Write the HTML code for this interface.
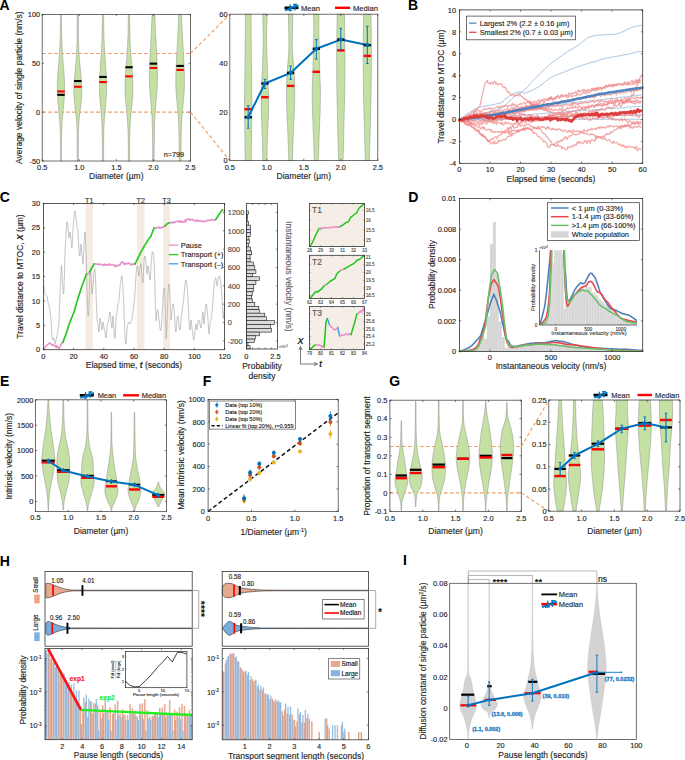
<!DOCTYPE html>
<html><head><meta charset="utf-8"><style>
html,body{margin:0;padding:0;background:#fff;}
svg{display:block;}
text{font-family:"Liberation Sans", sans-serif;}
</style></head><body>
<svg width="685" height="760" viewBox="0 0 685 760" font-family='"Liberation Sans", sans-serif'>
<rect width="685" height="760" fill="#fff"/>
<text x="-0.4" y="10.4" font-size="14" fill="#000" font-weight="bold">A</text>
<line x1="42.2" y1="53.5" x2="190.5" y2="53.5" stroke="#f39a5d" stroke-width="1.1" stroke-linecap="butt" stroke-dasharray="3.6,2.4"/>
<line x1="42.2" y1="112.1" x2="190.5" y2="112.1" stroke="#f39a5d" stroke-width="1.1" stroke-linecap="butt" stroke-dasharray="3.6,2.4"/>
<polygon points="60.5,14.4 60.5,16.2 60.5,18.1 60.5,19.9 60.5,21.7 60.4,23.6 60.4,25.4 60.4,27.2 60.4,29.1 60.4,30.9 60.3,32.7 60.3,34.6 60.2,36.4 60.2,38.2 60.1,40.1 60.1,41.9 60,43.7 59.9,45.6 59.8,47.4 59.7,49.2 59.6,51.1 59.5,52.9 59.4,54.7 59.3,56.5 59.1,58.4 59,60.2 58.8,62 58.7,63.9 58.5,65.7 58.4,67.5 58.2,69.4 58.1,71.2 57.9,73 57.8,74.9 57.7,76.7 57.6,78.5 57.5,80.4 57.4,82.2 57.4,84 57.3,85.9 57.3,87.7 57.3,89.5 57.3,91.4 57.4,93.2 57.5,95 57.6,96.9 57.7,98.7 57.8,100.5 58,102.4 58.2,104.2 58.4,106 58.5,107.9 58.7,109.7 58.9,111.5 59.1,113.4 59.2,115.2 59.4,117 59.5,118.9 59.7,120.7 59.8,122.5 59.9,124.3 60,126.2 60.1,128 60.2,129.8 60.2,131.7 60.3,133.5 60.3,135.3 60.4,137.2 60.4,139 60.4,140.8 60.4,142.7 60.5,144.5 60.5,146.3 60.5,148.2 60.5,150 60.5,151.8 60.5,153.7 60.5,155.5 60.5,157.3 60.5,159.2 60.5,161 61.4,161 61.4,159.2 61.4,157.3 61.4,155.5 61.4,153.7 61.4,151.8 61.4,150 61.4,148.2 61.5,146.3 61.5,144.5 61.5,142.7 61.5,140.8 61.5,139 61.6,137.2 61.6,135.3 61.6,133.5 61.7,131.7 61.8,129.8 61.8,128 61.9,126.2 62,124.3 62.1,122.5 62.2,120.7 62.4,118.9 62.5,117 62.7,115.2 62.9,113.4 63,111.5 63.2,109.7 63.4,107.9 63.6,106 63.7,104.2 63.9,102.4 64.1,100.5 64.2,98.7 64.3,96.9 64.4,95 64.5,93.2 64.6,91.4 64.6,89.5 64.6,87.7 64.6,85.9 64.5,84 64.5,82.2 64.4,80.4 64.3,78.5 64.2,76.7 64.1,74.9 64,73 63.8,71.2 63.7,69.4 63.5,67.5 63.4,65.7 63.2,63.9 63.1,62 62.9,60.2 62.8,58.4 62.7,56.5 62.5,54.7 62.4,52.9 62.3,51.1 62.2,49.2 62.1,47.4 62,45.6 61.9,43.7 61.8,41.9 61.8,40.1 61.7,38.2 61.7,36.4 61.6,34.6 61.6,32.7 61.6,30.9 61.5,29.1 61.5,27.2 61.5,25.4 61.5,23.6 61.5,21.7 61.5,19.9 61.4,18.1 61.4,16.2 61.4,14.4" fill="#c5e0a3" stroke="#8c8c8c" stroke-width="0.5"/>
<polygon points="77.2,14.4 77.2,16.2 77.2,18.1 77.2,19.9 77.2,21.7 77.2,23.6 77.2,25.4 77.2,27.2 77.2,29.1 77.2,30.9 77.2,32.7 77.1,34.6 77.1,36.4 77.1,38.2 77.1,40.1 77,41.9 77,43.7 76.9,45.6 76.8,47.4 76.8,49.2 76.7,51.1 76.6,52.9 76.5,54.7 76.3,56.5 76.2,58.4 76.1,60.2 75.9,62 75.8,63.9 75.6,65.7 75.4,67.5 75.3,69.4 75.1,71.2 74.9,73 74.7,74.9 74.6,76.7 74.4,78.5 74.3,80.4 74.2,82.2 74,84 74,85.9 73.9,87.7 73.9,89.5 73.8,91.4 73.9,93.2 73.9,95 74,96.9 74.1,98.7 74.3,100.5 74.5,102.4 74.7,104.2 74.9,106 75.1,107.9 75.4,109.7 75.6,111.5 75.8,113.4 76,115.2 76.2,117 76.4,118.9 76.5,120.7 76.6,122.5 76.8,124.3 76.9,126.2 76.9,128 77,129.8 77.1,131.7 77.1,133.5 77.1,135.3 77.2,137.2 77.2,139 77.2,140.8 77.2,142.7 77.2,144.5 77.2,146.3 77.2,148.2 77.2,150 77.2,151.8 77.2,153.7 77.2,155.5 77.2,157.3 77.2,159.2 77.2,161 78.3,161 78.3,159.2 78.3,157.3 78.3,155.5 78.3,153.7 78.3,151.8 78.3,150 78.4,148.2 78.4,146.3 78.4,144.5 78.4,142.7 78.4,140.8 78.4,139 78.4,137.2 78.4,135.3 78.5,133.5 78.5,131.7 78.6,129.8 78.7,128 78.7,126.2 78.8,124.3 78.9,122.5 79.1,120.7 79.2,118.9 79.4,117 79.6,115.2 79.8,113.4 80,111.5 80.2,109.7 80.4,107.9 80.7,106 80.9,104.2 81.1,102.4 81.3,100.5 81.4,98.7 81.6,96.9 81.7,95 81.7,93.2 81.7,91.4 81.7,89.5 81.7,87.7 81.6,85.9 81.5,84 81.4,82.2 81.3,80.4 81.2,78.5 81,76.7 80.9,74.9 80.7,73 80.5,71.2 80.3,69.4 80.2,67.5 80,65.7 79.8,63.9 79.7,62 79.5,60.2 79.4,58.4 79.2,56.5 79.1,54.7 79,52.9 78.9,51.1 78.8,49.2 78.8,47.4 78.7,45.6 78.6,43.7 78.6,41.9 78.5,40.1 78.5,38.2 78.5,36.4 78.4,34.6 78.4,32.7 78.4,30.9 78.4,29.1 78.4,27.2 78.4,25.4 78.4,23.6 78.4,21.7 78.4,19.9 78.4,18.1 78.3,16.2 78.3,14.4" fill="#c5e0a3" stroke="#8c8c8c" stroke-width="0.5"/>
<polygon points="102.4,14.4 102.3,16.2 102.3,18.1 102.3,19.9 102.3,21.7 102.3,23.6 102.3,25.4 102.2,27.2 102.2,29.1 102.2,30.9 102.1,32.7 102.1,34.6 102,36.4 102,38.2 101.9,40.1 101.8,41.9 101.8,43.7 101.7,45.6 101.6,47.4 101.5,49.2 101.4,51.1 101.3,52.9 101.2,54.7 101,56.5 100.9,58.4 100.8,60.2 100.7,62 100.5,63.9 100.4,65.7 100.3,67.5 100.2,69.4 100.1,71.2 99.9,73 99.8,74.9 99.8,76.7 99.7,78.5 99.6,80.4 99.6,82.2 99.5,84 99.5,85.9 99.5,87.7 99.5,89.5 99.6,91.4 99.6,93.2 99.7,95 99.8,96.9 99.9,98.7 100.1,100.5 100.2,102.4 100.4,104.2 100.5,106 100.7,107.9 100.9,109.7 101,111.5 101.2,113.4 101.3,115.2 101.5,117 101.6,118.9 101.7,120.7 101.8,122.5 101.9,124.3 102,126.2 102.1,128 102.1,129.8 102.2,131.7 102.2,133.5 102.3,135.3 102.3,137.2 102.3,139 102.3,140.8 102.3,142.7 102.4,144.5 102.4,146.3 102.4,148.2 102.4,150 102.4,151.8 102.4,153.7 102.4,155.5 102.4,157.3 102.4,159.2 102.4,161 103.6,161 103.6,159.2 103.6,157.3 103.6,155.5 103.6,153.7 103.6,151.8 103.6,150 103.6,148.2 103.6,146.3 103.6,144.5 103.7,142.7 103.7,140.8 103.7,139 103.7,137.2 103.8,135.3 103.8,133.5 103.8,131.7 103.9,129.8 103.9,128 104,126.2 104.1,124.3 104.2,122.5 104.3,120.7 104.4,118.9 104.5,117 104.7,115.2 104.8,113.4 105,111.5 105.1,109.7 105.3,107.9 105.5,106 105.6,104.2 105.8,102.4 105.9,100.5 106.1,98.7 106.2,96.9 106.3,95 106.4,93.2 106.5,91.4 106.5,89.5 106.5,87.7 106.5,85.9 106.5,84 106.4,82.2 106.4,80.4 106.3,78.5 106.2,76.7 106.2,74.9 106.1,73 106,71.2 105.8,69.4 105.7,67.5 105.6,65.7 105.5,63.9 105.3,62 105.2,60.2 105.1,58.4 105,56.5 104.9,54.7 104.7,52.9 104.6,51.1 104.5,49.2 104.4,47.4 104.3,45.6 104.3,43.7 104.2,41.9 104.1,40.1 104,38.2 104,36.4 103.9,34.6 103.9,32.7 103.8,30.9 103.8,29.1 103.8,27.2 103.7,25.4 103.7,23.6 103.7,21.7 103.7,19.9 103.7,18.1 103.7,16.2 103.6,14.4" fill="#c5e0a3" stroke="#8c8c8c" stroke-width="0.5"/>
<polygon points="128.3,14.4 128.3,16.2 128.3,18.1 128.3,19.9 128.3,21.7 128.2,23.6 128.2,25.4 128.2,27.2 128.1,29.1 128.1,30.9 128.1,32.7 128,34.6 128,36.4 127.9,38.2 127.8,40.1 127.7,41.9 127.7,43.7 127.6,45.6 127.5,47.4 127.4,49.2 127.3,51.1 127.1,52.9 127,54.7 126.9,56.5 126.7,58.4 126.6,60.2 126.5,62 126.3,63.9 126.2,65.7 126,67.5 125.9,69.4 125.8,71.2 125.6,73 125.5,74.9 125.4,76.7 125.3,78.5 125.2,80.4 125.2,82.2 125.1,84 125.1,85.9 125.1,87.7 125.1,89.5 125.1,91.4 125.1,93.2 125.2,95 125.3,96.9 125.5,98.7 125.6,100.5 125.8,102.4 125.9,104.2 126.1,106 126.3,107.9 126.5,109.7 126.7,111.5 126.9,113.4 127,115.2 127.2,117 127.4,118.9 127.5,120.7 127.6,122.5 127.7,124.3 127.8,126.2 127.9,128 128,129.8 128.1,131.7 128.1,133.5 128.2,135.3 128.2,137.2 128.2,139 128.3,140.8 128.3,142.7 128.3,144.5 128.3,146.3 128.3,148.2 128.3,150 128.3,151.8 128.3,153.7 128.3,155.5 128.3,157.3 128.4,159.2 128.4,161 129.6,161 129.6,159.2 129.6,157.3 129.6,155.5 129.6,153.7 129.6,151.8 129.6,150 129.6,148.2 129.6,146.3 129.6,144.5 129.6,142.7 129.6,140.8 129.7,139 129.7,137.2 129.7,135.3 129.8,133.5 129.8,131.7 129.9,129.8 130,128 130.1,126.2 130.2,124.3 130.3,122.5 130.4,120.7 130.6,118.9 130.7,117 130.9,115.2 131,113.4 131.2,111.5 131.4,109.7 131.6,107.9 131.8,106 132,104.2 132.1,102.4 132.3,100.5 132.4,98.7 132.6,96.9 132.7,95 132.8,93.2 132.8,91.4 132.9,89.5 132.9,87.7 132.8,85.9 132.8,84 132.8,82.2 132.7,80.4 132.6,78.5 132.5,76.7 132.4,74.9 132.3,73 132.2,71.2 132,69.4 131.9,67.5 131.7,65.7 131.6,63.9 131.5,62 131.3,60.2 131.2,58.4 131,56.5 130.9,54.7 130.8,52.9 130.7,51.1 130.5,49.2 130.4,47.4 130.3,45.6 130.2,43.7 130.2,41.9 130.1,40.1 130,38.2 130,36.4 129.9,34.6 129.8,32.7 129.8,30.9 129.8,29.1 129.7,27.2 129.7,25.4 129.7,23.6 129.7,21.7 129.6,19.9 129.6,18.1 129.6,16.2 129.6,14.4" fill="#c5e0a3" stroke="#8c8c8c" stroke-width="0.5"/>
<polygon points="152,14.4 152,16.2 151.9,18.1 151.8,19.9 151.8,21.7 151.7,23.6 151.6,25.4 151.5,27.2 151.5,29.1 151.4,30.9 151.3,32.7 151.2,34.6 151.1,36.4 151,38.2 150.9,40.1 150.8,41.9 150.7,43.7 150.6,45.6 150.5,47.4 150.4,49.2 150.3,51.1 150.2,52.9 150.1,54.7 150,56.5 149.9,58.4 149.8,60.2 149.8,62 149.7,63.9 149.6,65.7 149.6,67.5 149.5,69.4 149.5,71.2 149.5,73 149.4,74.9 149.4,76.7 149.4,78.5 149.4,80.4 149.5,82.2 149.5,84 149.6,85.9 149.7,87.7 149.8,89.5 149.9,91.4 150.1,93.2 150.2,95 150.4,96.9 150.5,98.7 150.7,100.5 150.9,102.4 151,104.2 151.2,106 151.3,107.9 151.5,109.7 151.6,111.5 151.7,113.4 151.9,115.2 152,117 152.1,118.9 152.1,120.7 152.2,122.5 152.3,124.3 152.3,126.2 152.4,128 152.4,129.8 152.5,131.7 152.5,133.5 152.5,135.3 152.5,137.2 152.6,139 152.6,140.8 152.6,142.7 152.6,144.5 152.6,146.3 152.6,148.2 152.6,150 152.6,151.8 152.6,153.7 152.6,155.5 152.6,157.3 152.6,159.2 152.6,161 154.2,161 154.2,159.2 154.2,157.3 154.2,155.5 154.2,153.7 154.2,151.8 154.2,150 154.2,148.2 154.2,146.3 154.3,144.5 154.3,142.7 154.3,140.8 154.3,139 154.3,137.2 154.3,135.3 154.4,133.5 154.4,131.7 154.4,129.8 154.5,128 154.5,126.2 154.6,124.3 154.6,122.5 154.7,120.7 154.8,118.9 154.9,117 155,115.2 155.1,113.4 155.2,111.5 155.4,109.7 155.5,107.9 155.7,106 155.8,104.2 156,102.4 156.2,100.5 156.3,98.7 156.5,96.9 156.6,95 156.8,93.2 156.9,91.4 157.1,89.5 157.2,87.7 157.3,85.9 157.3,84 157.4,82.2 157.4,80.4 157.4,78.5 157.4,76.7 157.4,74.9 157.4,73 157.3,71.2 157.3,69.4 157.3,67.5 157.2,65.7 157.1,63.9 157.1,62 157,60.2 156.9,58.4 156.8,56.5 156.8,54.7 156.7,52.9 156.6,51.1 156.5,49.2 156.4,47.4 156.3,45.6 156.2,43.7 156.1,41.9 156,40.1 155.9,38.2 155.8,36.4 155.7,34.6 155.6,32.7 155.5,30.9 155.4,29.1 155.3,27.2 155.2,25.4 155.2,23.6 155.1,21.7 155,19.9 154.9,18.1 154.9,16.2 154.8,14.4" fill="#c5e0a3" stroke="#8c8c8c" stroke-width="0.5"/>
<polygon points="178.7,14.4 178.7,16.2 178.6,18.1 178.5,19.9 178.5,21.7 178.4,23.6 178.3,25.4 178.2,27.2 178.2,29.1 178.1,30.9 178,32.7 177.9,34.6 177.8,36.4 177.7,38.2 177.6,40.1 177.5,41.9 177.4,43.7 177.3,45.6 177.2,47.4 177.1,49.2 177,51.1 176.9,52.9 176.7,54.7 176.6,56.5 176.5,58.4 176.5,60.2 176.4,62 176.3,63.9 176.2,65.7 176.1,67.5 176.1,69.4 176,71.2 175.9,73 175.9,74.9 175.9,76.7 175.8,78.5 175.8,80.4 175.8,82.2 175.8,84 175.9,85.9 175.9,87.7 176,89.5 176.1,91.4 176.2,93.2 176.3,95 176.5,96.9 176.6,98.7 176.8,100.5 177,102.4 177.1,104.2 177.3,106 177.5,107.9 177.7,109.7 177.8,111.5 178,113.4 178.1,115.2 178.3,117 178.4,118.9 178.5,120.7 178.6,122.5 178.7,124.3 178.8,126.2 178.8,128 178.9,129.8 179,131.7 179,133.5 179,135.3 179.1,137.2 179.1,139 179.1,140.8 179.1,142.7 179.2,144.5 179.2,146.3 179.2,148.2 179.2,150 179.2,151.8 179.2,153.7 179.2,155.5 179.2,157.3 179.2,159.2 179.2,161 181,161 181,159.2 181,157.3 181,155.5 181,153.7 181,151.8 181,150 181.1,148.2 181.1,146.3 181.1,144.5 181.1,142.7 181.1,140.8 181.1,139 181.2,137.2 181.2,135.3 181.2,133.5 181.3,131.7 181.3,129.8 181.4,128 181.5,126.2 181.5,124.3 181.6,122.5 181.7,120.7 181.9,118.9 182,117 182.1,115.2 182.3,113.4 182.4,111.5 182.6,109.7 182.7,107.9 182.9,106 183.1,104.2 183.3,102.4 183.4,100.5 183.6,98.7 183.8,96.9 183.9,95 184,93.2 184.2,91.4 184.3,89.5 184.3,87.7 184.4,85.9 184.4,84 184.4,82.2 184.4,80.4 184.4,78.5 184.4,76.7 184.3,74.9 184.3,73 184.2,71.2 184.2,69.4 184.1,67.5 184,65.7 184,63.9 183.9,62 183.8,60.2 183.7,58.4 183.6,56.5 183.5,54.7 183.4,52.9 183.3,51.1 183.2,49.2 183.1,47.4 183,45.6 182.9,43.7 182.7,41.9 182.6,40.1 182.5,38.2 182.4,36.4 182.3,34.6 182.3,32.7 182.2,30.9 182.1,29.1 182,27.2 181.9,25.4 181.8,23.6 181.8,21.7 181.7,19.9 181.6,18.1 181.6,16.2 181.5,14.4" fill="#c5e0a3" stroke="#8c8c8c" stroke-width="0.5"/>
<rect x="57.3" y="90.4" width="7.4" height="2.1" fill="#ff0000" stroke="none" stroke-width="0.8"/>
<rect x="57.3" y="93.8" width="7.4" height="2.1" fill="#000000" stroke="none" stroke-width="0.8"/>
<rect x="74.1" y="85.7" width="7.4" height="2.1" fill="#ff0000" stroke="none" stroke-width="0.8"/>
<rect x="74.1" y="80" width="7.4" height="2.1" fill="#000000" stroke="none" stroke-width="0.8"/>
<rect x="99.3" y="81" width="7.4" height="2.1" fill="#ff0000" stroke="none" stroke-width="0.8"/>
<rect x="99.3" y="75.9" width="7.4" height="2.1" fill="#000000" stroke="none" stroke-width="0.8"/>
<rect x="125.3" y="75.3" width="7.4" height="2.1" fill="#ff0000" stroke="none" stroke-width="0.8"/>
<rect x="125.3" y="66.2" width="7.4" height="2.1" fill="#000000" stroke="none" stroke-width="0.8"/>
<rect x="149.7" y="66.9" width="7.4" height="2.1" fill="#ff0000" stroke="none" stroke-width="0.8"/>
<rect x="149.7" y="62.6" width="7.4" height="2.1" fill="#000000" stroke="none" stroke-width="0.8"/>
<rect x="176.4" y="68.9" width="7.4" height="2.1" fill="#ff0000" stroke="none" stroke-width="0.8"/>
<rect x="176.4" y="64.9" width="7.4" height="2.1" fill="#000000" stroke="none" stroke-width="0.8"/>
<rect x="42.2" y="14.4" width="148.3" height="146.6" fill="none" stroke="#4d4d4d" stroke-width="0.8"/>
<line x1="42.2" y1="161" x2="42.2" y2="159.2" stroke="#262626" stroke-width="0.6" stroke-linecap="butt"/>
<line x1="42.2" y1="14.4" x2="42.2" y2="16.2" stroke="#262626" stroke-width="0.6" stroke-linecap="butt"/>
<text x="42.2" y="169.9" font-size="7.4" fill="#262626" stroke="#262626" stroke-width="0.14" text-anchor="middle">0.5</text>
<line x1="79.3" y1="161" x2="79.3" y2="159.2" stroke="#262626" stroke-width="0.6" stroke-linecap="butt"/>
<line x1="79.3" y1="14.4" x2="79.3" y2="16.2" stroke="#262626" stroke-width="0.6" stroke-linecap="butt"/>
<text x="79.3" y="169.9" font-size="7.4" fill="#262626" stroke="#262626" stroke-width="0.14" text-anchor="middle">1.0</text>
<line x1="116.4" y1="161" x2="116.4" y2="159.2" stroke="#262626" stroke-width="0.6" stroke-linecap="butt"/>
<line x1="116.4" y1="14.4" x2="116.4" y2="16.2" stroke="#262626" stroke-width="0.6" stroke-linecap="butt"/>
<text x="116.4" y="169.9" font-size="7.4" fill="#262626" stroke="#262626" stroke-width="0.14" text-anchor="middle">1.5</text>
<line x1="153.4" y1="161" x2="153.4" y2="159.2" stroke="#262626" stroke-width="0.6" stroke-linecap="butt"/>
<line x1="153.4" y1="14.4" x2="153.4" y2="16.2" stroke="#262626" stroke-width="0.6" stroke-linecap="butt"/>
<text x="153.4" y="169.9" font-size="7.4" fill="#262626" stroke="#262626" stroke-width="0.14" text-anchor="middle">2.0</text>
<line x1="190.5" y1="161" x2="190.5" y2="159.2" stroke="#262626" stroke-width="0.6" stroke-linecap="butt"/>
<line x1="190.5" y1="14.4" x2="190.5" y2="16.2" stroke="#262626" stroke-width="0.6" stroke-linecap="butt"/>
<text x="190.5" y="169.9" font-size="7.4" fill="#262626" stroke="#262626" stroke-width="0.14" text-anchor="middle">2.5</text>
<line x1="42.2" y1="161" x2="44" y2="161" stroke="#262626" stroke-width="0.6" stroke-linecap="butt"/>
<line x1="190.5" y1="161" x2="188.7" y2="161" stroke="#262626" stroke-width="0.6" stroke-linecap="butt"/>
<text x="40.2" y="163.7" font-size="7.4" fill="#262626" stroke="#262626" stroke-width="0.14" text-anchor="end">-50</text>
<line x1="42.2" y1="112.1" x2="44" y2="112.1" stroke="#262626" stroke-width="0.6" stroke-linecap="butt"/>
<line x1="190.5" y1="112.1" x2="188.7" y2="112.1" stroke="#262626" stroke-width="0.6" stroke-linecap="butt"/>
<text x="40.2" y="114.8" font-size="7.4" fill="#262626" stroke="#262626" stroke-width="0.14" text-anchor="end">0</text>
<line x1="42.2" y1="63.3" x2="44" y2="63.3" stroke="#262626" stroke-width="0.6" stroke-linecap="butt"/>
<line x1="190.5" y1="63.3" x2="188.7" y2="63.3" stroke="#262626" stroke-width="0.6" stroke-linecap="butt"/>
<text x="40.2" y="65.9" font-size="7.4" fill="#262626" stroke="#262626" stroke-width="0.14" text-anchor="end">50</text>
<line x1="42.2" y1="14.4" x2="44" y2="14.4" stroke="#262626" stroke-width="0.6" stroke-linecap="butt"/>
<line x1="190.5" y1="14.4" x2="188.7" y2="14.4" stroke="#262626" stroke-width="0.6" stroke-linecap="butt"/>
<text x="40.2" y="17.1" font-size="7.4" fill="#262626" stroke="#262626" stroke-width="0.14" text-anchor="end">100</text>
<text x="116.3" y="179.4" font-size="8.5" fill="#262626" stroke="#262626" stroke-width="0.14" text-anchor="middle">Diameter (µm)</text>
<text transform="translate(21.9,87.7) rotate(-90)" font-size="8.5" fill="#262626" stroke="#262626" stroke-width="0.14" text-anchor="middle">Average velocity of single particle (nm/s)</text>
<text x="184.2" y="156.8" font-size="7.3" fill="#262626" stroke="#262626" stroke-width="0.14" text-anchor="end">n=799</text>
<line x1="190.5" y1="53.5" x2="229.8" y2="14.2" stroke="#f39a5d" stroke-width="1.1" stroke-linecap="butt" stroke-dasharray="3.6,2.4"/>
<line x1="190.5" y1="112.1" x2="229.8" y2="160.6" stroke="#f39a5d" stroke-width="1.1" stroke-linecap="butt" stroke-dasharray="3.6,2.4"/>
<polygon points="245.3,14.2 245.3,18.7 245.3,25.2 245.3,32.6 245.2,40 245.1,47.2 245.1,54.7 245,62.4 244.9,70 244.8,77.5 244.7,85 244.6,92.5 244.5,100 244.5,107.5 244.6,115 244.7,122.5 244.8,130 244.9,138.3 245,147.2 245.1,155.1 245.2,160.6 251.2,160.6 251.3,155.1 251.4,147.2 251.5,138.3 251.6,130 251.7,122.5 251.8,115 251.9,107.5 251.9,100 251.8,92.5 251.7,85 251.6,77.5 251.5,70 251.4,62.4 251.3,54.7 251.3,47.2 251.2,40 251.1,32.6 251.1,25.2 251.1,18.7 251,14.2" fill="#c5e0a3" stroke="#8c8c8c" stroke-width="0.5"/>
<polygon points="262.6,14.2 262.8,18.6 263,25 263.2,32.1 263.3,38.5 263.2,44.1 263.1,49.5 262.9,54.8 262.7,60 262.5,65.1 262.3,70.1 262.1,75 261.9,80 261.7,85 261.5,90 261.3,95 261.2,100 261.2,105 261.3,110 261.4,115 261.6,120 261.8,125 262,130 262.2,135 262.4,140 262.6,145.6 262.7,151.6 262.8,156.9 262.9,160.6 266.9,160.6 267,156.9 267.1,151.6 267.2,145.6 267.4,140 267.6,135 267.8,130 268,125 268.2,120 268.4,115 268.5,110 268.6,105 268.6,100 268.5,95 268.3,90 268.1,85 267.9,80 267.7,75 267.5,70.1 267.3,65.1 267.1,60 266.9,54.8 266.7,49.5 266.6,44.1 266.5,38.5 266.6,32.1 266.8,25 267,18.6 267.2,14.2" fill="#c5e0a3" stroke="#8c8c8c" stroke-width="0.5"/>
<polygon points="288.4,14.2 288.5,17 288.5,21 288.6,25.7 288.7,30.4 288.8,35.2 288.9,40.3 288.9,45.6 288.8,50.8 288.5,55.9 288.1,61 287.6,66.1 287.2,71.2 286.9,76.3 286.7,81.4 286.6,86.5 286.5,91.6 286.5,96.7 286.6,101.8 286.7,106.9 286.9,112 287.1,116.9 287.3,121.7 287.6,126.8 287.8,132.4 288.1,139.6 288.4,147.8 288.6,155.4 288.8,160.6 292.4,160.6 292.6,155.4 292.8,147.8 293.1,139.6 293.4,132.4 293.6,126.8 293.9,121.7 294.1,116.9 294.3,112 294.5,106.9 294.6,101.8 294.7,96.7 294.7,91.6 294.6,86.5 294.5,81.4 294.3,76.3 294,71.2 293.6,66.1 293.2,61 292.7,55.9 292.4,50.8 292.3,45.6 292.3,40.3 292.4,35.2 292.5,30.4 292.6,25.7 292.7,21 292.7,17 292.8,14.2" fill="#c5e0a3" stroke="#8c8c8c" stroke-width="0.5"/>
<polygon points="313.5,14.2 313.6,17 313.7,21 313.8,25.7 313.8,30.4 313.7,35.2 313.6,40.3 313.4,45.6 313.3,50.8 313.2,55.9 313.1,61 313,66.1 312.9,71.2 312.7,76.3 312.5,81.4 312.3,86.5 312.2,91.6 312.2,96.7 312.3,101.8 312.4,106.9 312.5,112 312.7,116.9 312.9,121.7 313.1,126.8 313.3,132.4 313.6,139.6 313.9,147.8 314.1,155.4 314.3,160.6 318.3,160.6 318.5,155.4 318.8,147.8 319,139.6 319.3,132.4 319.5,126.8 319.7,121.7 319.9,116.9 320.1,112 320.2,106.9 320.3,101.8 320.4,96.7 320.4,91.6 320.3,86.5 320.1,81.4 319.9,76.3 319.7,71.2 319.6,66.1 319.5,61 319.4,55.9 319.3,50.8 319.2,45.6 319,40.3 318.9,35.2 318.8,30.4 318.8,25.7 318.9,21 319,17 319.1,14.2" fill="#c5e0a3" stroke="#8c8c8c" stroke-width="0.5"/>
<polygon points="337.2,14.2 337.1,21.2 336.9,31.2 336.8,41.9 336.7,50.8 336.7,57 336.7,62 336.7,66.5 336.7,71.2 336.7,76.3 336.8,81.4 336.8,86.5 336.9,91.6 337,96.7 337.1,101.8 337.3,106.9 337.4,112 337.5,116.9 337.6,121.7 337.7,126.8 337.8,132.4 338,139.6 338.2,147.8 338.4,155.4 338.6,160.6 343,160.6 343.2,155.4 343.4,147.8 343.6,139.6 343.8,132.4 343.9,126.8 344,121.7 344.1,116.9 344.2,112 344.3,106.9 344.5,101.8 344.6,96.7 344.7,91.6 344.8,86.5 344.8,81.4 344.9,76.3 344.9,71.2 344.9,66.5 344.9,62 344.9,57 344.9,50.8 344.8,41.9 344.7,31.2 344.5,21.2 344.4,14.2" fill="#c5e0a3" stroke="#8c8c8c" stroke-width="0.5"/>
<polygon points="363.7,14.2 363.6,20.7 363.4,29.9 363.3,40.5 363.2,50.8 363.2,60.7 363.3,70.9 363.4,81.3 363.5,91.6 363.7,102.1 364,112.8 364.2,123.1 364.5,132.4 364.7,141 365,149.1 365.2,155.8 365.3,160.6 369.3,160.6 369.4,155.8 369.6,149.1 369.9,141 370.1,132.4 370.4,123.1 370.6,112.8 370.9,102.1 371.1,91.6 371.2,81.3 371.3,70.9 371.4,60.7 371.4,50.8 371.3,40.5 371.2,29.9 371,20.7 370.9,14.2" fill="#c5e0a3" stroke="#8c8c8c" stroke-width="0.5"/>
<rect x="244.5" y="108" width="7.4" height="2.4" fill="#ff0000" stroke="none" stroke-width="0.8"/>
<rect x="261.2" y="96" width="7.4" height="2.4" fill="#ff0000" stroke="none" stroke-width="0.8"/>
<rect x="286.9" y="84.7" width="7.4" height="2.4" fill="#ff0000" stroke="none" stroke-width="0.8"/>
<rect x="312.6" y="70.6" width="7.4" height="2.4" fill="#ff0000" stroke="none" stroke-width="0.8"/>
<rect x="337.1" y="49.2" width="7.4" height="2.4" fill="#ff0000" stroke="none" stroke-width="0.8"/>
<rect x="363.6" y="54.7" width="7.4" height="2.4" fill="#ff0000" stroke="none" stroke-width="0.8"/>
<polyline points="248.2,117.3 264.9,83.5 290.6,72.9 316.3,48.8 340.8,39.6 367.3,45.1" fill="none" stroke="#0072bd" stroke-width="2" stroke-linejoin="round" stroke-linecap="round"/>
<rect x="244.6" y="116.1" width="7.2" height="2.4" fill="#000" stroke="none" stroke-width="0.8"/>
<line x1="248.2" y1="105.8" x2="248.2" y2="128.2" stroke="#0072bd" stroke-width="1" stroke-linecap="butt"/>
<line x1="246.9" y1="105.8" x2="249.5" y2="105.8" stroke="#0072bd" stroke-width="1" stroke-linecap="butt"/>
<line x1="246.9" y1="128.2" x2="249.5" y2="128.2" stroke="#0072bd" stroke-width="1" stroke-linecap="butt"/>
<circle cx="248.2" cy="117.3" r="2.1" fill="#0072bd"/>
<rect x="261.3" y="82.3" width="7.2" height="2.4" fill="#000" stroke="none" stroke-width="0.8"/>
<line x1="264.9" y1="79.3" x2="264.9" y2="88.5" stroke="#0072bd" stroke-width="1" stroke-linecap="butt"/>
<line x1="263.6" y1="79.3" x2="266.2" y2="79.3" stroke="#0072bd" stroke-width="1" stroke-linecap="butt"/>
<line x1="263.6" y1="88.5" x2="266.2" y2="88.5" stroke="#0072bd" stroke-width="1" stroke-linecap="butt"/>
<circle cx="264.9" cy="83.5" r="2.1" fill="#0072bd"/>
<rect x="287" y="71.7" width="7.2" height="2.4" fill="#000" stroke="none" stroke-width="0.8"/>
<line x1="290.6" y1="66.1" x2="290.6" y2="79.4" stroke="#0072bd" stroke-width="1" stroke-linecap="butt"/>
<line x1="289.3" y1="66.1" x2="291.9" y2="66.1" stroke="#0072bd" stroke-width="1" stroke-linecap="butt"/>
<line x1="289.3" y1="79.4" x2="291.9" y2="79.4" stroke="#0072bd" stroke-width="1" stroke-linecap="butt"/>
<circle cx="290.6" cy="72.9" r="2.1" fill="#0072bd"/>
<rect x="312.7" y="47.6" width="7.2" height="2.4" fill="#000" stroke="none" stroke-width="0.8"/>
<line x1="316.3" y1="39.6" x2="316.3" y2="59" stroke="#0072bd" stroke-width="1" stroke-linecap="butt"/>
<line x1="315" y1="39.6" x2="317.6" y2="39.6" stroke="#0072bd" stroke-width="1" stroke-linecap="butt"/>
<line x1="315" y1="59" x2="317.6" y2="59" stroke="#0072bd" stroke-width="1" stroke-linecap="butt"/>
<circle cx="316.3" cy="48.8" r="2.1" fill="#0072bd"/>
<rect x="337.2" y="38.4" width="7.2" height="2.4" fill="#000" stroke="none" stroke-width="0.8"/>
<line x1="340.8" y1="28.4" x2="340.8" y2="49.8" stroke="#0072bd" stroke-width="1" stroke-linecap="butt"/>
<line x1="339.5" y1="28.4" x2="342.1" y2="28.4" stroke="#0072bd" stroke-width="1" stroke-linecap="butt"/>
<line x1="339.5" y1="49.8" x2="342.1" y2="49.8" stroke="#0072bd" stroke-width="1" stroke-linecap="butt"/>
<circle cx="340.8" cy="39.6" r="2.1" fill="#0072bd"/>
<rect x="363.7" y="43.9" width="7.2" height="2.4" fill="#000" stroke="none" stroke-width="0.8"/>
<line x1="367.3" y1="26.3" x2="367.3" y2="63.5" stroke="#0072bd" stroke-width="1" stroke-linecap="butt"/>
<line x1="366" y1="26.3" x2="368.6" y2="26.3" stroke="#0072bd" stroke-width="1" stroke-linecap="butt"/>
<line x1="366" y1="63.5" x2="368.6" y2="63.5" stroke="#0072bd" stroke-width="1" stroke-linecap="butt"/>
<circle cx="367.3" cy="45.1" r="2.1" fill="#0072bd"/>
<rect x="229.8" y="14.2" width="148" height="146.4" fill="none" stroke="#4d4d4d" stroke-width="0.8"/>
<line x1="229.8" y1="160.6" x2="229.8" y2="158.8" stroke="#262626" stroke-width="0.6" stroke-linecap="butt"/>
<line x1="229.8" y1="14.2" x2="229.8" y2="16" stroke="#262626" stroke-width="0.6" stroke-linecap="butt"/>
<text x="229.8" y="169.9" font-size="7.4" fill="#262626" stroke="#262626" stroke-width="0.14" text-anchor="middle">0.5</text>
<line x1="266.8" y1="160.6" x2="266.8" y2="158.8" stroke="#262626" stroke-width="0.6" stroke-linecap="butt"/>
<line x1="266.8" y1="14.2" x2="266.8" y2="16" stroke="#262626" stroke-width="0.6" stroke-linecap="butt"/>
<text x="266.8" y="169.9" font-size="7.4" fill="#262626" stroke="#262626" stroke-width="0.14" text-anchor="middle">1.0</text>
<line x1="303.8" y1="160.6" x2="303.8" y2="158.8" stroke="#262626" stroke-width="0.6" stroke-linecap="butt"/>
<line x1="303.8" y1="14.2" x2="303.8" y2="16" stroke="#262626" stroke-width="0.6" stroke-linecap="butt"/>
<text x="303.8" y="169.9" font-size="7.4" fill="#262626" stroke="#262626" stroke-width="0.14" text-anchor="middle">1.5</text>
<line x1="340.8" y1="160.6" x2="340.8" y2="158.8" stroke="#262626" stroke-width="0.6" stroke-linecap="butt"/>
<line x1="340.8" y1="14.2" x2="340.8" y2="16" stroke="#262626" stroke-width="0.6" stroke-linecap="butt"/>
<text x="340.8" y="169.9" font-size="7.4" fill="#262626" stroke="#262626" stroke-width="0.14" text-anchor="middle">2.0</text>
<line x1="377.8" y1="160.6" x2="377.8" y2="158.8" stroke="#262626" stroke-width="0.6" stroke-linecap="butt"/>
<line x1="377.8" y1="14.2" x2="377.8" y2="16" stroke="#262626" stroke-width="0.6" stroke-linecap="butt"/>
<text x="377.8" y="169.9" font-size="7.4" fill="#262626" stroke="#262626" stroke-width="0.14" text-anchor="middle">2.5</text>
<text x="227.6" y="163.3" font-size="7.4" fill="#262626" stroke="#262626" stroke-width="0.14" text-anchor="end">0</text>
<text x="227.6" y="114.5" font-size="7.4" fill="#262626" stroke="#262626" stroke-width="0.14" text-anchor="end">20</text>
<text x="227.6" y="65.7" font-size="7.4" fill="#262626" stroke="#262626" stroke-width="0.14" text-anchor="end">40</text>
<text x="227.6" y="16.9" font-size="7.4" fill="#262626" stroke="#262626" stroke-width="0.14" text-anchor="end">60</text>
<text x="303.8" y="179.4" font-size="8.5" fill="#262626" stroke="#262626" stroke-width="0.14" text-anchor="middle">Diameter (µm)</text>
<rect x="284.5" y="6.5" width="14" height="2.6" fill="#000" stroke="none" stroke-width="0.8"/>
<polyline points="285,10.4 290.8,8.4 293.3,7 298.5,5.4" fill="none" stroke="#0072bd" stroke-width="2" stroke-linejoin="round" stroke-linecap="butt"/>
<line x1="290.3" y1="4.6" x2="290.3" y2="11.2" stroke="#0072bd" stroke-width="1.3" stroke-linecap="butt"/>
<line x1="294.8" y1="4.4" x2="294.8" y2="10.4" stroke="#0072bd" stroke-width="1.3" stroke-linecap="butt"/>
<line x1="288.5" y1="11" x2="292.2" y2="10" stroke="#0072bd" stroke-width="1.2" stroke-linecap="butt"/>
<line x1="293" y1="4.6" x2="296.8" y2="4.2" stroke="#0072bd" stroke-width="1.2" stroke-linecap="butt"/>
<text x="301" y="10.5" font-size="7.6" fill="#262626" stroke="#262626" stroke-width="0.14">Mean</text>
<rect x="335" y="6.6" width="15" height="2.4" fill="#ff0000" stroke="none" stroke-width="0.8"/>
<text x="353" y="10.5" font-size="7.6" fill="#262626" stroke="#262626" stroke-width="0.14">Median</text>
<text x="408" y="10.4" font-size="14" fill="#000" font-weight="bold">B</text>
<polyline points="459.4,119.5 460.1,119.3 460.7,119.1 461.4,118.9 462.1,118.7 462.7,118.5 463.4,118.3 464.1,118.2 464.7,118 465.4,117.9 466,117.7 466.6,117.6 467.3,117.4 467.9,117.1 468.5,116.9 469.2,116.7 469.8,116.6 470.4,116.5 471.1,116.3 471.7,116.2 472.4,116 473,115.8 473.6,115.6 474.3,115.4 474.9,115.2 475.5,115.1 476.2,115 476.8,114.9 477.5,114.7 478.1,114.6 478.7,114.5 479.4,114.4 480,114.2 480.6,114 481.2,113.8 481.8,113.6 482.4,113.4 483,113.2 483.6,113.1 484.2,112.9 484.8,112.8 485.4,112.7 486,112.6 486.6,112.5 487.2,112.4 487.8,112.3 488.4,112.1 489,112 489.6,111.9 490.2,111.8 490.9,111.6 491.5,111.5 492.1,111.4 492.7,111.2 493.3,111 493.9,110.9 494.5,110.8 495.1,110.6 495.7,110.4 496.4,110.1 497,109.9 497.6,109.6 498.3,109.4 498.9,109.1 499.5,108.8 500.2,108.6 500.8,108.4 501.4,108.1 502,107.8 502.7,107.4 503.3,106.9 503.9,106.3 504.5,105.8 505.2,105.3 505.8,104.8 506.5,104.2 507.1,103.5 507.8,102.9 508.5,102.3 509.2,101.6 509.9,100.8 510.5,100.1 511.2,99.4 511.9,98.7 512.6,98 513.3,97.3 514,96.8 514.7,96.4 515.4,96 516.1,95.5 516.8,94.9 517.5,94.4 518.3,93.8 518.9,93.4 519.6,93 520.2,92.7 521,92.2 521.8,91.8 522.5,91.4 523.2,91 523.8,90.5 524.4,90 525,89.5 525.7,88.8 526.3,88.1 527,87.4 527.6,86.7 528.3,86 528.9,85.3 529.5,84.6 530.1,83.9 530.7,83.2 531.3,82.5 532,81.8 532.6,81.1 533.2,80.3 533.8,79.6 534.5,78.9 535.3,78.3 536,77.6 536.7,76.9 537.4,76.1 538.1,75.3 538.9,74.5 539.6,73.8 540.3,73.1 541,72.4 541.8,71.7 542.5,71.1 543.2,70.4 544,69.8 544.7,69.1 545.4,68.4 546.2,67.7 546.9,67 547.6,66.4 548.4,65.7 549.1,65.1 549.8,64.4 550.6,63.8 551.3,63.2 552,62.6 552.8,62 553.5,61.5 554.2,60.9 554.9,60.4 555.6,60 556.4,59.5 557.1,59 557.8,58.5 558.5,58 559.3,57.5 560,57 560.7,56.4 561.5,55.9 562.2,55.4 562.9,54.9 563.7,54.4 564.4,53.9 565.1,53.4 565.9,52.8 566.6,52.3 567.3,51.8 568.1,51.3 568.8,50.8 569.5,50.5 570.2,50.1 571,49.6 571.7,49.2 572.4,48.8 573.1,48.4 573.8,48 574.5,47.6 575.2,47.2 575.8,46.8 576.4,46.4 577,46 577.6,45.7 578.3,45.2 579,44.7 579.7,44.2 580.4,43.6 581.1,43 581.7,42.4 582.3,41.9 583,41.5 583.6,41 584.2,40.5 584.8,40 585.5,39.5 586.1,39.1 586.8,38.7 587.4,38.2 588.1,37.8 588.7,37.5 589.4,37.2 590,37 590.6,36.7 591.3,36.5 592.1,36.3 592.8,36.1 593.5,35.9 594.3,35.8 595.1,35.7 595.8,35.5 596.5,35.4 597.2,35.3 597.9,35.2 598.6,35.2 599.4,35.2 600.1,35.1 600.8,35 601.6,34.9 602.3,34.8 603.1,34.8 603.8,34.8 604.5,34.7 605.3,34.6 606,34.6 606.7,34.6 607.5,34.6 608.2,34.6 608.9,34.6 609.7,34.5 610.4,34.5 611.1,34.4 611.9,34.4 612.6,34.4 613.3,34.3 614.1,34.2 614.8,34.1 615.5,34.1 616.3,33.9 617,33.8 617.7,33.6 618.5,33.4 619.2,33.1 619.9,32.9 620.7,32.7 621.4,32.4 622.1,32.1 622.9,31.7 623.6,31.5 624.4,31.2 625.1,30.7 625.8,30.2 626.6,29.8 627.3,29.3 628,29 628.7,28.8 629.4,28.5 630.1,28.3 630.7,28 631.4,27.7 632,27.4 632.6,27.2 633.4,27 634.2,26.8 634.9,26.5 635.7,26.3 636.4,26.1 637.1,25.9 637.8,25.8 638.5,25.7 639.2,25.6 639.9,25.6 640.5,25.5 641.2,25.5 641.8,25.4 642.5,25.4" fill="none" stroke="#93b6da" stroke-width="1" stroke-linejoin="round" stroke-linecap="round" stroke-opacity="0.9"/>
<polyline points="459.4,119.5 460.1,119 460.8,118.5 461.5,118 462.2,117.5 462.8,117 463.5,116.5 464.1,116 464.8,115.4 465.5,114.9 466.1,114.4 466.8,114 467.4,113.6 468.1,113.2 468.7,112.9 469.4,112.5 470,112.1 470.7,111.6 471.5,111.1 472.2,110.6 473,110.1 473.7,109.6 474.4,109.2 475.2,108.9 475.9,108.6 476.6,108.4 477.3,108.1 477.9,107.8 478.6,107.6 479.3,107.3 480,107.1 480.6,107 481.2,106.9 481.8,106.8 482.4,106.7 483.1,106.5 483.7,106.4 484.3,106.3 484.9,106.1 485.5,106 486.1,105.9 486.7,105.8 487.3,105.7 488,105.6 488.6,105.5 489.2,105.3 489.8,105.2 490.4,105 491,104.9 491.6,104.7 492.2,104.6 492.8,104.5 493.5,104.5 494.1,104.4 494.7,104.3 495.3,104.2 495.9,104 496.5,103.8 497.1,103.6 497.7,103.5 498.3,103.4 499,103.4 499.6,103.3 500.2,103.1 500.8,102.9 501.4,102.5 502,102.2 502.7,101.9 503.3,101.6 503.9,100.3 504.6,99.6 505.3,98.9 506,98.5 506.6,98.1 507.3,97.7 507.9,97.2 508.6,96.8 509.3,96.3 509.9,95.8 510.6,95.4 511.3,95.1 511.9,94.7 512.6,94.3 513.3,94 513.9,93.6 514.6,93.3 515.3,92.9 516,92.6 516.8,92.5 517.6,92.3 518.4,92 519.2,92 520.1,92 520.9,92.2 521.6,92.3 522.6,92.5 523.3,93 524.3,93.2 525.1,93 525.9,92.9 526.5,92.7 527.1,92.5 527.7,92.2 528.5,91.8 529.2,91.5 529.9,91.2 530.7,90.9 531.5,90.6 532.3,90.3 533,89.9 533.6,89.5 534.3,89.1 535,88.7 535.6,88.4 536.3,88.1 536.9,87.8 537.6,87.5 538.2,87.1 538.9,86.5 539.6,85.9 540.3,85.3 541,84.8 541.7,84.4 542.4,84 543,83.5 543.7,83 544.4,82.5 545.1,81.9 545.7,81.3 546.4,80.7 547.1,80.2 547.7,79.8 548.3,79.3 548.9,78.8 549.5,78.4 550.1,78 550.7,77.6 551.3,77.2 551.9,77 552.6,76.6 553.2,76.3 553.9,75.9 554.5,75.5 555.2,75.3 555.9,75.1 556.6,74.9 557.3,74.7 557.9,74.4 558.6,74.1 559.3,73.8 560,73.5 560.7,73.3 561.5,73 562.2,72.8 562.9,72.6 563.7,72.3 564.4,72 565.1,71.6 565.9,71.3 566.6,71 567.3,70.8 568.1,70.5 568.8,70.2 569.5,69.8 570.3,69.5 571,69.2 571.7,69 572.5,68.8 573.2,68.5 573.9,68.2 574.7,67.9 575.4,67.6 576.1,67.3 576.9,67 577.6,66.8 578.3,66.5 579.1,66.3 579.8,66 580.5,65.8 581.2,65.6 582,65.3 582.7,65.1 583.4,64.9 584.1,64.7 584.8,64.4 585.6,64.2 586.3,64 587,63.8 587.8,63.6 588.5,63.3 589.2,63.1 590,62.8 590.7,62.6 591.4,62.4 592.2,62.2 592.9,62 593.6,61.9 594.4,61.8 595.1,61.7 595.8,61.4 596.6,61.1 597.3,60.8 598,60.5 598.7,60.3 599.5,60.1 600.2,59.9 600.9,59.6 601.6,59.4 602.3,59.2 603.1,59 603.8,58.8 604.5,58.6 605.3,58.4 606,58.2 606.7,58.1 607.5,58 608.2,57.8 608.9,57.7 609.7,57.5 610.4,57.3 611.1,57.2 611.9,57.1 612.6,57 613.3,56.8 614.1,56.6 614.8,56.5 615.5,56.3 616.3,56.3 617,56.2 617.7,56.1 618.5,56 619.2,55.9 619.9,55.7 620.7,55.6 621.4,55.4 622.1,55.2 622.9,55.1 623.6,54.9 624.4,54.8 625.1,54.7 625.8,54.6 626.6,54.5 627.3,54.4 628,54.2 628.7,54.1 629.4,53.9 630.1,53.8 630.7,53.6 631.4,53.4 632,53.3 632.6,53.1 633.4,52.9 634.2,52.7 634.9,52.5 635.7,52.3 636.4,52.1 637.1,51.8 637.8,51.7 638.5,51.6 639.2,51.6 639.9,51.6 640.5,51.5 641.2,51.5 641.8,51.5 642.5,51.4" fill="none" stroke="#93b6da" stroke-width="1" stroke-linejoin="round" stroke-linecap="round" stroke-opacity="0.9"/>
<polyline points="459.2,120.1 459.8,120.1 460.4,120 461,119.8 461.6,119.7 462.2,119.6 462.8,119.5 463.4,119.6 464,119.6 464.6,119.6 465.2,119.6 465.8,119.4 466.4,119.3 467,119.1 467.6,119 468.2,119 468.8,118.9 469.4,118.8 470,118.7 470.6,118.5 471.2,118.4 471.8,118.3 472.4,118.3 473,118.2 473.7,118.1 474.3,118 474.9,117.9 475.5,117.8 476.1,117.8 476.7,117.8 477.3,117.7 477.9,117.6 478.5,117.5 479.1,117.5 479.7,117.4 480.3,117.4 480.9,117.3 481.5,117.1 482.1,117 482.7,116.9 483.3,116.8 483.9,116.6 484.5,116.4 485.1,116.3 485.7,116.3 486.3,116.2 486.9,116.2 487.5,116.2 488.1,116.2 488.7,116.1 489.3,116 490,115.9 490.6,115.8 491.2,115.7 491.8,115.6 492.4,115.5 493,115.4 493.6,115.3 494.2,115.3 494.8,115.2 495.4,115.1 496,115 496.6,114.8 497.2,114.7 497.8,114.7 498.4,114.7 499,114.6 499.6,114.5 500.2,114.4 500.8,114.4 501.4,114.4 502,114.4 502.6,114.3 503.2,114.3 503.8,114.2 504.4,114.1 505,114 505.6,113.8 506.3,113.7 506.9,113.5 507.5,113.4 508.1,113.4 508.7,113.4 509.3,113.3 509.9,113.3 510.5,113.1 511.1,113 511.7,112.9 512.3,112.9 512.9,112.9 513.5,112.7 514.1,112.5 514.7,112.3 515.3,112.2 515.9,112 516.5,111.9 517.1,111.9 517.7,111.9 518.3,111.9 518.9,111.8 519.5,111.7 520.1,111.6 520.7,111.5 521.3,111.4 521.9,111.3 522.5,111.1 523.1,111 523.7,111 524.3,110.9 525,110.8 525.6,110.6 526.2,110.4 526.8,110.3 527.4,110.2 528,110.1 528.6,109.9 529.2,109.9 529.8,109.8 530.4,109.7 531,109.5 531.6,109.4 532.2,109.2 532.8,109 533.4,108.9 534,108.9 534.6,108.9 535.2,108.8 535.8,108.8 536.4,108.7 537,108.6 537.6,108.5 538.2,108.4 538.8,108.4 539.4,108.3 540,108.2 540.6,108 541.2,107.9 541.8,107.8 542.4,107.6 543,107.5 543.6,107.3 544.2,107.2 544.9,107.1 545.5,107 546.1,106.9 546.7,106.8 547.3,106.8 547.9,106.8 548.5,106.8 549.1,106.7 549.7,106.6 550.3,106.4 550.9,106.2 551.5,106.2 552.1,106.2 552.7,106.1 553.3,105.9 553.9,105.7 554.5,105.5 555.1,105.3 555.7,105.3 556.3,105.2 556.9,105.1 557.5,105.1 558.1,105 558.7,104.8 559.3,104.7 559.9,104.5 560.5,104.3 561.1,104.3 561.7,104.2 562.3,104.1 562.9,104 563.5,103.9 564.1,103.8 564.8,103.7 565.4,103.6 566,103.4 566.6,103.3 567.2,103.2 567.8,103.2 568.4,103.1 569,103 569.6,103 570.2,103 570.8,103 571.4,102.9 572,102.9 572.6,102.9 573.2,102.9 573.8,102.8 574.4,102.7 575,102.6 575.6,102.4 576.2,102.3 576.8,102.3 577.4,102.3 578,102.3 578.6,102.2 579.2,102 579.8,101.9 580.5,101.9 581.1,101.8 581.7,101.8 582.3,101.8 582.9,101.7 583.5,101.6 584.1,101.4 584.7,101.4 585.3,101.3 585.9,101.3 586.5,101.2 587.1,101.1 587.7,101 588.3,100.9 588.9,100.9 589.5,101 590.1,101 590.7,100.9 591.3,100.8 591.9,100.7 592.5,100.6 593.1,100.6 593.7,100.6 594.3,100.4 594.9,100.4 595.6,100.3 596.2,100.3 596.8,100.2 597.4,100 598,99.9 598.6,99.8 599.2,99.7 599.8,99.7 600.4,99.6 601,99.7 601.6,99.7 602.2,99.6 602.8,99.6 603.4,99.5 604,99.3 604.6,99.2 605.2,99 605.8,98.9 606.4,98.9 607,98.8 607.6,98.8 608.2,98.7 608.8,98.6 609.4,98.5 610,98.4 610.7,98.4 611.3,98.4 611.9,98.4 612.5,98.4 613.1,98.3 613.7,98.2 614.3,98.2 614.9,98.2 615.5,98.2 616.1,98.1 616.7,98 617.3,97.8 617.9,97.6 618.5,97.5 619.1,97.4 619.7,97.4 620.3,97.4 620.9,97.4 621.5,97.3 622.1,97.3 622.7,97.2 623.3,97.2 623.9,97.1 624.5,97.1 625.1,97.1 625.8,97 626.4,96.9 627,96.8 627.6,96.7 628.2,96.6 628.8,96.5 629.4,96.4 630,96.3 630.6,96.2 631.2,96.2 631.8,96.1 632.4,96 633,95.9 633.6,95.9 634.2,95.8 634.8,95.8 635.4,95.7 636,95.5 636.6,95.4 637.2,95.4 637.8,95.4 638.4,95.4 639,95.3 639.6,95.2 640.2,95.1 640.9,95" fill="none" stroke="#93b6da" stroke-width="1" stroke-linejoin="round" stroke-linecap="round" stroke-opacity="0.9"/>
<polyline points="459.2,120.1 459.8,120.1 460.4,120 461,120 461.6,119.9 462.2,119.8 462.8,119.8 463.4,119.9 464,119.9 464.6,119.9 465.2,119.9 465.8,119.9 466.4,119.8 467,119.7 467.6,119.6 468.2,119.5 468.8,119.4 469.4,119.3 470,119.3 470.6,119.2 471.2,119.2 471.8,119.1 472.4,119.1 473,119.1 473.7,119.1 474.3,119 474.9,118.9 475.5,118.7 476.1,118.7 476.7,118.6 477.3,118.6 477.9,118.6 478.5,118.6 479.1,118.6 479.7,118.5 480.3,118.4 480.9,118.4 481.5,118.4 482.1,118.4 482.7,118.4 483.3,118.3 483.9,118.2 484.5,118.1 485.1,118.1 485.7,118 486.3,118 486.9,118 487.5,117.9 488.1,117.8 488.7,117.6 489.3,117.5 490,117.4 490.6,117.4 491.2,117.4 491.8,117.4 492.4,117.4 493,117.4 493.6,117.3 494.2,117.3 494.8,117.3 495.4,117.3 496,117.3 496.6,117.2 497.2,117.1 497.8,117 498.4,116.9 499,116.7 499.6,116.7 500.2,116.6 500.8,116.7 501.4,116.7 502,116.6 502.6,116.6 503.2,116.5 503.8,116.4 504.4,116.4 505,116.4 505.6,116.4 506.3,116.4 506.9,116.3 507.5,116.2 508.1,116.1 508.7,116 509.3,115.9 509.9,116 510.5,116 511.1,116.1 511.7,116.1 512.3,116.1 512.9,116.1 513.5,116 514.1,116 514.7,115.9 515.3,115.9 515.9,115.8 516.5,115.7 517.1,115.6 517.7,115.5 518.3,115.4 518.9,115.2 519.5,115.1 520.1,115 520.7,115 521.3,115 521.9,115.1 522.5,115 523.1,115 523.7,114.9 524.3,114.9 525,114.8 525.6,114.8 526.2,114.9 526.8,114.9 527.4,114.8 528,114.8 528.6,114.7 529.2,114.6 529.8,114.6 530.4,114.6 531,114.5 531.6,114.5 532.2,114.4 532.8,114.3 533.4,114.2 534,114.1 534.6,114 535.2,113.9 535.8,113.9 536.4,113.9 537,113.9 537.6,113.9 538.2,114 538.8,113.9 539.4,113.8 540,113.7 540.6,113.6 541.2,113.6 541.8,113.6 542.4,113.7 543,113.7 543.6,113.7 544.2,113.6 544.9,113.4 545.5,113.3 546.1,113.1 546.7,113 547.3,113 547.9,112.9 548.5,113 549.1,113.1 549.7,113.1 550.3,113.1 550.9,113 551.5,112.9 552.1,112.8 552.7,112.7 553.3,112.7 553.9,112.6 554.5,112.6 555.1,112.6 555.7,112.6 556.3,112.6 556.9,112.5 557.5,112.4 558.1,112.3 558.7,112.1 559.3,112.1 559.9,112.1 560.5,112.1 561.1,112.1 561.7,112 562.3,112 562.9,112 563.5,112.1 564.1,112.1 564.8,112.1 565.4,112 566,111.9 566.6,111.8 567.2,111.7 567.8,111.6 568.4,111.4 569,111.3 569.6,111.3 570.2,111.3 570.8,111.4 571.4,111.4 572,111.4 572.6,111.2 573.2,111.1 573.8,111 574.4,110.9 575,110.9 575.6,110.9 576.2,111 576.8,111 577.4,111 578,110.9 578.6,110.8 579.2,110.8 579.8,110.7 580.5,110.7 581.1,110.6 581.7,110.6 582.3,110.6 582.9,110.6 583.5,110.6 584.1,110.5 584.7,110.5 585.3,110.4 585.9,110.4 586.5,110.4 587.1,110.4 587.7,110.3 588.3,110.2 588.9,110.2 589.5,110.2 590.1,110.2 590.7,110.2 591.3,110.2 591.9,110.1 592.5,110 593.1,109.9 593.7,109.8 594.3,109.8 594.9,109.7 595.6,109.7 596.2,109.6 596.8,109.6 597.4,109.6 598,109.6 598.6,109.6 599.2,109.5 599.8,109.3 600.4,109.2 601,109.2 601.6,109.2 602.2,109.3 602.8,109.3 603.4,109.3 604,109.3 604.6,109.2 605.2,109.1 605.8,108.9 606.4,108.7 607,108.6 607.6,108.6 608.2,108.5 608.8,108.4 609.4,108.3 610,108.2 610.7,108.2 611.3,108.2 611.9,108.3 612.5,108.3 613.1,108.2 613.7,108.2 614.3,108.1 614.9,108.1 615.5,108.1 616.1,108.1 616.7,108.1 617.3,108.1 617.9,108.1 618.5,108.2 619.1,108.1 619.7,108 620.3,107.9 620.9,107.8 621.5,107.7 622.1,107.7 622.7,107.6 623.3,107.6 623.9,107.6 624.5,107.5 625.1,107.4 625.8,107.3 626.4,107.3 627,107.2 627.6,107 628.2,107 628.8,106.9 629.4,107 630,107.1 630.6,107.1 631.2,107.1 631.8,107 632.4,106.8 633,106.7 633.6,106.6 634.2,106.6 634.8,106.7 635.4,106.8 636,106.8 636.6,106.7 637.2,106.6 637.8,106.6 638.4,106.5 639,106.6 639.6,106.6 640.2,106.5 640.9,106.5" fill="none" stroke="#93b6da" stroke-width="1" stroke-linejoin="round" stroke-linecap="round" stroke-opacity="0.9"/>
<polyline points="459.2,120.1 459.8,120.1 460.4,120.1 461,120.1 461.6,120 462.2,119.9 462.8,119.9 463.4,119.9 464,119.9 464.6,119.9 465.2,119.9 465.8,119.8 466.4,119.8 467,119.8 467.6,119.8 468.2,119.9 468.8,119.9 469.4,119.8 470,119.7 470.6,119.6 471.2,119.6 471.8,119.7 472.4,119.7 473,119.8 473.6,119.8 474.2,119.7 474.9,119.5 475.5,119.5 476.1,119.5 476.7,119.5 477.3,119.5 477.9,119.4 478.5,119.4 479.1,119.3 479.7,119.3 480.3,119.4 480.9,119.4 481.5,119.4 482.1,119.4 482.7,119.3 483.3,119.2 483.9,119.1 484.5,119 485.1,119 485.7,119 486.3,118.9 486.9,118.9 487.5,118.9 488.1,118.9 488.7,118.9 489.3,119 489.9,119 490.5,119 491.1,118.9 491.7,118.9 492.4,118.8 493,118.7 493.6,118.7 494.2,118.7 494.8,118.8 495.4,118.8 496,118.8 496.6,118.8 497.2,118.8 497.8,118.9 498.4,118.9 499,118.9 499.6,118.9 500.2,118.8 500.8,118.7 501.4,118.7 502,118.7 502.6,118.7 503.2,118.6 503.8,118.5 504.4,118.5 505,118.6 505.6,118.6 506.2,118.6 506.8,118.6 507.4,118.5 508,118.5 508.6,118.4 509.3,118.4 509.9,118.4 510.5,118.3 511.1,118.3 511.7,118.2 512.3,118.2 512.9,118.2 513.5,118.2 514.1,118.2 514.7,118.3 515.3,118.3 515.9,118.3 516.5,118.2 517.1,118.1 517.7,117.9 518.3,117.9 518.9,117.9 519.5,117.9 520.1,118 520.7,118 521.3,118 521.9,117.9 522.5,117.9 523.1,117.8 523.7,117.8 524.3,117.8 524.9,117.8 525.5,117.8 526.1,117.9 526.8,117.8 527.4,117.7 528,117.6 528.6,117.4 529.2,117.3 529.8,117.3 530.4,117.4 531,117.4 531.6,117.5 532.2,117.5 532.8,117.4 533.4,117.4 534,117.5 534.6,117.5 535.2,117.6 535.8,117.7 536.4,117.6 537,117.5 537.6,117.4 538.2,117.3 538.8,117.3 539.4,117.3 540,117.3 540.6,117.3 541.2,117.3 541.8,117.3 542.4,117.3 543,117.3 543.6,117.3 544.2,117.3 544.8,117.3 545.4,117.3 546,117.2 546.6,117.2 547.2,117.1 547.8,117.1 548.4,117 549,116.9 549.6,116.9 550.2,116.9 550.8,116.9 551.4,116.8 552,116.8 552.6,116.9 553.2,117 553.8,117.1 554.4,117.1 555,117 555.6,117 556.2,117 556.8,117 557.4,117 558,117 558.6,116.9 559.2,116.8 559.8,116.8 560.4,116.8 561,116.9 561.6,117 562.2,117 562.8,117 563.4,116.9 564,116.8 564.6,116.7 565.2,116.7 565.8,116.6 566.4,116.6 567,116.6 567.6,116.6 568.2,116.6 568.8,116.6 569.4,116.6 570,116.6 570.6,116.5 571.2,116.5 571.8,116.5 572.4,116.5 573,116.5 573.6,116.4 574.2,116.3 574.8,116.2 575.4,116.2 576,116.2 576.6,116.1 577.2,116 577.8,116.1 578.4,116.2 579,116.3 579.6,116.2 580.2,116.2 580.8,116.1 581.4,116.1 582,116.1 582.6,116.2 583.2,116.2 583.8,116.2 584.4,116.1 585,116.1 585.6,116 586.2,115.9 586.8,115.8 587.4,115.8 588,115.8 588.6,115.9 589.2,115.9 589.8,116 590.4,116 591,115.9 591.6,115.8 592.2,115.8 592.8,115.7 593.4,115.7 594,115.7 594.6,115.8 595.2,115.8 595.8,115.8 596.4,115.7 597,115.6 597.6,115.7 598.2,115.7 598.8,115.7 599.4,115.7 600,115.6 600.6,115.6 601.2,115.6 601.8,115.5 602.4,115.5 603,115.5 603.6,115.5 604.2,115.6 604.8,115.6 605.4,115.6 606,115.6 606.6,115.6 607.2,115.6 607.8,115.5 608.4,115.5 609,115.4 609.6,115.5 610.2,115.5 610.8,115.6 611.4,115.6 612,115.5 612.6,115.4 613.2,115.4 613.8,115.4 614.4,115.4 615,115.3 615.6,115.3 616.2,115.3 616.8,115.2 617.4,115.1 618,115 618.6,115.1 619.2,115.1 619.8,115.2 620.4,115.2 621,115.2 621.6,115.1 622.2,115.1 622.8,115.1 623.4,115.1 624,115.1 624.6,115.1 625.2,115 625.8,115 626.4,114.9 627,115 627.6,115 628.2,115 628.8,114.9 629.4,114.8 630,114.8 630.6,114.8 631.2,114.8 631.8,114.8 632.5,114.8 633.1,114.9 633.7,114.8 634.3,114.8 634.9,114.7 635.5,114.7 636.1,114.8 636.7,114.8 637.3,114.8 637.9,114.8 638.5,114.8 639.1,114.7 639.7,114.8 640.3,114.8 640.9,114.8" fill="none" stroke="#93b6da" stroke-width="1" stroke-linejoin="round" stroke-linecap="round" stroke-opacity="0.9"/>
<polyline points="459.2,120.1 459.8,120.1 460.4,120.1 461,120 461.6,120 462.2,120 462.8,120 463.4,120 464,120 464.6,120.1 465.2,120.1 465.8,120.1 466.4,120.1 467,120.1 467.6,120.1 468.2,120.1 468.8,120.1 469.4,120.1 470,120.2 470.6,120.2 471.2,120.1 471.8,120 472.4,119.9 473,119.8 473.6,119.8 474.2,119.8 474.9,119.8 475.5,119.8 476.1,119.8 476.7,119.8 477.3,119.7 477.9,119.7 478.5,119.7 479.1,119.8 479.7,119.9 480.3,120 480.9,120.2 481.5,120.2 482.1,120 482.7,119.9 483.3,119.7 483.9,119.7 484.5,119.8 485.1,119.9 485.7,120 486.3,120 486.9,119.9 487.5,119.9 488.1,119.9 488.7,119.8 489.3,119.8 489.9,119.8 490.5,119.9 491.1,120 491.7,120 492.4,119.8 493,119.7 493.6,119.6 494.2,119.6 494.8,119.5 495.4,119.5 496,119.5 496.6,119.6 497.2,119.6 497.8,119.7 498.4,119.8 499,119.8 499.6,119.9 500.2,119.9 500.8,119.8 501.4,119.7 502,119.6 502.6,119.5 503.2,119.6 503.8,119.6 504.4,119.6 505,119.6 505.6,119.5 506.2,119.5 506.8,119.6 507.4,119.6 508,119.6 508.6,119.5 509.3,119.4 509.9,119.3 510.5,119.2 511.1,119.2 511.7,119.3 512.3,119.5 512.9,119.6 513.5,119.7 514.1,119.7 514.7,119.6 515.3,119.4 515.9,119.4 516.5,119.4 517.1,119.4 517.7,119.5 518.3,119.5 518.9,119.5 519.5,119.5 520.1,119.6 520.7,119.6 521.3,119.5 521.9,119.5 522.5,119.4 523.1,119.4 523.7,119.4 524.3,119.4 524.9,119.4 525.5,119.3 526.1,119.3 526.8,119.3 527.4,119.3 528,119.3 528.6,119.3 529.2,119.3 529.8,119.3 530.4,119.3 531,119.4 531.6,119.5 532.2,119.5 532.8,119.4 533.4,119.3 534,119.2 534.6,119.2 535.2,119.2 535.8,119.3 536.4,119.3 537,119.3 537.6,119.3 538.2,119.2 538.8,119.2 539.4,119.3 540,119.4 540.6,119.5 541.2,119.5 541.8,119.5 542.4,119.4 543,119.3 543.6,119.3 544.2,119.3 544.8,119.4 545.4,119.3 546,119.3 546.6,119.2 547.2,119.1 547.8,119.1 548.4,119.2 549,119.2 549.6,119.2 550.2,119.2 550.8,119.2 551.4,119.1 552,119.1 552.6,119.2 553.2,119.3 553.8,119.3 554.4,119.2 555,119.1 555.6,119.1 556.2,119.1 556.8,119.1 557.4,119.2 558,119.3 558.6,119.3 559.2,119.3 559.8,119.3 560.4,119.3 561,119.3 561.6,119.3 562.2,119.3 562.8,119.3 563.4,119.3 564,119.3 564.6,119.3 565.2,119.3 565.8,119.3 566.4,119.3 567,119.3 567.6,119.4 568.2,119.4 568.8,119.4 569.4,119.4 570,119.4 570.6,119.3 571.2,119.3 571.8,119.2 572.4,119.2 573,119.2 573.6,119.3 574.2,119.4 574.8,119.5 575.4,119.5 576,119.5 576.6,119.4 577.2,119.4 577.8,119.3 578.4,119.3 579,119.2 579.6,119.1 580.2,119.1 580.8,119.1 581.4,119.2 582,119.2 582.6,119.3 583.2,119.3 583.8,119.3 584.4,119.3 585,119.3 585.6,119.3 586.2,119.3 586.8,119.3 587.4,119.4 588,119.3 588.6,119.3 589.2,119.3 589.8,119.4 590.4,119.4 591,119.4 591.6,119.4 592.2,119.4 592.8,119.3 593.4,119.3 594,119.3 594.6,119.3 595.2,119.3 595.8,119.4 596.4,119.3 597,119.3 597.6,119.2 598.2,119.2 598.8,119.2 599.4,119.2 600,119.3 600.6,119.4 601.2,119.5 601.8,119.5 602.4,119.5 603,119.4 603.6,119.3 604.2,119.3 604.8,119.2 605.4,119.3 606,119.3 606.6,119.3 607.2,119.3 607.8,119.2 608.4,119.2 609,119.2 609.6,119.2 610.2,119.2 610.8,119.1 611.4,119.2 612,119.3 612.6,119.4 613.2,119.4 613.8,119.4 614.4,119.3 615,119.3 615.6,119.3 616.2,119.2 616.8,119.2 617.4,119.1 618,119.1 618.6,119.2 619.2,119.3 619.8,119.4 620.4,119.4 621,119.4 621.6,119.4 622.2,119.4 622.8,119.3 623.4,119.3 624,119.3 624.6,119.3 625.2,119.3 625.8,119.4 626.4,119.4 627,119.4 627.6,119.4 628.2,119.4 628.8,119.3 629.4,119.3 630,119.3 630.6,119.2 631.2,119.2 631.8,119.2 632.5,119.3 633.1,119.3 633.7,119.4 634.3,119.4 634.9,119.4 635.5,119.3 636.1,119.2 636.7,119.2 637.3,119.2 637.9,119.2 638.5,119.2 639.1,119.2 639.7,119.2 640.3,119.2 640.9,119.2" fill="none" stroke="#93b6da" stroke-width="1" stroke-linejoin="round" stroke-linecap="round" stroke-opacity="0.9"/>
<polyline points="459.2,120.1 460,119.9 460.8,119.5 461.7,119 462.5,119.3 463.3,118.3 464.2,119.4 465,118.2 465.8,118 466.7,117.8 467.5,117.2 468.3,118 469.1,117.4 470,118.2 470.8,115.8 471.6,117.3 472.5,114.6 473.3,114.1 474.1,111.4 475,112.1 475.8,109.1 476.6,109.4 477.5,108.5 478.3,107.4 479.1,106.7 480,105.6 480.9,101.5 481.8,96.3 482.7,93.3 483.7,88.7 484.6,85.4 485.5,82.6 486.3,81.9 487.2,80.3 488,82.8 488.8,83.3 489.7,82.8 490.5,84.4 491.3,82 492.2,82.8 493,84.3 493.8,81.5 494.8,81 495.7,84.2 496.6,82.9 497.5,84.9 498.5,84 499.4,83.6 500.3,84.5 501.2,83.8 502.2,84.4 503.1,87.7 504,87.9 504.9,86.9 505.9,88.5 506.8,91 507.7,92.1 508.6,91.9 509.6,92.4 510.5,95 511.3,95 512.2,94.3 513,95 513.9,95.2 514.7,96.3 515.6,94.8 516.5,94.7 517.3,94.8 518.2,95.9 519,96 519.9,93.6 520.7,95.6 521.6,96.5 522.4,96.5 523.2,98.3 524.1,98.1 524.9,99.8 525.7,99.6 526.6,99.5 527.4,100.5 528.2,101.6 529.1,101.2 529.9,101.9 530.7,102.8 531.6,105.4 532.4,103.9 533.2,105.5 534.1,104.6 534.9,105.9 535.7,106.1 536.6,106.6 537.4,107.2 538.2,107.9 539,107 539.9,108.9 540.7,108.6 541.5,107.7 542.4,109.3 543.2,108.8 544,109.5 544.9,110 545.7,109.7 546.5,109 547.4,111.1 548.2,111 549.1,111.2 550,112.6 550.8,111.4 551.7,112.2 552.5,113.1 553.4,113.5 554.2,113.3 555.1,113 555.9,112.9 556.8,113.2 557.6,114.4 558.5,113.8 559.3,113 560.1,113.8 560.9,112.9 561.7,112.7 562.5,114.5 563.3,114.4 564.2,115.9 565,114.4 565.8,115.3 566.6,114.3 567.4,114.3 568.2,117.4 569.1,116 569.9,115.7 570.7,114.8 571.5,116.4 572.3,114.3 573.1,115.9 574,115.5 574.8,114.4 575.6,115.2 576.4,114.7 577.2,114.3 578,115.2 578.8,115.2 579.7,114.5 580.5,114.1 581.3,115.2 582.1,113.5 582.9,113.4 583.7,113.8 584.6,112.5 585.4,113.5 586.2,113.9 587,113.2 587.8,114.7 588.6,111.5 589.5,112.1 590.3,111.3 591.1,112.2 591.9,111.7 592.7,111.4 593.5,110.2 594.3,111.9 595.2,111.9 596,109.7 596.8,111.7 597.6,110.2 598.4,110.2 599.2,110.8 600.1,109.3 601,110.1 601.8,108.9 602.7,109.1 603.5,110 604.4,109.9 605.2,110.2 606.1,108.2 606.9,107.7 607.8,107.2 608.6,107.2 609.5,108.3 610.3,107.5 611.2,109 612,108.3 612.9,108.3 613.8,106.3 614.6,104.4 615.5,105.8 616.3,106.4 617.2,105.7 618,105.1 618.9,104 619.7,105 620.6,106.7 621.4,105.8 622.3,103.7 623.1,102.5 624,103.5 624.8,102.8 625.7,100.4 626.6,102.1 627.4,100.3 628.3,99.5 629.1,99.6 630,98.2 630.8,96.7 631.7,94.9 632.5,94.7 633.4,95.5 634.2,91.5 635,90.2 635.9,88.3 636.7,86 637.5,84.8 638.4,80.3 639.2,81.4 640,77.6 640.9,76.5" fill="none" stroke="#ee8080" stroke-width="1.2" stroke-linejoin="round" stroke-linecap="round" stroke-opacity="0.7"/>
<polyline points="459.2,120.1 460,120.6 460.8,121.3 461.7,121.5 462.5,122 463.3,121.3 464.2,121.4 465,123.6 465.8,122.1 466.7,124.8 467.5,124.4 468.3,124.9 469.1,124.7 470,125.7 470.8,126 471.6,126.9 472.5,127.5 473.4,127.8 474.2,128.8 475.1,130.2 475.9,130.2 476.8,131.5 477.6,131.6 478.5,130.8 479.3,134 480.2,133.7 481,135.2 481.9,135.3 482.7,134.4 483.6,136.8 484.4,137.2 485.2,136.3 486.1,138.4 486.9,138.9 487.7,141.4 488.6,141.9 489.4,140.2 490.2,142.5 491.1,144.1 491.9,143.1 492.8,142.1 493.6,143.8 494.5,140.8 495.3,143.8 496.2,143.3 497,142.3 497.9,143.2 498.7,139.9 499.6,140.9 500.4,141.3 501.3,140.5 502.2,140.5 503,140.2 503.8,139.2 504.6,139.9 505.4,140.1 506.2,138.6 507.1,137 507.9,136.5 508.7,136.4 509.5,136.4 510.3,136 511.1,134.3 511.9,136.4 512.8,133 513.6,134 514.4,133.8 515.2,133 516,132.5 516.9,131.1 517.7,132.4 518.6,131.3 519.4,129.9 520.3,130.5 521.1,130.6 522,129 522.9,129.4 523.7,127.9 524.6,130.6 525.4,127 526.3,128.4 527.1,128.5 528,128.3 528.8,128.9 529.7,129.7 530.5,129 531.4,130.3 532.2,130.9 533.1,133.3 534,132 534.8,133.6 535.7,133.3 536.5,133.6 537.4,136 538.2,136.5 539.1,136.6 539.9,137.4 540.8,138.4 541.6,138.8 542.5,139 543.3,141.8 544.2,141.3 545,141.2 545.9,142.3 546.8,144.1 547.6,147 548.5,147.5 549.3,147 550.2,144.8 551,145.4 551.9,144.3 552.7,144.5 553.6,144.8 554.4,144.6 555.3,143 556.1,142.5 557,143 557.8,140.9 558.7,142.2 559.6,141.4 560.4,141.6 561.3,139.6 562.1,140.8 563,140.5 563.8,137.9 564.7,138.4 565.5,136.3 566.4,138.2 567.2,139.4 568.1,137.3 568.9,136.4 569.8,135.4 570.7,136.2 571.5,135.7 572.4,134.8 573.2,133.7 574.1,134.4 574.9,134.5 575.8,135.1 576.6,134.7 577.5,134.5 578.3,134.1 579.2,134.1 580,133.3 580.9,131.5 581.7,132.3 582.6,133.4 583.5,132.9 584.3,132.7 585.2,133.8 586,133.4 586.9,133.7 587.7,134.1 588.6,134.7 589.4,134.8 590.3,133.9 591.1,134.2 592,133.5 592.8,134.8 593.7,134.5 594.5,135.2 595.4,136.9 596.2,135.7 597,137.1 597.9,136.5 598.7,137.3 599.5,136.6 600.4,137 601.2,138.6 602,138.5 602.9,139.4 603.7,139.1 604.5,136.7 605.3,138.5 606.2,140.2 607,140.8 607.8,140.3 608.7,139.7 609.5,139.5 610.3,141.3 611.2,142 612,142.2 612.8,143.5 613.6,141.1 614.4,142.7 615.2,142.8 616.1,142.5 616.9,142.2 617.7,143.6 618.5,144.8 619.3,144.1 620.1,144.1 620.9,145.8 621.8,145.1 622.6,146.7 623.4,145.1 624.2,145.4 625,147.5 625.9,147.9 626.7,146 627.5,146.9 628.4,147.6 629.2,146 630,146.6 630.9,147.1 631.7,147.3 632.5,147.1 633.4,146.8 634.2,147.1 635,149.2 635.9,147.3 636.7,146.5 637.5,150.9 638.4,149.1 639.2,148.9 640,148.6 640.9,149.7" fill="none" stroke="#ee8080" stroke-width="1.2" stroke-linejoin="round" stroke-linecap="round" stroke-opacity="0.7"/>
<polyline points="459.2,120.1 460,120.3 460.8,120.8 461.6,121.6 462.4,121.2 463.3,120.6 464.1,121.2 464.9,124 465.7,124.7 466.5,124.3 467.4,124.8 468.2,126 469,124.1 469.8,124.7 470.6,124.5 471.5,126.5 472.3,127 473.1,128 473.9,126.7 474.7,128.8 475.6,128.9 476.4,129.1 477.2,129.8 478,131.4 478.9,129.8 479.8,132.7 480.6,133.2 481.5,134.4 482.3,136.4 483.2,134.7 484,136.7 484.9,137.3 485.7,138.3 486.6,139.8 487.4,140.5 488.3,140.7 489.1,140.9 490,140.5 490.8,139.8 491.7,138.6 492.6,139.6 493.4,138.3 494.3,137.6 495.1,137 496,136.6 496.8,138.4 497.7,136.9 498.5,135.8 499.4,135.2 500.2,135 501.1,134.4 501.9,134.3 502.8,131.7 503.7,132 504.5,131.2 505.4,131.3 506.2,129.5 507.1,129.3 507.9,127.6 508.8,130.3 509.6,127.6 510.5,127 511.3,129.2 512.1,126.1 513,124.7 513.8,128.1 514.6,128 515.5,127.5 516.3,127 517.1,127.5 518,124.8 518.8,123.6 519.6,125.1 520.5,126.6 521.3,125.7 522.1,124.9 523,125.4 523.8,125.9 524.6,124.9 525.5,124.8 526.3,125.2 527.1,124.4 527.9,124 528.8,124.1 529.6,125.1 530.4,125.5 531.2,126.8 532,126.9 532.8,126.6 533.6,127 534.5,128.4 535.3,128 536.1,128.9 536.9,127.9 537.7,129.1 538.5,128.9 539.4,128.5 540.2,128.1 541,130.1 541.8,131.9 542.7,133.1 543.6,133.3 544.4,134.1 545.3,134.1 546.1,136.4 547,136.7 547.8,137.9 548.7,138.6 549.5,140.2 550.4,141.4 551.2,141.4 552.1,144.1 552.9,144.1 553.7,145.5 554.5,145.6 555.4,145.1 556.2,146.5 557,145.2 557.8,144.2 558.6,146.2 559.4,146.3 560.2,146 561.1,146 561.9,148.9 562.7,147 563.5,147.9 564.3,148.2 565.1,149.3 566,149.7 566.8,150 567.7,146.9 568.5,147.6 569.4,146.7 570.2,147.4 571.1,146 571.9,146 572.8,147.1 573.6,145.1 574.5,144.6 575.3,145.5 576.2,145.3 577.1,141.8 577.9,143 578.7,141.6 579.5,143.5 580.3,142.2 581.1,142 581.9,143.2 582.8,143.7 583.6,142.8 584.4,140.7 585.2,141.6 586,140.6 586.8,143.8 587.7,141.5 588.5,140.2 589.3,141.5 590.1,143.2 590.9,140.4 591.7,139.4 592.6,140.5 593.4,140.5 594.2,140.3 595,141.2 595.8,137.7 596.6,139.1 597.4,137.7 598.3,136.4 599.1,137.5 599.9,137.9 600.7,137.5 601.5,136.6 602.3,137.3 603.2,136 604,136.5 604.8,135.5 605.6,135.1 606.5,133.6 607.3,134.4 608.1,134 609,134.4 609.8,133.2 610.6,131.6 611.4,133.1 612.3,132.1 613.1,131.7 613.9,130 614.8,130.1 615.6,129.7 616.4,128.9 617.3,129.1 618.1,127.4 618.9,127.1 619.8,128.6 620.6,126.3 621.4,128.7 622.2,126.8 623.1,125.9 623.9,127.1 624.7,125.1 625.5,126.8 626.3,124.6 627.1,126.4 627.9,124.6 628.7,124.2 629.5,126 630.3,125.5 631.1,123.8 632,123.8 632.8,122.6 633.6,123.3 634.4,123.9 635.2,122.7 636,122.5 636.8,121.2 637.6,122.9 638.4,121.5 639.2,122.6 640,122.9 640.9,121.2" fill="none" stroke="#ee8080" stroke-width="1.2" stroke-linejoin="round" stroke-linecap="round" stroke-opacity="0.7"/>
<polyline points="459.2,120.1 460,120.6 460.8,120.5 461.7,120.8 462.5,121.4 463.3,120.5 464.2,122.4 465,121 465.8,122.1 466.7,121.1 467.5,122.7 468.3,123.5 469.1,123.8 470,123.5 470.8,121.4 471.6,123.3 472.5,124.1 473.3,125.4 474.1,124.7 475,125.8 475.8,125.7 476.6,125.2 477.5,127.3 478.3,127 479.1,126.7 480,127.6 480.8,129 481.6,127.8 482.5,127 483.3,129 484.1,126.6 485,128.9 485.8,130.2 486.6,129.8 487.5,129.9 488.3,129.2 489.1,129.2 490,130.4 490.8,129.3 491.6,132.3 492.4,130.7 493.3,132.1 494.1,132.3 494.9,131.4 495.8,132.5 496.6,132 497.4,131.9 498.3,131.7 499.1,131.6 499.9,132.5 500.8,132.1 501.6,131 502.4,132.7 503.3,132.5 504.1,131.2 504.9,133.3 505.8,131.8 506.6,131.5 507.4,133 508.3,130 509.1,134.5 509.9,130.9 510.8,133.9 511.6,130.2 512.4,131.1 513.3,129.9 514.1,130.3 514.9,130.5 515.7,131.3 516.6,129.9 517.4,131.3 518.2,129.8 519.1,132 519.9,130.3 520.7,129.9 521.6,129.8 522.4,130.4 523.2,128.1 524.1,130.1 524.9,128.6 525.7,129.4 526.6,129.5 527.4,127.5 528.2,128.4 529.1,128 529.9,128.2 530.7,129.8 531.6,130.1 532.4,130.2 533.2,127.9 534.1,127.4 534.9,127.6 535.7,127.7 536.6,128.5 537.4,128.1 538.2,126 539,128.7 539.9,128.5 540.7,126.7 541.5,126.6 542.4,127.5 543.2,126.6 544,127.3 544.9,127.6 545.7,129.5 546.5,128.7 547.4,126.4 548.2,128.6 549,127.3 549.9,128.7 550.7,129.6 551.5,129.4 552.4,128.2 553.2,129.8 554,128.7 554.9,129.1 555.7,129.8 556.5,129.6 557.4,130.2 558.2,128.6 559,129.1 559.9,129.2 560.7,130.3 561.5,130 562.4,130.3 563.2,131.7 564,130.3 564.8,130.4 565.7,130.8 566.5,131.1 567.3,132.5 568.2,132.1 569,130.3 569.8,131.3 570.7,130.3 571.5,133 572.3,132.7 573.2,129.9 574,131.9 574.8,131.1 575.7,131 576.5,130.7 577.3,131.6 578.2,132 579,130.9 579.8,132.2 580.7,131.9 581.5,131.2 582.3,132.1 583.2,132.3 584,129.4 584.8,130.7 585.7,130.9 586.5,130.9 587.3,131.6 588.1,129.4 589,130.1 589.8,129.3 590.6,130.5 591.5,128 592.3,128.5 593.1,129.6 594,129.5 594.8,128.3 595.6,128.5 596.5,129.7 597.3,127.3 598.1,128.1 599,126.8 599.8,128.5 600.6,127.6 601.5,126.6 602.3,128.1 603.1,127.1 604,127 604.8,127.9 605.6,128.1 606.5,126.9 607.3,126.1 608.1,126.9 609,125.7 609.8,126.9 610.6,125.6 611.4,126 612.3,126 613.1,127.1 613.9,126.5 614.8,126 615.6,126.5 616.4,125.8 617.3,126.5 618.1,126.8 618.9,126.5 619.8,125.8 620.6,127.2 621.4,126.1 622.2,125.2 623.1,125.8 623.9,126.8 624.7,125.1 625.5,125.8 626.3,125.6 627.1,125.9 627.9,125.9 628.7,126.1 629.5,127.4 630.3,128.4 631.1,126.3 632,127.1 632.8,128.3 633.6,126.9 634.4,126.3 635.2,127.2 636,126.9 636.8,127.5 637.6,126.8 638.4,125.6 639.2,126.6 640,126.3 640.9,127.5" fill="none" stroke="#ee8080" stroke-width="1.2" stroke-linejoin="round" stroke-linecap="round" stroke-opacity="0.7"/>
<polyline points="459.2,120.1 460,119.8 460.8,119.3 461.6,119.1 462.4,118.3 463.3,118.6 464.1,118.1 464.9,117.4 465.7,117.9 466.5,117.2 467.4,118.2 468.2,117.2 469,118.1 469.8,115.8 470.6,115.9 471.5,114.9 472.3,115.3 473.1,115.5 473.9,114.5 474.7,114.7 475.6,113.5 476.4,114.3 477.2,112.5 478,114.8 478.8,113.7 479.6,113.1 480.4,112.2 481.2,113.6 482,116 482.9,114.5 483.7,113.2 484.5,113.8 485.3,112.7 486.1,115.6 486.9,113.6 487.7,114.5 488.5,115.3 489.3,114.8 490.1,113 490.9,115.6 491.8,116.1 492.6,114.1 493.4,115.8 494.2,115.2 495,115.2 495.8,114.9 496.6,118.4 497.4,115.7 498.2,114.2 499,116.3 499.8,114.4 500.7,115.5 501.5,114.2 502.3,112.5 503.1,114.2 503.9,113.3 504.7,115.6 505.5,114.3 506.3,112 507.1,112.7 507.9,112.1 508.7,110.4 509.6,112.1 510.4,110.8 511.2,110.5 512,111.9 512.8,111.2 513.6,109.9 514.4,111.7 515.2,110.5 516,112.9 516.9,108.2 517.7,109.8 518.5,108.7 519.4,108.4 520.2,108.9 521,109.2 521.9,107 522.7,108.6 523.5,108.7 524.3,107.7 525.2,106.8 526,107.1 526.8,105.7 527.7,107 528.5,107 529.3,106.3 530.2,105.4 531,102.8 531.8,105.5 532.7,104.5 533.5,106.1 534.3,102.6 535.2,105.2 536,105.1 536.8,102.9 537.7,103.8 538.5,104.9 539.3,101.7 540.2,103.7 541,101.5 541.8,100.7 542.7,100.3 543.5,102.2 544.3,102.8 545.2,100.5 546,100.8 546.8,99.5 547.6,99.9 548.5,101.1 549.3,97.5 550.1,99.7 551,96.7 551.8,98.9 552.6,100.8 553.5,98.8 554.3,98.1 555.1,99.8 556,97.1 556.8,97.4 557.6,96.5 558.5,98.3 559.3,98.2 560.1,96.9 561,97.2 561.8,96.1 562.6,96.6 563.5,96 564.3,96.6 565.1,96.2 566,95.1 566.8,97.4 567.6,96.9 568.5,97.4 569.3,95 570.1,96.1 571,95.6 571.8,97 572.6,95.9 573.4,96 574.3,96 575.1,95.6 575.9,95.9 576.8,95.2 577.6,94.1 578.4,94.4 579.3,95 580.1,94.7 580.9,95 581.8,93.4 582.6,93.3 583.4,93.1 584.3,93.2 585.1,92.6 585.9,93.9 586.8,92.2 587.6,90.6 588.4,92.8 589.3,91.8 590.1,92.1 590.9,91.6 591.8,89 592.6,90.3 593.4,90.7 594.3,89.6 595.1,88.7 595.9,91.4 596.7,87.5 597.6,90.1 598.4,88.5 599.2,89.7 600.1,87.9 600.9,88.1 601.7,90 602.5,88.6 603.3,87.8 604.1,87.3 605,88.4 605.8,85.8 606.6,86.4 607.4,86.9 608.2,85.6 609,84.3 609.9,86.2 610.7,85.5 611.5,86.2 612.3,84.6 613.1,85.4 613.9,84.2 614.7,84.9 615.6,84.4 616.4,85.5 617.2,85.7 618,83.8 618.8,84.5 619.6,83.8 620.5,83.6 621.3,83.5 622.1,84.1 622.9,84.8 623.7,83.2 624.5,81.9 625.4,82.5 626.2,83.2 627,83.6 627.8,81.7 628.6,84.3 629.4,82.7 630.2,82.3 631.1,82 631.9,80.1 632.7,82.8 633.5,81.1 634.3,81.8 635.1,80.6 636,79.6 636.8,81.7 637.6,80.4 638.4,79.4 639.2,80.8 640,80.7 640.9,80.2" fill="none" stroke="#ee8080" stroke-width="1.2" stroke-linejoin="round" stroke-linecap="round" stroke-opacity="0.7"/>
<polyline points="459.2,120.1 460,120.1 460.8,119.5 461.6,119.6 462.4,119.7 463.2,118.9 464,120.3 464.9,118.9 465.7,120.2 466.5,119.7 467.3,119 468.1,120.9 468.9,118.2 469.7,117.7 470.5,118.9 471.4,117.8 472.2,117.9 473,117.6 473.8,117.2 474.6,118.6 475.4,117.1 476.2,117.9 477,117.9 477.9,117.6 478.7,117.1 479.5,115.9 480.3,115.9 481.1,115.3 481.9,115.2 482.7,113.2 483.6,115.1 484.4,115.7 485.2,114.4 486,116 486.8,118.3 487.6,115.7 488.5,115.5 489.3,116 490.1,116.2 490.9,115.4 491.7,115.3 492.5,115 493.3,114 494.2,115.4 495,116.2 495.8,115.1 496.6,113.8 497.4,116 498.2,114.8 499.1,115.1 499.9,114.7 500.7,115.6 501.5,115.1 502.3,113.7 503.1,115.8 504,115.4 504.8,115.1 505.6,113.1 506.4,114.6 507.2,113.6 508,112.5 508.8,114.9 509.7,113.9 510.5,114.7 511.3,114.1 512.1,115 512.9,113.4 513.7,114.2 514.6,112.3 515.4,114.6 516.2,113.4 517,113.3 517.8,112.8 518.6,113.1 519.5,114 520.3,111.9 521.1,111.9 521.9,111.7 522.7,110.8 523.5,110 524.3,111.3 525.2,111.6 526,109.8 526.8,110.4 527.6,109.4 528.4,110.7 529.2,110.2 530.1,108.2 530.9,110.6 531.7,108.1 532.5,109.5 533.3,110 534.1,108.7 535,109.6 535.8,106.9 536.6,109.5 537.4,106.8 538.2,107.9 539,107.3 539.8,108.5 540.7,107 541.5,107.1 542.3,108.3 543.1,106.8 543.9,107.2 544.7,108.7 545.6,108.2 546.4,107.3 547.2,105.2 548,108.1 548.8,108.3 549.6,107.3 550.5,105.4 551.3,105.3 552.1,105.6 552.9,106.6 553.7,105.5 554.5,105.6 555.4,106.8 556.2,105.2 557,105.9 557.8,104.2 558.6,105.9 559.4,106.5 560.2,105.8 561.1,105.5 561.9,107.6 562.7,106.2 563.5,104.2 564.3,105.2 565.1,104.8 566,104.2 566.8,105.1 567.6,104.9 568.4,105.1 569.2,105.1 570,104.5 570.9,105.4 571.7,103.3 572.5,105.8 573.3,102.3 574.1,103.8 574.9,102.9 575.7,103.4 576.6,104.1 577.4,103.7 578.2,105.4 579,102.9 579.8,103.7 580.6,103.5 581.5,102.9 582.3,103.8 583.1,102.7 583.9,102.4 584.7,102.8 585.5,101.8 586.4,102.4 587.2,103.3 588,102.3 588.8,102.1 589.6,101.9 590.4,102.4 591.2,101.6 592.1,101.1 592.9,100.6 593.7,102.4 594.5,102 595.3,101.6 596.1,100.9 597,101.2 597.8,100.8 598.6,101.1 599.4,102.4 600.2,100.3 601,101.3 601.9,100.9 602.7,100.7 603.5,101.5 604.3,102.1 605.1,100.7 605.9,102.1 606.8,101.4 607.6,101.6 608.4,100.7 609.2,100.8 610,100.9 610.8,99.7 611.6,98.2 612.5,100.2 613.3,100.8 614.1,102.1 614.9,99.9 615.7,100.6 616.5,98.4 617.4,99.8 618.2,99.9 619,100.2 619.8,100.4 620.6,100.8 621.4,99.6 622.2,101.8 623.1,99.8 623.9,99 624.7,97.6 625.5,97.7 626.3,99.7 627.1,99.9 627.9,98 628.7,97.6 629.5,99.1 630.3,98.8 631.1,98.3 632,98.3 632.8,98.1 633.6,98.2 634.4,98.3 635.2,98.8 636,97.4 636.8,97.1 637.6,97.5 638.4,97.3 639.2,98.3 640,98.4 640.9,97.2" fill="none" stroke="#ee8080" stroke-width="1.2" stroke-linejoin="round" stroke-linecap="round" stroke-opacity="0.7"/>
<polyline points="459.2,120.1 460,120.2 460.8,120.2 461.6,119.4 462.4,121.6 463.2,119.1 464,120.7 464.9,121.1 465.7,119.2 466.5,120.3 467.3,121.1 468.1,122 468.9,120.5 469.7,122.1 470.5,120.3 471.4,120.2 472.2,119.7 473,121.6 473.8,120.3 474.6,120.8 475.4,121.8 476.2,120.8 477,121 477.9,121.6 478.7,122.6 479.5,120.9 480.3,120.8 481.1,120.5 481.9,121.5 482.7,121.6 483.6,119.8 484.4,120.7 485.2,121.5 486,121 486.8,121.2 487.6,120.9 488.5,121.5 489.3,121.8 490.1,119.7 490.9,118.8 491.7,119.7 492.5,120.4 493.3,121.9 494.2,117.6 495,119.9 495.8,119.8 496.6,120 497.4,119.8 498.2,118.4 499.1,117.9 499.9,119 500.7,119.4 501.5,116.3 502.3,118 503.1,118.8 504,118.3 504.8,118.4 505.6,118.2 506.4,117 507.2,117.6 508,117.7 508.8,116.8 509.7,118.3 510.5,116.1 511.3,116.9 512.1,119.6 512.9,117.5 513.7,117.6 514.6,117.8 515.4,116.5 516.2,117.7 517,116.8 517.8,116.9 518.6,119 519.5,118.1 520.3,118.1 521.1,117.5 521.9,118.9 522.7,118.3 523.5,119.9 524.3,118.8 525.2,120.9 526,118.5 526.8,118.5 527.6,118.7 528.4,119.6 529.2,118.3 530.1,119.3 530.9,119.4 531.7,120.2 532.5,118.4 533.3,121.9 534.1,121.1 535,121.6 535.8,119.9 536.6,120.8 537.4,121 538.2,120.7 539,121 539.8,119.1 540.7,120.8 541.5,119.7 542.3,119.8 543.1,119.7 543.9,119.9 544.7,120.3 545.6,119.4 546.4,120.5 547.2,118.2 548,118.7 548.8,120.2 549.6,118.8 550.5,116.6 551.3,118.1 552.1,118.4 552.9,119.2 553.7,118.5 554.5,116.8 555.4,118.9 556.2,117.4 557,116.2 557.8,118.7 558.6,116 559.4,116.1 560.2,118.5 561.1,115.6 561.9,115.4 562.7,116.6 563.5,118 564.3,115.7 565.1,116.2 566,118.3 566.8,116.2 567.6,115.1 568.4,117 569.2,117.7 570,115.7 570.9,115.4 571.7,114.7 572.5,116.6 573.3,115.3 574.1,116.3 574.9,116.7 575.7,117.2 576.6,117.1 577.4,117.3 578.2,117.1 579,116.7 579.8,119 580.6,118.2 581.5,117.3 582.3,117.4 583.1,119.1 583.9,118.1 584.7,119.3 585.5,117.5 586.4,117.8 587.2,116.9 588,118.9 588.8,120.7 589.6,119.6 590.4,118.2 591.2,120.3 592.1,119.1 592.9,117.2 593.7,118 594.5,118.5 595.3,118.7 596.1,118.9 597,118 597.8,119.1 598.6,117.4 599.4,117.2 600.2,116.5 601,117.7 601.9,117.5 602.7,118.5 603.5,117.8 604.3,117.7 605.1,118.1 605.9,117.7 606.8,115.8 607.6,117.1 608.4,118.1 609.2,117.2 610,115.7 610.8,116.1 611.6,117.2 612.5,115.7 613.3,116.8 614.1,115.3 614.9,115.7 615.7,115.3 616.5,114.4 617.4,114.5 618.2,114.3 619,113.5 619.8,115.6 620.6,115 621.4,115.6 622.2,115.7 623.1,115.4 623.9,114.6 624.7,116.1 625.5,114.1 626.3,115.5 627.1,114.8 627.9,114.8 628.7,114.9 629.5,112.6 630.3,115.6 631.1,113.9 632,116.1 632.8,114.7 633.6,115.3 634.4,115 635.2,114.2 636,116 636.8,116.5 637.6,115 638.4,115.9 639.2,117.5 640,115.5 640.9,114.6" fill="none" stroke="#ee8080" stroke-width="1.2" stroke-linejoin="round" stroke-linecap="round" stroke-opacity="0.7"/>
<polyline points="459.2,120.1 460,119.7 460.8,119.5 461.7,118.8 462.5,119.1 463.3,119.2 464.2,117.1 465,118.7 465.8,117.3 466.7,116.5 467.5,116 468.3,116.5 469.1,114.7 470,117.2 470.8,115.2 471.6,115.4 472.5,115.1 473.3,115.7 474.1,115.8 475,116.1 475.8,116.6 476.6,115.3 477.5,116.2 478.3,118.6 479.1,118.3 480,117.7 480.8,118.1 481.6,118.3 482.5,118.9 483.3,120.3 484.1,118.5 485,120.4 485.8,119.9 486.6,121.4 487.5,121.3 488.3,120.7 489.1,121.1 489.9,120.3 490.8,122.3 491.6,121.5 492.4,122 493.2,123.6 494,122 494.9,123.4 495.7,121.7 496.5,124.4 497.3,122 498.1,122.7 499,123 499.8,122.8 500.6,122.8 501.4,124.4 502.3,122.3 503.1,124.6 503.9,124.6 504.7,123.4 505.5,121.5 506.4,123.9 507.2,123 508,122.9 508.8,122.5 509.7,123.7 510.5,124.5 511.3,123.9 512.1,124 512.9,124 513.8,123.7 514.6,124.3 515.4,122.7 516.2,123.8 517.1,121.8 517.9,122.5 518.7,123.3 519.5,122.6 520.3,124 521.2,119.6 522,122.8 522.8,122.3 523.6,120.9 524.5,121.2 525.3,122.6 526.1,122.8 526.9,120.5 527.7,120.5 528.6,120.7 529.4,121.1 530.2,121 531,122.8 531.8,121 532.7,119.9 533.5,119.8 534.3,119.7 535.1,120 536,119 536.8,118.4 537.6,117.2 538.4,116.6 539.2,118.3 540.1,118.4 540.9,118.4 541.7,118.1 542.5,117.7 543.4,117.7 544.2,118.1 545,117.2 545.8,117 546.6,118.1 547.5,117.6 548.3,118.9 549.1,114.3 549.9,117.2 550.8,114.5 551.6,114.4 552.4,116.4 553.2,114.6 554,114.2 554.9,116 555.7,114.3 556.5,113.8 557.3,114.1 558.1,113.4 559,112.2 559.8,112.8 560.6,113.1 561.4,114.3 562.3,113.1 563.1,113.9 563.9,112.2 564.7,113.4 565.5,112.8 566.4,113 567.2,112 568,113.3 568.8,112.1 569.7,111.4 570.5,112.4 571.3,111.5 572.1,111.5 572.9,111.1 573.8,111.4 574.6,110.9 575.4,110.7 576.2,110.7 577.1,110.7 577.9,109.9 578.7,108.9 579.5,111 580.3,109.7 581.2,108.2 582,107.9 582.8,109.3 583.6,109.1 584.4,108.5 585.3,109.8 586.1,106.8 586.9,106.8 587.7,107.7 588.6,107.7 589.4,107 590.2,106.3 591,106.5 591.8,105.1 592.7,105.2 593.5,107.2 594.3,107.3 595.1,105.4 596,104.3 596.8,106.1 597.6,104.8 598.4,103.5 599.2,104.6 600.1,104.2 600.9,103.6 601.7,104.1 602.5,104.9 603.4,103.5 604.2,103.6 605,104.5 605.8,104.6 606.6,104.7 607.5,103.2 608.3,101.9 609.1,103 609.9,102.8 610.8,101.8 611.6,103.3 612.4,101.4 613.2,102.3 614,102 614.9,102.9 615.7,101.3 616.5,101.7 617.3,100.3 618.1,101.2 619,101.8 619.8,100.6 620.6,100.7 621.4,98.6 622.2,102.1 623.1,102.2 623.9,101.2 624.7,101.2 625.5,100.5 626.3,101.5 627.1,99.6 627.9,101 628.7,101.8 629.5,99.6 630.3,100.9 631.1,102.9 632,101.4 632.8,103.1 633.6,103.1 634.4,102.9 635.2,104.2 636,102.6 636.8,102.9 637.6,102.9 638.4,102.3 639.2,102.7 640,103.2 640.9,101.7" fill="none" stroke="#ee8080" stroke-width="1.2" stroke-linejoin="round" stroke-linecap="round" stroke-opacity="0.7"/>
<polyline points="459.2,120.1 460,120.6 460.8,121 461.6,121 462.4,120.9 463.3,122 464.1,121.6 464.9,120.8 465.7,120.6 466.5,119.7 467.4,121.5 468.2,121.6 469,123.7 469.8,125.3 470.6,122.2 471.5,124.7 472.3,122.7 473.1,123.2 473.9,122.8 474.7,124.3 475.6,123.4 476.4,123.7 477.2,123.2 478,123.9 478.8,124 479.7,125.5 480.5,122 481.3,123.7 482.1,124.5 482.9,122.3 483.8,122.2 484.6,121.8 485.4,123.6 486.2,123.8 487.1,123.6 487.9,121.7 488.7,121.3 489.5,120.5 490.3,119.9 491.2,120.6 492,121.6 492.8,121.2 493.6,121.2 494.5,119.9 495.3,120.3 496.1,120.1 496.9,121.2 497.7,120.2 498.6,119 499.4,119.8 500.2,119.7 501,119.8 501.8,120.6 502.7,119.5 503.5,119.2 504.3,118.4 505.1,118.6 506,118 506.8,117.4 507.6,117.9 508.4,118.9 509.2,119.7 510.1,117.2 510.9,117.2 511.7,116.5 512.5,117 513.4,116.4 514.2,114.8 515,115.4 515.8,116.3 516.6,118.1 517.5,117.1 518.3,115.5 519.1,116.2 519.9,115.1 520.8,114.3 521.6,113 522.4,115.5 523.2,115 524,113.5 524.9,115.6 525.7,115.6 526.5,115.6 527.3,116.2 528.1,115.9 529,114.6 529.8,117.1 530.6,114.3 531.4,114.9 532.3,116.3 533.1,116.5 533.9,115.9 534.7,116.4 535.5,116.9 536.4,115.5 537.2,115.1 538,116.5 538.8,117 539.7,116.7 540.5,117.3 541.3,117.2 542.1,116.7 542.9,117.8 543.8,118 544.6,116.2 545.4,117.2 546.2,117.1 547,116.1 547.8,116.8 548.7,114.9 549.5,116.4 550.3,115.3 551.1,116.3 551.9,115.9 552.7,114.8 553.6,116.3 554.4,115.2 555.2,115.3 556,115 556.8,114 557.6,114.7 558.5,113.9 559.3,114.6 560.1,114.2 560.9,117.3 561.7,116.8 562.5,114.8 563.3,114.8 564.2,115.2 565,113.8 565.8,114.6 566.6,114.1 567.4,113.8 568.2,114.1 569.1,112.4 569.9,113 570.7,112.2 571.5,113.4 572.3,115.6 573.1,113.8 574,114.1 574.8,115.2 575.6,112.2 576.4,114.2 577.2,112.3 578,113.4 578.8,114 579.7,113 580.5,114.2 581.3,114.5 582.1,115.3 582.9,113.9 583.7,113.2 584.6,114.9 585.4,113.9 586.2,115.1 587,115.1 587.8,114.1 588.6,114.6 589.5,117 590.3,115.8 591.1,114.2 591.9,116.1 592.7,114.6 593.5,114.8 594.3,116.2 595.2,115.6 596,115.6 596.8,116.7 597.6,116.9 598.4,115.2 599.2,117 600.1,115.8 600.9,116.9 601.7,116.5 602.5,117.5 603.4,116.1 604.2,115.3 605,116.2 605.8,115.3 606.6,116.3 607.5,117 608.3,118.6 609.1,118.1 609.9,118.4 610.8,117.8 611.6,118.7 612.4,120.1 613.2,118 614,119.2 614.9,120.1 615.7,120.1 616.5,119.9 617.3,119.6 618.1,119.3 619,120.2 619.8,120.7 620.6,119 621.4,118.4 622.2,121.1 623.1,119.9 623.9,119.8 624.7,118.7 625.5,120.3 626.3,119.9 627.1,122.3 627.9,122.7 628.7,122 629.5,120.6 630.3,121.5 631.1,122 632,123.6 632.8,123.1 633.6,121.5 634.4,124.1 635.2,124.3 636,123.7 636.8,122.6 637.6,123.1 638.4,124.2 639.2,123.9 640,123.7 640.9,123.2" fill="none" stroke="#ee8080" stroke-width="1.2" stroke-linejoin="round" stroke-linecap="round" stroke-opacity="0.7"/>
<polyline points="459.2,120.1 460,119.7 460.8,119.5 461.6,118.7 462.4,118.1 463.2,117.6 464,116.5 464.8,118.1 465.6,117.3 466.4,115.8 467.2,115.8 468,115.6 468.8,114.1 469.6,114.5 470.4,114.5 471.2,113.6 472,111.9 472.8,112.1 473.6,111.4 474.4,110.6 475.2,111.5 476,111.9 476.8,110.9 477.7,109.9 478.5,110.7 479.3,110.6 480.1,111.8 480.9,111.3 481.7,110.9 482.5,110.7 483.3,109.5 484.1,108.6 484.9,109.5 485.7,109.3 486.6,108.5 487.4,108.9 488.2,108.6 489,108 489.8,109.1 490.6,107.8 491.4,108.4 492.2,109.1 493,108.9 493.8,108.8 494.6,108.7 495.5,107.7 496.3,107.2 497.1,106.4 497.9,106.9 498.7,108.4 499.5,106.3 500.3,106.5 501.1,107.4 501.9,106 502.7,105.7 503.5,106.7 504.4,106.6 505.2,105.1 506,105.9 506.8,105.2 507.6,107.5 508.4,106 509.2,105.4 510,105.9 510.8,105 511.6,105.8 512.4,103.1 513.3,105.5 514.1,104.2 514.9,104.3 515.7,106.1 516.5,106.1 517.3,105.1 518.1,104.8 518.9,104.2 519.7,104.5 520.5,103.2 521.3,104.4 522.2,104.1 523,103.1 523.8,102.7 524.6,103.1 525.4,104 526.2,102.2 527,102.2 527.8,101.1 528.6,102.2 529.4,103.5 530.2,101.3 531.1,103.3 531.9,102.6 532.7,102 533.5,101.7 534.3,102.4 535.1,101.2 535.9,101.5 536.7,101.9 537.5,101.4 538.3,100 539.1,99.9 540,100.6 540.8,100.7 541.6,100.1 542.4,99.5 543.2,99.6 544,98.5 544.8,99.7 545.6,99.3 546.4,99.3 547.2,99.1 548,99.3 548.9,97.8 549.7,98.7 550.5,98.6 551.3,96.9 552.1,98.2 552.9,98.4 553.7,98.5 554.5,97.9 555.3,98.7 556.1,96.6 556.9,96.3 557.8,95.3 558.6,95.9 559.4,96.5 560.2,96.5 561,94.7 561.8,95.4 562.6,94.7 563.4,96 564.2,96.1 565,95.6 565.8,94.8 566.7,95.9 567.5,95.3 568.3,94.4 569.1,92.9 569.9,94.1 570.7,93.8 571.5,93.2 572.3,94.3 573.1,92.9 573.9,93.4 574.7,92.6 575.6,91.6 576.4,94.2 577.2,92.4 578,90.1 578.8,92 579.6,90.6 580.4,91.8 581.2,91.2 582,91.1 582.8,89.3 583.6,92 584.4,89.5 585.3,91.1 586.1,90.5 586.9,90.8 587.7,89.9 588.5,89.5 589.3,90.5 590.1,90.5 590.9,89.3 591.7,89 592.5,88.2 593.3,90.3 594.2,88.4 595,89.1 595.8,88.9 596.6,87.6 597.4,88.7 598.2,87.7 599,88 599.8,87.3 600.6,87.7 601.4,87.7 602.2,88.4 603.1,87 603.9,87.6 604.7,86.7 605.5,86.2 606.3,85.1 607.1,87 607.9,86 608.7,86.6 609.5,85.7 610.3,85.2 611.2,84.9 612,86.8 612.8,86.7 613.7,84.5 614.5,86.4 615.3,84.8 616.2,85.2 617,83.7 617.8,84.3 618.7,84.5 619.5,84.6 620.3,85.1 621.2,84.9 622,84.5 622.8,84.9 623.7,84.9 624.5,82.9 625.3,84.5 626.2,85 627,84.5 627.8,84.1 628.6,85.1 629.4,83.2 630.2,83.5 631.1,84.2 631.9,84.6 632.7,83.7 633.5,84.3 634.3,84 635.1,81.7 636,84.1 636.8,81.8 637.6,82.4 638.4,82.9 639.2,82.4 640,82.2 640.9,82.9" fill="none" stroke="#ee8080" stroke-width="1.2" stroke-linejoin="round" stroke-linecap="round" stroke-opacity="0.7"/>
<polyline points="459.2,120.1 460,120.1 460.8,119.6 461.6,119 462.4,119.3 463.2,119.2 464,118.8 464.8,118.9 465.6,119.1 466.4,119 467.2,116.2 468,117.9 468.8,117.8 469.6,117.6 470.4,117.8 471.2,117.6 472,117.7 472.8,117.7 473.6,113.4 474.4,114.4 475.2,115.4 476,117.8 476.8,114.7 477.6,116.6 478.4,115.4 479.2,114.2 480,114.5 480.8,114.5 481.6,113.6 482.4,113.3 483.3,113.9 484.1,113.7 484.9,115.1 485.7,113.7 486.5,112.8 487.4,115.7 488.2,112.8 489,112.4 489.8,113.2 490.7,111.1 491.5,110.2 492.3,111.6 493.1,113.4 493.9,111 494.8,112.5 495.6,110.4 496.4,110.7 497.2,111.1 498,110.3 498.9,110.9 499.7,110.3 500.5,112 501.3,110.8 502.2,110 503,111.3 503.8,110.8 504.6,109.5 505.4,109.6 506.3,109.8 507.1,109 507.9,110.8 508.7,109.1 509.6,110.3 510.4,108.8 511.2,108 512,107.8 512.8,109.7 513.7,107.4 514.5,109 515.3,108 516.1,106.6 517,106.2 517.8,106.8 518.6,107.2 519.4,107.2 520.2,106.5 521.1,108.5 521.9,107 522.7,106.8 523.5,106.8 524.3,106.5 525.2,107.5 526,105 526.8,106.6 527.6,106.1 528.5,105.8 529.3,107.4 530.1,105.9 530.9,105.6 531.7,103.7 532.6,107.2 533.4,105.8 534.2,107.1 535,103.9 535.9,105.5 536.7,105.7 537.5,104.1 538.3,104.6 539.1,106.5 540,106.7 540.8,106.9 541.6,106.8 542.4,105.1 543.3,103.2 544.1,104.6 544.9,105.1 545.7,105.3 546.5,104.2 547.4,103.5 548.2,103.4 549,106.3 549.8,105.7 550.6,103.2 551.5,104.2 552.3,104.6 553.1,103.4 553.9,102.7 554.8,102.9 555.6,102.3 556.4,103.4 557.2,103 558,102.8 558.9,103 559.7,103.6 560.5,102.3 561.3,100.1 562.2,101.4 563,100.9 563.8,101.4 564.6,100.9 565.4,100.8 566.3,101.5 567.1,100.2 567.9,99.1 568.7,100 569.6,99.8 570.4,100.7 571.2,100.1 572,98.7 572.8,98.6 573.7,99.3 574.5,99.1 575.3,98.7 576.1,98.9 576.9,99.3 577.8,99 578.6,99.5 579.4,99.2 580.2,99.2 581.1,99.1 581.9,98.4 582.7,97.5 583.5,97.9 584.3,97.7 585.2,96.7 586,98.4 586.8,97.4 587.6,96.2 588.5,96 589.3,97.5 590.1,97.8 590.9,96.4 591.7,96.1 592.6,97.2 593.4,96.3 594.2,98.1 595,96.6 595.9,96.7 596.7,95.2 597.5,94.6 598.3,93.6 599.1,95.1 600,94.9 600.8,96.6 601.6,95.5 602.4,94.8 603.3,94 604.1,95.8 604.9,95.2 605.7,95.2 606.5,92.8 607.4,94.6 608.2,94.5 609,94.2 609.8,95.1 610.6,94.7 611.5,94.3 612.3,94.2 613.1,93.2 613.9,92.8 614.7,93.6 615.6,93.1 616.4,95.2 617.2,92.2 618,92 618.8,92.9 619.6,93.5 620.5,93.2 621.3,92.4 622.1,91.7 622.9,93.1 623.7,92.5 624.5,92.2 625.4,92.6 626.2,91.6 627,91.9 627.8,91.1 628.6,89.8 629.4,91.4 630.2,89.4 631.1,92.7 631.9,90.8 632.7,89.8 633.5,91.1 634.3,91.4 635.1,90.6 636,90.2 636.8,90.4 637.6,91.1 638.4,90.3 639.2,89.5 640,88.2 640.9,90" fill="none" stroke="#ee8080" stroke-width="1.2" stroke-linejoin="round" stroke-linecap="round" stroke-opacity="0.7"/>
<polyline points="459.2,120.1 460,119.8 460.8,120.4 461.7,119.7 462.5,118.8 463.3,118.4 464.2,119.5 465,118.1 465.8,119.1 466.7,117.2 467.5,119.2 468.3,119.1 469.1,116.5 470,116.8 470.8,118.2 471.6,116.2 472.5,115.6 473.3,115.8 474.1,117.2 474.9,117.4 475.7,116 476.5,115.5 477.3,117.9 478.1,116.1 478.9,114.4 479.7,115.7 480.5,116.5 481.4,116.4 482.2,117.3 483,115.5 483.8,114.9 484.6,114.7 485.4,116.2 486.2,115.6 487,115.3 487.8,115.7 488.6,114.5 489.4,114.9 490.3,114.9 491.1,114.1 491.9,115.5 492.7,114.4 493.5,114.2 494.3,114.7 495.1,113.8 495.9,112.6 496.7,115.2 497.5,111.7 498.3,113.4 499.2,114.5 500,112.9 500.8,113.8 501.6,113 502.4,113.8 503.2,111.5 504,112.9 504.8,114.5 505.6,112.2 506.4,113 507.2,112.5 508.1,114 508.9,111.1 509.7,111.3 510.5,111.6 511.3,111.9 512.1,111.7 512.9,112.9 513.8,110.9 514.6,110.1 515.4,110.6 516.2,110.4 517.1,111.8 517.9,111.2 518.7,112.2 519.5,109.8 520.3,109.8 521.2,110.6 522,110.5 522.8,111.8 523.6,110.2 524.5,111.2 525.3,109.4 526.1,109.8 526.9,108.8 527.7,109 528.6,109.6 529.4,109.6 530.2,109.2 531,109.7 531.8,107.3 532.7,109.4 533.5,110.3 534.3,107.5 535.1,109.7 536,109.6 536.8,110.2 537.6,108.4 538.4,109.1 539.2,108.8 540.1,109.8 540.9,108.1 541.7,108.9 542.5,109.2 543.4,109.2 544.2,110.6 545,108.9 545.8,108 546.6,110.8 547.5,110 548.3,109.5 549.1,109.1 549.9,109.8 550.8,109.8 551.6,108.5 552.4,110.2 553.2,110.9 554,110.6 554.9,109 555.7,109.4 556.5,110.1 557.3,110.4 558.1,109.7 559,109.9 559.8,108.6 560.6,109.6 561.4,109.4 562.3,111.7 563.1,108.6 563.9,110.3 564.7,109.5 565.5,110.6 566.4,109.1 567.2,107.6 568,108.8 568.8,109.1 569.7,107.3 570.5,107.4 571.3,107.7 572.1,108.6 572.9,106.5 573.8,107.7 574.6,107.7 575.4,105.7 576.2,107.8 577.1,107.4 577.9,107.7 578.7,107 579.5,106 580.3,106.1 581.2,107.2 582,109 582.8,107.6 583.6,106.9 584.4,106.9 585.3,108.9 586.1,106.8 586.9,107.3 587.7,108.6 588.6,105.1 589.4,106.4 590.2,107.8 591,106.8 591.8,105 592.7,105.5 593.5,105.6 594.3,106.4 595.1,105.9 596,104.7 596.8,105.6 597.6,104.2 598.4,105.3 599.2,105.6 600.1,105.1 600.9,105.8 601.7,105.5 602.5,106.6 603.4,103.9 604.2,105.3 605,105.5 605.8,104.4 606.6,103.6 607.5,105.4 608.3,103.9 609.1,102.6 609.9,103.7 610.8,101.4 611.6,103.2 612.4,103.8 613.2,103.3 614,103.9 614.9,103.4 615.7,102.5 616.5,101.6 617.3,101.3 618.1,101.3 619,102.1 619.8,103.9 620.6,102.8 621.4,102.5 622.2,102 623.1,102.2 623.9,103.1 624.7,101.6 625.5,102.3 626.3,102.2 627.1,103 627.9,100.3 628.7,101.3 629.5,102 630.3,102.6 631.1,100.4 632,101.4 632.8,101.8 633.6,100.5 634.4,101 635.2,101.5 636,99.8 636.8,101.5 637.6,99.7 638.4,101.3 639.2,102.1 640,100.8 640.9,101.2" fill="none" stroke="#ee8080" stroke-width="1.2" stroke-linejoin="round" stroke-linecap="round" stroke-opacity="0.7"/>
<polyline points="459.4,119.5 460,119.4 460.6,119.3 461.2,119.2 461.8,119.2 462.4,119.1 463,119.1 463.6,119 464.2,119 464.9,118.8 465.5,118.7 466.1,118.6 466.7,118.5 467.3,118.5 467.9,118.4 468.5,118.3 469.1,118.1 469.7,118 470.3,117.9 470.9,117.9 471.5,117.9 472.1,117.8 472.7,117.8 473.3,117.7 473.9,117.6 474.5,117.5 475.2,117.5 475.8,117.4 476.4,117.4 477,117.3 477.6,117.1 478.2,117 478.8,116.9 479.4,116.9 480,116.8 480.6,116.7 481.2,116.6 481.8,116.5 482.4,116.4 483,116.3 483.6,116.3 484.2,116.2 484.8,116.1 485.4,116 486,115.9 486.6,115.8 487.2,115.7 487.8,115.6 488.4,115.5 489.1,115.4 489.7,115.3 490.3,115.2 490.9,115.2 491.5,115.1 492.1,115.1 492.7,115 493.3,114.9 493.9,114.8 494.5,114.7 495.1,114.5 495.7,114.4 496.3,114.3 496.9,114.2 497.5,114.1 498.1,114 498.7,113.9 499.3,113.8 499.9,113.6 500.5,113.5 501.1,113.5 501.7,113.4 502.3,113.2 502.9,113 503.6,112.8 504.2,112.7 504.8,112.7 505.4,112.6 506,112.5 506.6,112.5 507.2,112.3 507.8,112.2 508.4,112.1 509,112 509.6,111.9 510.2,111.7 510.8,111.6 511.4,111.5 512,111.3 512.6,111.2 513.2,111.1 513.8,110.9 514.4,110.7 515,110.6 515.7,110.5 516.3,110.4 516.9,110.3 517.5,110.2 518.1,110.1 518.7,110 519.3,109.9 519.9,109.8 520.5,109.7 521.1,109.5 521.7,109.4 522.3,109.3 522.9,109.1 523.5,109 524.1,108.9 524.7,108.8 525.3,108.7 525.9,108.6 526.5,108.4 527.2,108.2 527.8,108.1 528.4,108 529,107.9 529.6,107.8 530.2,107.7 530.8,107.5 531.4,107.4 532,107.3 532.6,107.2 533.2,107.2 533.8,107.1 534.4,107 535,106.8 535.6,106.7 536.2,106.6 536.8,106.5 537.4,106.4 538,106.3 538.6,106.2 539.2,106.1 539.8,106 540.4,105.9 541,105.8 541.7,105.6 542.3,105.5 542.9,105.4 543.5,105.3 544.1,105.2 544.7,105.1 545.3,104.9 545.9,104.8 546.5,104.7 547.1,104.6 547.7,104.5 548.3,104.4 548.9,104.3 549.5,104.2 550.1,104.2 550.7,104.1 551.3,104 551.9,103.8 552.5,103.7 553.1,103.5 553.7,103.4 554.3,103.2 554.9,103.1 555.5,103 556.1,103 556.7,102.9 557.3,102.8 557.9,102.8 558.5,102.7 559.2,102.5 559.8,102.4 560.4,102.2 561,102.2 561.6,102.1 562.2,101.9 562.8,101.8 563.4,101.7 564,101.6 564.6,101.5 565.2,101.4 565.8,101.3 566.4,101.2 567,101.2 567.6,101.1 568.2,100.9 568.8,100.8 569.4,100.7 570,100.6 570.7,100.5 571.3,100.3 571.9,100.2 572.5,100 573.1,99.9 573.7,99.7 574.3,99.6 574.9,99.5 575.5,99.3 576.2,99.1 576.8,98.9 577.4,98.8 578,98.6 578.6,98.5 579.2,98.4 579.8,98.3 580.4,98.2 581,98.2 581.7,98 582.3,97.8 582.9,97.7 583.5,97.6 584.1,97.5 584.7,97.4 585.3,97.3 585.9,97.1 586.6,97 587.2,96.8 587.8,96.6 588.4,96.5 589,96.4 589.6,96.3 590.2,96.1 590.8,96 591.4,95.9 592.1,95.8 592.7,95.7 593.3,95.6 593.9,95.4 594.5,95.3 595.1,95.1 595.7,95 596.3,94.8 596.9,94.7 597.6,94.5 598.2,94.3 598.8,94.2 599.4,94 600,93.9 600.6,93.9 601.2,93.8 601.8,93.7 602.4,93.7 603,93.6 603.6,93.5 604.2,93.5 604.9,93.4 605.5,93.3 606.1,93.2 606.7,93.1 607.3,93 607.9,92.8 608.5,92.6 609.1,92.5 609.7,92.4 610.3,92.4 610.9,92.3 611.5,92.2 612.1,92.1 612.8,92.1 613.4,92 614,91.9 614.6,91.9 615.2,91.8 615.8,91.7 616.4,91.6 617,91.4 617.6,91.3 618.2,91.2 618.8,91.1 619.4,91 620,91 620.6,90.9 621.2,90.9 621.9,90.8 622.5,90.6 623.1,90.5 623.7,90.3 624.3,90.2 624.9,90.2 625.5,90.1 626.1,90 626.7,89.9 627.3,89.8 627.9,89.7 628.5,89.6 629.1,89.5 629.8,89.4 630.4,89.3 631,89.2 631.6,89.1 632.2,89.1 632.8,89 633.4,88.9 634,88.8 634.6,88.7 635.2,88.6 635.8,88.6 636.4,88.6 637,88.5 637.6,88.4 638.2,88.3 638.9,88.2 639.5,88.1 640.1,88 640.7,87.9 641.3,87.8 641.9,87.7 642.5,87.7" fill="none" stroke="#3f7ab8" stroke-width="2.6" stroke-linejoin="round" stroke-linecap="round" stroke-opacity="0.9"/>
<polyline points="459.2,120.1 460,120 460.8,120 461.7,120 462.5,119.9 463.3,119.2 464.2,119.2 465,118.7 465.8,117.9 466.7,118.2 467.5,118.8 468.3,118.2 469.1,117.7 470,117.1 470.8,117.5 471.6,117 472.5,117.3 473.4,117.4 474.2,115.7 475.1,116.9 475.9,115.9 476.8,116.1 477.6,115.9 478.5,117.2 479.3,116.8 480.2,116.6 481,115.7 481.9,115.2 482.7,115.7 483.6,116.2 484.4,116.3 485.3,116.9 486.2,116.4 487,117.9 487.9,117.4 488.7,118.3 489.6,117.5 490.4,117.4 491.3,117.2 492.1,118.3 493,118.6 493.8,118.3 494.7,118.2 495.5,117.6 496.3,117.3 497.2,117.1 498,115.9 498.8,116.2 499.7,116.6 500.5,116.5 501.3,116.8 502.2,116.3 503,116.5 503.8,116.5 504.7,115.4 505.5,117.1 506.3,116.8 507.1,117.9 508,117.7 508.8,118 509.6,118.1 510.5,118.6 511.3,117.6 512.1,117.8 513,119.5 513.8,119.1 514.6,118.6 515.5,118.7 516.3,118.7 517.1,120.9 518,119.3 518.8,119 519.6,118.6 520.5,117.6 521.3,119.2 522.1,119.9 523,119.7 523.8,119.3 524.6,118.8 525.5,118.5 526.3,119.3 527.1,119 528,118.6 528.8,120.2 529.6,118.6 530.5,118.8 531.3,117.7 532.1,120.1 532.9,119 533.8,119 534.6,119.2 535.4,118.5 536.3,118.6 537.1,119.1 537.9,118.4 538.8,119.1 539.6,119.6 540.4,119.3 541.3,119.7 542.1,119.4 542.9,119.8 543.8,118.9 544.6,119 545.4,118.1 546.3,118.6 547.1,118.3 547.9,118.7 548.8,118.1 549.6,118.9 550.4,120.3 551.3,118.3 552.1,119.1 552.9,119.1 553.8,118.3 554.6,118.5 555.4,118.4 556.2,119 557.1,118.3 557.9,120.3 558.7,119.2 559.6,119.4 560.4,120 561.3,119.7 562.1,119 563,119.5 563.8,119.4 564.7,119.7 565.5,120.3 566.4,118.7 567.2,119.1 568.1,120.1 568.9,120.7 569.8,120.3 570.7,120.7 571.5,121.6 572.4,120.5 573.4,119.2 574.3,118.2 575.2,116.7 576.1,117.1 577.1,116 577.9,115.3 578.8,116 579.6,115.4 580.5,115.3 581.3,114.4 582.2,115.8 583,114.7 583.9,115.3 584.7,115.1 585.6,114.5 586.4,114.7 587.3,114.5 588.1,114.4 589,114.7 589.8,114.2 590.6,114.9 591.5,114.6 592.3,113.8 593.1,114.8 594,114.3 594.8,114.8 595.6,113.1 596.5,114.7 597.3,113.2 598.1,114.3 599,116.4 599.8,114.9 600.6,115.1 601.5,114.1 602.3,113.8 603.1,114.5 604,114.8 604.8,114.5 605.6,114 606.5,113.8 607.3,114.1 608.1,115.2 609,114.2 609.8,113.9 610.6,113.9 611.4,113.4 612.3,113.1 613.1,113.9 613.9,114.6 614.8,114 615.6,112.8 616.4,114.5 617.3,113.7 618.1,114.6 618.9,113.3 619.8,112.5 620.6,113.4 621.4,113.1 622.3,112.4 623.1,112.5 624,112.6 624.8,112.2 625.7,113 626.6,112.7 627.4,112.1 628.3,112.1 629.1,112.7 630,112.3 630.8,111.3 631.7,112 632.5,112.8 633.4,111.8 634.2,111 635,112.3 635.9,112.7 636.7,111.2 637.5,109.6 638.4,109.9 639.2,111.8 640,110.5 640.9,110.8" fill="none" stroke="#e03b3b" stroke-width="2.7" stroke-linejoin="round" stroke-linecap="round"/>
<rect x="459.4" y="9.9" width="183.3" height="153.4" fill="none" stroke="#333" stroke-width="0.8"/>
<line x1="459.4" y1="163.3" x2="459.4" y2="161.5" stroke="#262626" stroke-width="0.6" stroke-linecap="butt"/>
<line x1="459.4" y1="9.9" x2="459.4" y2="11.7" stroke="#262626" stroke-width="0.6" stroke-linecap="butt"/>
<text x="459.4" y="172" font-size="7.4" fill="#262626" stroke="#262626" stroke-width="0.14" text-anchor="middle">0</text>
<line x1="489.9" y1="163.3" x2="489.9" y2="161.5" stroke="#262626" stroke-width="0.6" stroke-linecap="butt"/>
<line x1="489.9" y1="9.9" x2="489.9" y2="11.7" stroke="#262626" stroke-width="0.6" stroke-linecap="butt"/>
<text x="489.9" y="172" font-size="7.4" fill="#262626" stroke="#262626" stroke-width="0.14" text-anchor="middle">10</text>
<line x1="520.5" y1="163.3" x2="520.5" y2="161.5" stroke="#262626" stroke-width="0.6" stroke-linecap="butt"/>
<line x1="520.5" y1="9.9" x2="520.5" y2="11.7" stroke="#262626" stroke-width="0.6" stroke-linecap="butt"/>
<text x="520.5" y="172" font-size="7.4" fill="#262626" stroke="#262626" stroke-width="0.14" text-anchor="middle">20</text>
<line x1="551" y1="163.3" x2="551" y2="161.5" stroke="#262626" stroke-width="0.6" stroke-linecap="butt"/>
<line x1="551" y1="9.9" x2="551" y2="11.7" stroke="#262626" stroke-width="0.6" stroke-linecap="butt"/>
<text x="551" y="172" font-size="7.4" fill="#262626" stroke="#262626" stroke-width="0.14" text-anchor="middle">30</text>
<line x1="581.6" y1="163.3" x2="581.6" y2="161.5" stroke="#262626" stroke-width="0.6" stroke-linecap="butt"/>
<line x1="581.6" y1="9.9" x2="581.6" y2="11.7" stroke="#262626" stroke-width="0.6" stroke-linecap="butt"/>
<text x="581.6" y="172" font-size="7.4" fill="#262626" stroke="#262626" stroke-width="0.14" text-anchor="middle">40</text>
<line x1="612.2" y1="163.3" x2="612.2" y2="161.5" stroke="#262626" stroke-width="0.6" stroke-linecap="butt"/>
<line x1="612.2" y1="9.9" x2="612.2" y2="11.7" stroke="#262626" stroke-width="0.6" stroke-linecap="butt"/>
<text x="612.2" y="172" font-size="7.4" fill="#262626" stroke="#262626" stroke-width="0.14" text-anchor="middle">50</text>
<line x1="642.7" y1="163.3" x2="642.7" y2="161.5" stroke="#262626" stroke-width="0.6" stroke-linecap="butt"/>
<line x1="642.7" y1="9.9" x2="642.7" y2="11.7" stroke="#262626" stroke-width="0.6" stroke-linecap="butt"/>
<text x="642.7" y="172" font-size="7.4" fill="#262626" stroke="#262626" stroke-width="0.14" text-anchor="middle">60</text>
<line x1="459.4" y1="163.3" x2="461.2" y2="163.3" stroke="#262626" stroke-width="0.6" stroke-linecap="butt"/>
<line x1="642.7" y1="163.3" x2="640.9" y2="163.3" stroke="#262626" stroke-width="0.6" stroke-linecap="butt"/>
<text x="456" y="166" font-size="7.4" fill="#262626" stroke="#262626" stroke-width="0.14" text-anchor="end">-4</text>
<line x1="459.4" y1="141.4" x2="461.2" y2="141.4" stroke="#262626" stroke-width="0.6" stroke-linecap="butt"/>
<line x1="642.7" y1="141.4" x2="640.9" y2="141.4" stroke="#262626" stroke-width="0.6" stroke-linecap="butt"/>
<text x="456" y="144" font-size="7.4" fill="#262626" stroke="#262626" stroke-width="0.14" text-anchor="end">-2</text>
<line x1="459.4" y1="119.5" x2="461.2" y2="119.5" stroke="#262626" stroke-width="0.6" stroke-linecap="butt"/>
<line x1="642.7" y1="119.5" x2="640.9" y2="119.5" stroke="#262626" stroke-width="0.6" stroke-linecap="butt"/>
<text x="456" y="122.1" font-size="7.4" fill="#262626" stroke="#262626" stroke-width="0.14" text-anchor="end">0</text>
<line x1="459.4" y1="97.6" x2="461.2" y2="97.6" stroke="#262626" stroke-width="0.6" stroke-linecap="butt"/>
<line x1="642.7" y1="97.6" x2="640.9" y2="97.6" stroke="#262626" stroke-width="0.6" stroke-linecap="butt"/>
<text x="456" y="100.2" font-size="7.4" fill="#262626" stroke="#262626" stroke-width="0.14" text-anchor="end">2</text>
<line x1="459.4" y1="75.6" x2="461.2" y2="75.6" stroke="#262626" stroke-width="0.6" stroke-linecap="butt"/>
<line x1="642.7" y1="75.6" x2="640.9" y2="75.6" stroke="#262626" stroke-width="0.6" stroke-linecap="butt"/>
<text x="456" y="78.3" font-size="7.4" fill="#262626" stroke="#262626" stroke-width="0.14" text-anchor="end">4</text>
<line x1="459.4" y1="53.7" x2="461.2" y2="53.7" stroke="#262626" stroke-width="0.6" stroke-linecap="butt"/>
<line x1="642.7" y1="53.7" x2="640.9" y2="53.7" stroke="#262626" stroke-width="0.6" stroke-linecap="butt"/>
<text x="456" y="56.4" font-size="7.4" fill="#262626" stroke="#262626" stroke-width="0.14" text-anchor="end">6</text>
<line x1="459.4" y1="31.8" x2="461.2" y2="31.8" stroke="#262626" stroke-width="0.6" stroke-linecap="butt"/>
<line x1="642.7" y1="31.8" x2="640.9" y2="31.8" stroke="#262626" stroke-width="0.6" stroke-linecap="butt"/>
<text x="456" y="34.5" font-size="7.4" fill="#262626" stroke="#262626" stroke-width="0.14" text-anchor="end">8</text>
<line x1="459.4" y1="9.9" x2="461.2" y2="9.9" stroke="#262626" stroke-width="0.6" stroke-linecap="butt"/>
<line x1="642.7" y1="9.9" x2="640.9" y2="9.9" stroke="#262626" stroke-width="0.6" stroke-linecap="butt"/>
<text x="456" y="12.6" font-size="7.4" fill="#262626" stroke="#262626" stroke-width="0.14" text-anchor="end">10</text>
<text x="551" y="181.8" font-size="8.5" fill="#262626" stroke="#262626" stroke-width="0.14" text-anchor="middle">Elapsed time (seconds)</text>
<text transform="translate(443.8,86.6) rotate(-90)" font-size="8.5" fill="#262626" stroke="#262626" stroke-width="0.14" text-anchor="middle">Travel distance to MTOC (µm)</text>
<rect x="466.6" y="16.1" width="108.9" height="23.7" fill="#fff" stroke="#333" stroke-width="0.7"/>
<line x1="469" y1="23.1" x2="476.5" y2="23.1" stroke="#5a8fc4" stroke-width="1.4" stroke-linecap="butt"/>
<line x1="469" y1="32.3" x2="476.5" y2="32.3" stroke="#e8585a" stroke-width="1.4" stroke-linecap="butt"/>
<text x="479.7" y="25.8" font-size="7.4" fill="#262626" stroke="#262626" stroke-width="0.14">Largest 2% (2.2 ± 0.16 µm)</text>
<text x="479.7" y="35" font-size="7.4" fill="#262626" stroke="#262626" stroke-width="0.14">Smallest 2% (0.7 ± 0.03 µm)</text>
<text x="-0.3" y="201.9" font-size="14" fill="#000" font-weight="bold">C</text>
<rect x="85.5" y="203.4" width="7.4" height="146.3" fill="#f4ece3" stroke="none" stroke-width="0.8"/>
<rect x="137" y="203.4" width="7.5" height="146.3" fill="#f4ece3" stroke="none" stroke-width="0.8"/>
<rect x="163.1" y="203.4" width="6.8" height="146.3" fill="#f4ece3" stroke="none" stroke-width="0.8"/>
<polyline points="44,286 44.2,287.6 44.4,289.9 44.7,292.2 45,294 45.5,294.8 46,295.1 46.5,295.4 47,296 47.3,297.2 47.5,298.8 47.7,300.4 48,302 48.4,303.4 48.8,304.6 49.2,306.1 49.6,308 50,310.5 50.3,313.4 50.7,316.6 51,320 51.3,324 51.5,328.5 51.8,332.8 52,336 52.2,338 52.5,339.1 52.8,339.7 53,340 53.2,339.7 53.5,338.9 53.8,338.1 54,338 54.2,339.2 54.5,341.1 54.8,343 55,344 55.2,343.7 55.5,342.6 55.8,341.2 56,340 56.2,339 56.5,338.1 56.8,337.1 57,336 57.2,334.7 57.5,333.4 57.8,331.8 58,330 58.2,328.2 58.5,326.2 58.8,323.7 59,320 59.2,314.5 59.5,307.8 59.8,300.6 60,294 60.3,287.8 60.5,281.8 60.8,276.3 61,272 61.2,268.8 61.3,266.5 61.4,265.4 61.6,266 61.8,269 62.1,274 62.3,279.5 62.6,284 62.9,287.7 63.1,291.2 63.4,293.7 63.6,294 63.8,291.6 64,287 64.2,281.4 64.4,276 64.6,270.7 64.7,265 64.8,259.3 65,254 65.2,249.1 65.5,244.5 65.7,240.1 66,236 66.2,231.8 66.5,227.5 66.8,224 67,222 67.2,222 67.5,223.5 67.8,225.8 68,228 68.2,230.6 68.5,233.8 68.8,236.5 69,238 69.2,237.3 69.5,235.1 69.8,232.9 70,232 70.2,233 70.5,235.1 70.8,237.7 71,240 71.2,242.6 71.5,245.6 71.8,247.8 72,248 72.2,245.2 72.5,240.4 72.8,234.8 73,230 73.2,226 73.5,222.2 73.8,218.8 74,216 74.2,213.8 74.5,212.2 74.8,211.2 75,211 75.2,211.8 75.5,213.6 75.8,215.8 76,218 76.2,220.4 76.5,223.2 76.8,225.9 77,228 77.2,229.1 77.5,229.5 77.8,230.2 78,232 78.2,235.8 78.5,240.9 78.8,246 79,250 79.2,252.8 79.5,254.9 79.8,256 80,256 80.2,253.8 80.5,249.8 80.8,245.9 81,244 81.2,245 81.5,247.6 81.8,251 82,254 82.2,257.2 82.5,260.8 82.8,263.5 83,264 83.2,261.4 83.5,256.5 83.8,250.9 84,246 84.2,241.4 84.5,236.6 84.8,233 85,232 85.2,234.2 85.5,238.8 85.8,244.9 86,252 86.2,260.5 86.5,270.6 86.8,280.9 87,290 87.2,298.2 87.5,306.1 87.8,312.5 88,316 88.2,316.1 88.5,313.5 88.8,309.2 89,304 89.2,297 89.5,288.1 89.8,279.7 90,274 90.2,271.9 90.5,272 90.8,273.6 91,276 91.2,280 91.5,285.6 91.8,291 92,294 92.2,293.9 92.5,291.9 92.8,288.9 93,286 93.2,283.1 93.5,279.8 93.8,276.5 94,274 94.2,271.8 94.5,269.9 94.8,269 95,270 95.2,273.6 95.5,279.1 95.8,285.6 96,292 96.2,298.7 96.5,306 96.8,312.8 97,318 97.2,320.9 97.5,322.1 97.8,322.8 98,324 98.2,326.4 98.5,329.2 98.8,331.5 99,332 99.2,329.6 99.5,325.1 99.8,320.6 100,318 100.2,318.1 100.5,319.8 100.8,322 101,324 101.2,325.8 101.5,327.9 101.8,329.5 102,330 102.2,328.7 102.5,326 102.8,323.3 103,322 103.2,322.6 103.5,324.2 103.8,326.3 104,328 104.2,329.1 104.5,330 104.8,330.9 105,332 105.2,333.7 105.5,335.9 105.8,337.6 106,338 106.2,336.5 106.5,333.8 106.8,330.6 107,328 107.2,326.2 107.5,324.6 107.8,323.3 108,322 108.2,320.9 108.5,320 108.8,319.1 109,318 109.2,316.3 109.5,314.2 109.8,312.6 110,312 110.2,313 110.5,315.1 110.8,317.7 111,320 111.2,322.5 111.5,325.2 111.8,327.4 112,328 112.2,325.8 112.5,321.5 112.8,317.5 113,316 113.2,318.3 113.5,322.9 113.8,328 114,332 114.2,334.8 114.5,337.1 114.8,338.4 115,338 115.2,335 115.5,329.9 115.8,324.4 116,320 116.2,317.3 116.5,315.4 116.8,313.8 117,312 117.2,309.9 117.5,307.8 117.8,305.7 118,304 118.2,302.9 118.5,302.2 118.8,301.5 119,300 119.2,297.5 119.5,294.2 119.8,290.9 120,288 120.2,285.6 120.5,283.5 120.8,281.6 121,280 121.2,278.3 121.5,276.8 121.8,275.8 122,276 122.2,277.6 122.5,280.2 122.8,283.8 123,288 123.2,293.2 123.5,299.2 123.8,305.7 124,312 124.2,318.4 124.5,325 124.8,331.1 125,336 125.2,339.6 125.5,342.4 125.8,343.9 126,344 126.2,341.9 126.5,337.9 126.8,333.5 127,330 127.2,327.8 127.5,326.2 127.8,325 128,324 128.2,323.1 128.5,322.5 128.8,322.1 129,322 129.2,322.3 129.5,323 129.8,323.7 130,324 130.2,323.8 130.5,323.4 130.8,322.7 131,322 131.2,321.2 131.5,320.2 131.8,319.2 132,318 132.2,316.7 132.5,315.2 132.8,313.7 133,312 133.2,310.2 133.5,308.4 133.8,306.3 134,304 134.2,301.4 134.5,298.5 134.8,295.4 135,292 135.2,288.1 135.5,283.9 135.8,279.7 136,276 136.2,272.8 136.5,269.8 136.8,267.4 137,266 137.2,266 137.5,267 137.8,268.5 138,270 138.2,271.7 138.5,273.8 138.8,275.4 139,276 139.2,274.9 139.5,272.6 139.8,270 140,268 140.2,266.3 140.5,264.6 140.8,263.6 141,264 141.2,266.5 141.5,270.5 141.8,274.8 142,278 142.2,280.3 142.5,282.1 142.8,282.9 143,282 143.2,278.4 143.5,272.6 143.8,266.6 144,262 144.2,259.2 144.5,257.4 144.8,256.3 145,256 145.2,256.5 145.5,257.9 145.8,259.8 146,262 146.2,265 146.5,268.9 146.8,272.3 147,274 147.2,273.1 147.5,270.4 147.8,267.5 148,266 148.2,266.5 148.5,268 148.8,270 149,272 149.2,274.4 149.5,277.2 149.8,279.5 150,280 150.2,278 150.5,274.2 150.8,269.9 151,266 151.2,262.6 151.5,259.2 151.8,256.2 152,254 152.2,252.6 152.5,251.8 152.8,251.6 153,252 153.2,252.8 153.5,254.1 153.8,256.4 154,260 154.2,265.5 154.5,272.5 154.8,280.2 155,288 155.2,296.7 155.5,306.2 155.8,314.7 156,320 156.2,320.7 156.5,318.1 156.8,314.5 157,312 157.2,310.8 157.5,309.9 157.8,309.5 158,310 158.2,311.7 158.5,314.4 158.8,317.4 159,320 159.2,322.3 159.5,324.5 159.8,326.5 160,328 160.2,329.3 160.5,330.4 160.8,330.8 161,330 161.2,327.7 161.5,324.1 161.8,320 162,316 162.2,312 162.5,307.9 162.8,303.8 163,300 163.2,296.2 163.5,292.5 163.8,289.5 164,288 164.2,287.8 164.5,288.6 164.8,291.1 165,296 165.2,305.4 165.5,318.4 165.8,330.6 166,338 166.2,338.8 166.5,335.5 166.8,329.9 167,324 167.2,317.2 167.5,308.8 167.8,300.5 168,294 168.2,289.6 168.5,286.4 168.8,284.5 169,284 169.2,285.2 169.5,287.9 169.8,291.6 170,296 170.2,301.9 170.5,309.2 170.8,316 171,320 171.2,320.2 171.5,318 171.8,314.8 172,312 172.2,309.7 172.5,307.2 172.8,305.2 173,304 173.2,303.9 173.5,304.5 173.8,305.9 174,308 174.2,311.3 174.5,315.8 174.8,320.3 175,324 175.2,327 175.5,329.8 175.8,331.6 176,332 176.2,330.2 176.5,326.8 176.8,322.9 177,320 177.2,318.1 177.5,316.6 177.8,315.8 178,316 178.2,317.7 178.5,320.5 178.8,323.6 179,326 179.2,327.8 179.5,329.2 179.8,330.1 180,330 180.2,328.4 180.5,325.8 180.8,322.7 181,320 181.2,317.9 181.5,315.9 181.8,314 182,312 182.2,310 182.5,308 182.8,306 183,304 183.2,302.1 183.5,300.2 183.8,298.3 184,296 184.2,293.1 184.5,289.8 184.8,286.5 185,284 185.2,282.2 185.5,280.9 185.8,280.1 186,280 186.2,280.6 186.5,281.9 186.8,283.7 187,286 187.2,288.8 187.5,292.1 187.8,295.9 188,300 188.2,304.8 188.5,310.2 188.8,315.6 189,320 189.2,323.7 189.5,326.9 189.8,329.1 190,330 190.2,328.5 190.5,325.1 190.8,321.7 191,320 191.2,320.7 191.5,322.9 191.8,325.6 192,328 192.2,330.1 192.5,332.2 192.8,334.3 193,336 193.2,337.6 193.5,339.1 193.8,340.1 194,340 194.2,338.4 194.5,335.6 194.8,332.5 195,330 195.2,327.9 195.5,326 195.8,324.6 196,324 196.2,325 196.5,327.1 196.8,329.2 197,330 197.2,328.8 197.5,326.5 197.8,323.9 198,322 198.2,320.9 198.5,320.2 198.8,319.9 199,320 199.2,320.6 199.5,321.6 199.8,322.9 200,324 200.2,325.3 200.5,326.8 200.8,327.8 201,328 201.2,326.8 201.5,324.8 201.8,322.3 202,320 202.2,317.5 202.5,314.8 202.8,312.6 203,312 203.2,314.1 203.5,318.1 203.8,322.1 204,324 204.2,323 204.5,320.4 204.8,317 205,314 205.2,311.2 205.5,308.1 205.8,305.5 206,304 206.2,303.8 206.5,304.6 206.8,306.1 207,308 207.2,310.4 207.5,313.4 207.8,316.7 208,320 208.2,323.9 208.5,328.4 208.8,332.1 209,334 209.2,333 209.5,330.1 209.8,326.6 210,324 210.2,322.7 210.5,321.9 210.8,321.1 211,320 211.2,318.4 211.5,316.5 211.8,314.4 212,312 212.2,309.3 212.5,306.4 212.8,303.2 213,300 213.2,296.5 213.5,292.6 213.8,289 214,286 214.2,283.8 214.5,282.2 214.8,281 215,280 215.2,279 215.5,278.1 215.8,277.7 216,278 216.2,279.6 216.5,282.2 216.8,284.8 217,286 217.2,285.4 217.5,283.8 217.8,281.7 218,280 218.2,278.7 218.5,277.5 218.8,276.5 219,276 219.2,275.9 219.5,276.2 219.8,276.9 220,278 220.2,279.5 220.5,281.5 220.8,283.7 221,286 221.2,288.1 221.5,290.1 221.8,292.6 222,296 222.2,301.3 222.5,308 222.8,314.2 223,318 223.3,318.5 223.5,316.9 223.8,314.3 224,312 224.2,310 224.5,307.6 224.7,305.5 224.8,304" fill="none" stroke="#9d9d9d" stroke-width="0.6" stroke-linejoin="round" stroke-linecap="round"/>
<polyline points="43.6,349 44.4,348 45.2,347.1 46,346 46.7,345.6 47.3,344.6 48,344.3 48.7,343.9 49.3,343.1 50,343.2 50.7,343.7 51.3,344.2 52,345.2 52.6,345.2 53.2,344.5 53.8,345.4 54.4,345.8 55,345.3 55.7,346.1 56.3,347.6 57,345.9 57.7,346.9 58.3,347.6 59,348.4 59.7,347.7 60.3,346.3 61,344.4 61.7,343.4 62.3,342.3 63,342.7" fill="none" stroke="#e98fcc" stroke-width="1.6" stroke-linejoin="round" stroke-linecap="round"/>
<polyline points="86.6,274 87.2,274 87.8,273.6 88.4,273.7 89,273.6" fill="none" stroke="#e98fcc" stroke-width="1.6" stroke-linejoin="round" stroke-linecap="round"/>
<polyline points="94,264 94.6,264 95.2,263.9 95.8,264 96.4,264.2 97,264.3 97.6,263.8 98.2,264.6 98.8,264.4 99.4,264 100,264.6 100.6,264.4 101.2,264.5 101.8,264.5 102.4,264.7 103,264.9 103.6,265.4 104.2,264.7 104.8,264 105.4,264.6 106,265.4 106.6,264.8 107.2,265.2 107.8,264.6 108.4,264.6 109,264 109.6,264.3 110.2,265.2 110.8,264.7 111.4,264.4 112,264.6 112.7,264.5 113.3,265 114,265.6 114.7,265.3 115.3,266.8 116,265.2 116.7,266.1 117.3,265.7 118,265.5 118.7,265.4 119.3,264.7 120,264.9 120.6,263.5 121.2,262.9 121.8,262 122.4,261.9 123.2,262.7 124,264.3 124.6,263.4 125.2,264.3 125.8,263.3 126.4,263.6 127,263.9 127.6,263.4 128.2,263.4 128.8,263 129.4,263.7 130,263.6 130.6,264.8 131.2,264.7 131.9,264.1 132.5,264.9 133.1,264.1 133.8,263.7 134.4,264.1 135,263.5" fill="none" stroke="#e98fcc" stroke-width="1.6" stroke-linejoin="round" stroke-linecap="round"/>
<polyline points="154,228 154.7,228 155.3,228 156,228.5 156.7,228 157.3,227.6 158,227.1 158.7,227.6 159.3,227.1 160,228.2 160.7,228 161.3,227.6 162,227.3 162.6,227.4 163.2,227 163.8,226.7 164.4,226 165,226.3" fill="none" stroke="#e98fcc" stroke-width="1.6" stroke-linejoin="round" stroke-linecap="round"/>
<polyline points="169,223 169.6,222.9 170.2,222.8 170.8,222.4 171.4,222.5 172,222.9 172.6,222 173.2,222.6 173.8,222 174.4,222.5 175,222 175.6,221.7 176.2,221.7 176.9,221.4 177.5,221.2 178.1,221.5 178.8,220.9 179.4,221.6 180,222.2 180.7,221 181.3,221.2 182,222.3 182.7,221.5 183.3,221.9 184,222 184.6,221.9 185.2,219.8 185.8,221.5 186.4,220.1 187,219.4 187.7,219.1 188.3,219 189,218.9 189.6,220 190.2,219.9 190.8,219.7 191.4,219.5 192,219.6 192.7,219.5 193.3,220.6 194,220.4 194.7,220.3 195.3,220.4 196,221.3 196.7,220.8 197.3,219.9 198,220.7 198.7,221 199.3,221.2 200,220.8 200.7,221.1 201.3,221.4 202,221.5 202.7,221 203.3,221.5 204,221.7 204.7,221.3 205.3,221.2 206,221.5 206.7,220.8 207.3,220.1 208,220.2 208.7,220.5 209.3,220.2 210,220.4 210.7,220.2 211.3,219.6 212,219.6 212.7,220 213.4,220.4 214.2,220 214.9,219.8 215.6,219.6" fill="none" stroke="#e98fcc" stroke-width="1.6" stroke-linejoin="round" stroke-linecap="round"/>
<polyline points="222,210 222.7,210.3 223.4,210.4 224.1,210.6 224.8,211.2" fill="none" stroke="#e98fcc" stroke-width="1.6" stroke-linejoin="round" stroke-linecap="round"/>
<polyline points="63,342 63.6,340.4 64.2,338.8 64.8,337.2 65.4,335.6 66,334 66.7,332 67.3,329.9 68,327.9 68.7,325.9 69.3,324 70,322.1 70.7,320.4 71.3,318.7 72,317 72.7,315.3 73.3,313.7 74,312 74.7,309.7 75.3,307.3 76,305 76.7,302.7 77.3,300.4 78,298.1 78.7,296.1 79.3,294.1 80,292.1 80.7,290 81.3,288.1 82,286 82.6,284.3 83.3,282.5 83.9,280.8 84.5,279.2 85.1,277.5 85.8,275.7 86.4,273.8" fill="none" stroke="#28c81e" stroke-width="1.7" stroke-linejoin="round" stroke-linecap="round"/>
<polyline points="89.6,272 90.2,270.8 90.9,269.7 91.5,268.5 92.1,267.4 92.7,266.2 93.4,265.1 94,264" fill="none" stroke="#28c81e" stroke-width="1.7" stroke-linejoin="round" stroke-linecap="round"/>
<polyline points="135,264 135.6,262.8 136.2,261.6 136.8,260.3 137.4,259.1 138,257.9 138.6,256.7 139.2,255.6 139.8,254.4 140.4,253.2 141,251.9 141.7,250.7 142.3,249.6 143,248.4 143.7,247.2 144.3,246 145,244.9 145.6,243.9 146.2,243 146.8,242 147.4,241 148,240 148.6,239.3 149.2,238.5 149.8,237.6 150.4,236.8 151,236 151.6,234.3 152.2,232.8 152.8,231.2 153.4,229.6 154,228" fill="none" stroke="#28c81e" stroke-width="1.7" stroke-linejoin="round" stroke-linecap="round"/>
<polyline points="165,226 165.7,225.3 166.3,224.7 167,224 167.7,223.6 168.3,223.2 169,222.8" fill="none" stroke="#28c81e" stroke-width="1.7" stroke-linejoin="round" stroke-linecap="round"/>
<polyline points="215.6,219.6 216.2,218.7 216.9,217.7 217.5,216.7 218.2,215.7 218.8,214.8 219.4,213.8 220.1,212.9 220.7,211.9 221.4,210.9 222,209.9" fill="none" stroke="#28c81e" stroke-width="1.7" stroke-linejoin="round" stroke-linecap="round"/>
<rect x="43.4" y="203.4" width="181.2" height="146.3" fill="none" stroke="#333" stroke-width="0.8"/>
<line x1="43.4" y1="349.7" x2="43.4" y2="347.9" stroke="#262626" stroke-width="0.6" stroke-linecap="butt"/>
<line x1="43.4" y1="203.4" x2="43.4" y2="205.2" stroke="#262626" stroke-width="0.6" stroke-linecap="butt"/>
<text x="43.4" y="358.5" font-size="7.4" fill="#262626" stroke="#262626" stroke-width="0.14" text-anchor="middle">0</text>
<line x1="73.6" y1="349.7" x2="73.6" y2="347.9" stroke="#262626" stroke-width="0.6" stroke-linecap="butt"/>
<line x1="73.6" y1="203.4" x2="73.6" y2="205.2" stroke="#262626" stroke-width="0.6" stroke-linecap="butt"/>
<text x="73.6" y="358.5" font-size="7.4" fill="#262626" stroke="#262626" stroke-width="0.14" text-anchor="middle">20</text>
<line x1="103.8" y1="349.7" x2="103.8" y2="347.9" stroke="#262626" stroke-width="0.6" stroke-linecap="butt"/>
<line x1="103.8" y1="203.4" x2="103.8" y2="205.2" stroke="#262626" stroke-width="0.6" stroke-linecap="butt"/>
<text x="103.8" y="358.5" font-size="7.4" fill="#262626" stroke="#262626" stroke-width="0.14" text-anchor="middle">40</text>
<line x1="134" y1="349.7" x2="134" y2="347.9" stroke="#262626" stroke-width="0.6" stroke-linecap="butt"/>
<line x1="134" y1="203.4" x2="134" y2="205.2" stroke="#262626" stroke-width="0.6" stroke-linecap="butt"/>
<text x="134" y="358.5" font-size="7.4" fill="#262626" stroke="#262626" stroke-width="0.14" text-anchor="middle">60</text>
<line x1="164.2" y1="349.7" x2="164.2" y2="347.9" stroke="#262626" stroke-width="0.6" stroke-linecap="butt"/>
<line x1="164.2" y1="203.4" x2="164.2" y2="205.2" stroke="#262626" stroke-width="0.6" stroke-linecap="butt"/>
<text x="164.2" y="358.5" font-size="7.4" fill="#262626" stroke="#262626" stroke-width="0.14" text-anchor="middle">80</text>
<line x1="194.4" y1="349.7" x2="194.4" y2="347.9" stroke="#262626" stroke-width="0.6" stroke-linecap="butt"/>
<line x1="194.4" y1="203.4" x2="194.4" y2="205.2" stroke="#262626" stroke-width="0.6" stroke-linecap="butt"/>
<text x="194.4" y="358.5" font-size="7.4" fill="#262626" stroke="#262626" stroke-width="0.14" text-anchor="middle">100</text>
<line x1="224.6" y1="349.7" x2="224.6" y2="347.9" stroke="#262626" stroke-width="0.6" stroke-linecap="butt"/>
<line x1="224.6" y1="203.4" x2="224.6" y2="205.2" stroke="#262626" stroke-width="0.6" stroke-linecap="butt"/>
<text x="224.6" y="358.5" font-size="7.4" fill="#262626" stroke="#262626" stroke-width="0.14" text-anchor="middle">120</text>
<line x1="43.4" y1="349.7" x2="45.2" y2="349.7" stroke="#262626" stroke-width="0.6" stroke-linecap="butt"/>
<text x="40.1" y="352.4" font-size="7.4" fill="#262626" stroke="#262626" stroke-width="0.14" text-anchor="end">0</text>
<line x1="43.4" y1="325.3" x2="45.2" y2="325.3" stroke="#262626" stroke-width="0.6" stroke-linecap="butt"/>
<text x="40.1" y="328" font-size="7.4" fill="#262626" stroke="#262626" stroke-width="0.14" text-anchor="end">5</text>
<line x1="43.4" y1="300.9" x2="45.2" y2="300.9" stroke="#262626" stroke-width="0.6" stroke-linecap="butt"/>
<text x="40.1" y="303.6" font-size="7.4" fill="#262626" stroke="#262626" stroke-width="0.14" text-anchor="end">10</text>
<line x1="43.4" y1="276.6" x2="45.2" y2="276.6" stroke="#262626" stroke-width="0.6" stroke-linecap="butt"/>
<text x="40.1" y="279.2" font-size="7.4" fill="#262626" stroke="#262626" stroke-width="0.14" text-anchor="end">15</text>
<line x1="43.4" y1="252.2" x2="45.2" y2="252.2" stroke="#262626" stroke-width="0.6" stroke-linecap="butt"/>
<text x="40.1" y="254.8" font-size="7.4" fill="#262626" stroke="#262626" stroke-width="0.14" text-anchor="end">20</text>
<line x1="43.4" y1="227.8" x2="45.2" y2="227.8" stroke="#262626" stroke-width="0.6" stroke-linecap="butt"/>
<text x="40.1" y="230.4" font-size="7.4" fill="#262626" stroke="#262626" stroke-width="0.14" text-anchor="end">25</text>
<line x1="43.4" y1="203.4" x2="45.2" y2="203.4" stroke="#262626" stroke-width="0.6" stroke-linecap="butt"/>
<text x="40.1" y="206.1" font-size="7.4" fill="#262626" stroke="#262626" stroke-width="0.14" text-anchor="end">30</text>
<line x1="224.6" y1="340.8" x2="222.8" y2="340.8" stroke="#333" stroke-width="0.6" stroke-linecap="butt"/>
<text x="227.8" y="343.5" font-size="7.4" fill="#4a4a4a" stroke="#4a4a4a" stroke-width="0.14">-200</text>
<line x1="224.6" y1="322.5" x2="222.8" y2="322.5" stroke="#333" stroke-width="0.6" stroke-linecap="butt"/>
<text x="227.8" y="325.2" font-size="7.4" fill="#4a4a4a" stroke="#4a4a4a" stroke-width="0.14">0</text>
<line x1="224.6" y1="304.2" x2="222.8" y2="304.2" stroke="#333" stroke-width="0.6" stroke-linecap="butt"/>
<text x="227.8" y="306.8" font-size="7.4" fill="#4a4a4a" stroke="#4a4a4a" stroke-width="0.14">200</text>
<line x1="224.6" y1="285.8" x2="222.8" y2="285.8" stroke="#333" stroke-width="0.6" stroke-linecap="butt"/>
<text x="227.8" y="288.5" font-size="7.4" fill="#4a4a4a" stroke="#4a4a4a" stroke-width="0.14">400</text>
<line x1="224.6" y1="267.5" x2="222.8" y2="267.5" stroke="#333" stroke-width="0.6" stroke-linecap="butt"/>
<text x="227.8" y="270.1" font-size="7.4" fill="#4a4a4a" stroke="#4a4a4a" stroke-width="0.14">600</text>
<line x1="224.6" y1="249.1" x2="222.8" y2="249.1" stroke="#333" stroke-width="0.6" stroke-linecap="butt"/>
<text x="227.8" y="251.8" font-size="7.4" fill="#4a4a4a" stroke="#4a4a4a" stroke-width="0.14">800</text>
<line x1="224.6" y1="230.8" x2="222.8" y2="230.8" stroke="#333" stroke-width="0.6" stroke-linecap="butt"/>
<text x="227.8" y="233.5" font-size="7.4" fill="#4a4a4a" stroke="#4a4a4a" stroke-width="0.14">1000</text>
<line x1="224.6" y1="212.5" x2="222.8" y2="212.5" stroke="#333" stroke-width="0.6" stroke-linecap="butt"/>
<text x="227.8" y="215.1" font-size="7.4" fill="#4a4a4a" stroke="#4a4a4a" stroke-width="0.14">1200</text>
<text x="134" y="367.6" font-size="8.5" fill="#262626" stroke="#262626" stroke-width="0.14" text-anchor="middle">Elapsed time, <tspan font-weight="bold" font-style="italic">t</tspan> (seconds)</text>
<text transform="translate(22.5,276.5) rotate(-90)" font-size="8.5" fill="#262626" stroke="#262626" stroke-width="0.14" text-anchor="middle">Travel distance to MTOC, <tspan font-weight="bold" font-style="italic">X</tspan> (µm)</text>
<text x="89.2" y="202.6" font-size="7.2" fill="#333" stroke="#333" stroke-width="0.14" text-anchor="middle">T1</text>
<text x="140.8" y="202.6" font-size="7.2" fill="#333" stroke="#333" stroke-width="0.14" text-anchor="middle">T2</text>
<text x="166.5" y="202.6" font-size="7.2" fill="#333" stroke="#333" stroke-width="0.14" text-anchor="middle">T3</text>
<line x1="168.7" y1="245.1" x2="178.3" y2="245.1" stroke="#e98fcc" stroke-width="1.3" stroke-linecap="butt"/>
<text x="180.8" y="247.8" font-size="7.4" fill="#262626" stroke="#262626" stroke-width="0.14">Pause</text>
<line x1="168.7" y1="254.6" x2="178.3" y2="254.6" stroke="#28c81e" stroke-width="1.3" stroke-linecap="butt"/>
<text x="180.8" y="257.3" font-size="7.4" fill="#262626" stroke="#262626" stroke-width="0.14">Transport (+)</text>
<line x1="168.7" y1="263.8" x2="178.3" y2="263.8" stroke="#3aa0f0" stroke-width="1.3" stroke-linecap="butt"/>
<text x="180.8" y="266.5" font-size="7.4" fill="#262626" stroke="#262626" stroke-width="0.14">Transport (–)</text>
<rect x="246.4" y="211" width="2" height="3.2" fill="#dcdcdc" stroke="#1a1a1a" stroke-width="0.6"/>
<rect x="246.4" y="214.2" width="1" height="3.8" fill="#dcdcdc" stroke="#1a1a1a" stroke-width="0.6"/>
<rect x="246.4" y="218" width="0.8" height="3.5" fill="#dcdcdc" stroke="#1a1a1a" stroke-width="0.6"/>
<rect x="246.4" y="221.5" width="2" height="3.7" fill="#dcdcdc" stroke="#1a1a1a" stroke-width="0.6"/>
<rect x="246.4" y="225.2" width="4.2" height="4.3" fill="#dcdcdc" stroke="#1a1a1a" stroke-width="0.6"/>
<rect x="246.4" y="229.5" width="3.9" height="3.2" fill="#dcdcdc" stroke="#1a1a1a" stroke-width="0.6"/>
<rect x="246.4" y="232.7" width="3.9" height="3.6" fill="#dcdcdc" stroke="#1a1a1a" stroke-width="0.6"/>
<rect x="246.4" y="236.3" width="2.6" height="3.7" fill="#dcdcdc" stroke="#1a1a1a" stroke-width="0.6"/>
<rect x="246.4" y="240" width="3.2" height="3.3" fill="#dcdcdc" stroke="#1a1a1a" stroke-width="0.6"/>
<rect x="246.4" y="243.3" width="2" height="3.7" fill="#dcdcdc" stroke="#1a1a1a" stroke-width="0.6"/>
<rect x="246.4" y="247" width="4.2" height="4" fill="#dcdcdc" stroke="#1a1a1a" stroke-width="0.6"/>
<rect x="246.4" y="251" width="5.3" height="3.7" fill="#dcdcdc" stroke="#1a1a1a" stroke-width="0.6"/>
<rect x="246.4" y="254.7" width="3.7" height="3.7" fill="#dcdcdc" stroke="#1a1a1a" stroke-width="0.6"/>
<rect x="246.4" y="258.4" width="3.7" height="3.6" fill="#dcdcdc" stroke="#1a1a1a" stroke-width="0.6"/>
<rect x="246.4" y="262" width="7.2" height="3.8" fill="#dcdcdc" stroke="#1a1a1a" stroke-width="0.6"/>
<rect x="246.4" y="265.8" width="8.4" height="4.2" fill="#dcdcdc" stroke="#1a1a1a" stroke-width="0.6"/>
<rect x="246.4" y="270" width="9.5" height="3.5" fill="#dcdcdc" stroke="#1a1a1a" stroke-width="0.6"/>
<rect x="246.4" y="273.7" width="6.3" height="2.8" fill="#dcdcdc" stroke="#1a1a1a" stroke-width="0.6"/>
<rect x="246.4" y="276.8" width="13.2" height="3.7" fill="#dcdcdc" stroke="#1a1a1a" stroke-width="0.6"/>
<rect x="246.4" y="280.5" width="9.5" height="3.9" fill="#dcdcdc" stroke="#1a1a1a" stroke-width="0.6"/>
<rect x="246.4" y="284.6" width="7.4" height="3.8" fill="#dcdcdc" stroke="#1a1a1a" stroke-width="0.6"/>
<rect x="246.4" y="288.4" width="6.8" height="3.4" fill="#dcdcdc" stroke="#1a1a1a" stroke-width="0.6"/>
<rect x="246.4" y="291.8" width="5.8" height="3.5" fill="#dcdcdc" stroke="#1a1a1a" stroke-width="0.6"/>
<rect x="246.4" y="295.3" width="5.3" height="3.6" fill="#dcdcdc" stroke="#1a1a1a" stroke-width="0.6"/>
<rect x="246.4" y="298.9" width="6.1" height="3.5" fill="#dcdcdc" stroke="#1a1a1a" stroke-width="0.6"/>
<rect x="246.4" y="302.4" width="8.4" height="3.9" fill="#dcdcdc" stroke="#1a1a1a" stroke-width="0.6"/>
<rect x="246.4" y="306.3" width="12.4" height="3.4" fill="#dcdcdc" stroke="#1a1a1a" stroke-width="0.6"/>
<rect x="246.4" y="309.7" width="13.2" height="3.5" fill="#dcdcdc" stroke="#1a1a1a" stroke-width="0.6"/>
<rect x="246.4" y="313.2" width="18.4" height="3.6" fill="#dcdcdc" stroke="#1a1a1a" stroke-width="0.6"/>
<rect x="246.4" y="316.8" width="20" height="3.7" fill="#dcdcdc" stroke="#1a1a1a" stroke-width="0.6"/>
<rect x="246.4" y="320.5" width="28.2" height="4.1" fill="#dcdcdc" stroke="#1a1a1a" stroke-width="0.6"/>
<rect x="246.4" y="324.6" width="24.2" height="3.8" fill="#dcdcdc" stroke="#1a1a1a" stroke-width="0.6"/>
<rect x="246.4" y="328.4" width="25" height="3.7" fill="#dcdcdc" stroke="#1a1a1a" stroke-width="0.6"/>
<rect x="246.4" y="332.1" width="13.2" height="3.7" fill="#dcdcdc" stroke="#1a1a1a" stroke-width="0.6"/>
<rect x="246.4" y="335.8" width="8.9" height="3.3" fill="#dcdcdc" stroke="#1a1a1a" stroke-width="0.6"/>
<rect x="246.4" y="339.1" width="7.9" height="3.5" fill="#dcdcdc" stroke="#1a1a1a" stroke-width="0.6"/>
<rect x="246.4" y="342.6" width="1.6" height="3.2" fill="#dcdcdc" stroke="#1a1a1a" stroke-width="0.6"/>
<rect x="246.4" y="345.8" width="3.7" height="3" fill="#dcdcdc" stroke="#1a1a1a" stroke-width="0.6"/>
<rect x="246.4" y="203.5" width="31.1" height="145.5" fill="none" stroke="#333" stroke-width="0.8"/>
<line x1="252.6" y1="349" x2="252.6" y2="347.4" stroke="#333" stroke-width="0.6" stroke-linecap="butt"/>
<line x1="252.6" y1="203.5" x2="252.6" y2="205.1" stroke="#333" stroke-width="0.6" stroke-linecap="butt"/>
<line x1="258.8" y1="349" x2="258.8" y2="347.4" stroke="#333" stroke-width="0.6" stroke-linecap="butt"/>
<line x1="258.8" y1="203.5" x2="258.8" y2="205.1" stroke="#333" stroke-width="0.6" stroke-linecap="butt"/>
<line x1="265.1" y1="349" x2="265.1" y2="347.4" stroke="#333" stroke-width="0.6" stroke-linecap="butt"/>
<line x1="265.1" y1="203.5" x2="265.1" y2="205.1" stroke="#333" stroke-width="0.6" stroke-linecap="butt"/>
<line x1="271.3" y1="349" x2="271.3" y2="347.4" stroke="#333" stroke-width="0.6" stroke-linecap="butt"/>
<line x1="271.3" y1="203.5" x2="271.3" y2="205.1" stroke="#333" stroke-width="0.6" stroke-linecap="butt"/>
<line x1="277.5" y1="340.8" x2="275.9" y2="340.8" stroke="#333" stroke-width="0.6" stroke-linecap="butt"/>
<line x1="277.5" y1="322.5" x2="275.9" y2="322.5" stroke="#333" stroke-width="0.6" stroke-linecap="butt"/>
<line x1="277.5" y1="304.2" x2="275.9" y2="304.2" stroke="#333" stroke-width="0.6" stroke-linecap="butt"/>
<line x1="277.5" y1="285.8" x2="275.9" y2="285.8" stroke="#333" stroke-width="0.6" stroke-linecap="butt"/>
<line x1="277.5" y1="267.5" x2="275.9" y2="267.5" stroke="#333" stroke-width="0.6" stroke-linecap="butt"/>
<line x1="277.5" y1="249.1" x2="275.9" y2="249.1" stroke="#333" stroke-width="0.6" stroke-linecap="butt"/>
<line x1="277.5" y1="230.8" x2="275.9" y2="230.8" stroke="#333" stroke-width="0.6" stroke-linecap="butt"/>
<line x1="277.5" y1="212.5" x2="275.9" y2="212.5" stroke="#333" stroke-width="0.6" stroke-linecap="butt"/>
<text x="246.4" y="359.1" font-size="7.4" fill="#262626" stroke="#262626" stroke-width="0.14" text-anchor="middle">0</text>
<text x="275.4" y="359.1" font-size="7.4" fill="#262626" stroke="#262626" stroke-width="0.14" text-anchor="middle">2.5</text>
<text x="262" y="369.1" font-size="8.5" fill="#262626" stroke="#262626" stroke-width="0.14" text-anchor="middle">Probability</text>
<text x="262" y="378.7" font-size="8.5" fill="#262626" stroke="#262626" stroke-width="0.14" text-anchor="middle">density</text>
<text x="279" y="348.3" font-size="3.6" fill="#555" stroke="#555" stroke-width="0.1">×10<tspan font-size="3" dy="-1.5">-3</tspan></text>
<text transform="translate(286.2,276.4) rotate(90)" font-size="8.5" fill="#666" stroke="#666" stroke-width="0.14" text-anchor="middle">Instantaneous velocity (nm/s)</text>
<rect x="309.5" y="203.4" width="55" height="43.1" fill="#f5eee7" stroke="none" stroke-width="0.8"/>
<polyline points="310,246.4 312.6,242.2 315.8,234.8 318.9,228.5" fill="none" stroke="#22c41a" stroke-width="1.5" stroke-linejoin="round" stroke-linecap="round"/>
<polyline points="319.5,228.5 321,229" fill="none" stroke="#22c41a" stroke-width="1.5" stroke-linejoin="round" stroke-linecap="round"/>
<polyline points="319.5,228.3 322.1,228 325.2,227.7 327.3,228 329.4,227.4 331.5,227.7 333.6,227 336.8,226.8 340,226.9" fill="none" stroke="#e98fcc" stroke-width="1.5" stroke-linejoin="round" stroke-linecap="round"/>
<polyline points="340,226.6 343.1,224.8 346.3,222.4 348.4,221.8 350.5,217.6 353.6,215 356.8,212.7 358.9,208.3 361,206.4 364.1,203.8" fill="none" stroke="#22c41a" stroke-width="1.5" stroke-linejoin="round" stroke-linecap="round"/>
<rect x="309.5" y="203.4" width="55" height="43.1" fill="none" stroke="#333" stroke-width="0.8"/>
<line x1="309.5" y1="246.5" x2="309.5" y2="245.3" stroke="#333" stroke-width="0.5" stroke-linecap="butt"/>
<line x1="309.5" y1="203.4" x2="309.5" y2="204.6" stroke="#333" stroke-width="0.5" stroke-linecap="butt"/>
<text x="309.5" y="251.8" font-size="4.6" fill="#444" stroke="#444" stroke-width="0.1" text-anchor="middle">28</text>
<line x1="320.5" y1="246.5" x2="320.5" y2="245.3" stroke="#333" stroke-width="0.5" stroke-linecap="butt"/>
<line x1="320.5" y1="203.4" x2="320.5" y2="204.6" stroke="#333" stroke-width="0.5" stroke-linecap="butt"/>
<text x="320.5" y="251.8" font-size="4.6" fill="#444" stroke="#444" stroke-width="0.1" text-anchor="middle">29</text>
<line x1="331.5" y1="246.5" x2="331.5" y2="245.3" stroke="#333" stroke-width="0.5" stroke-linecap="butt"/>
<line x1="331.5" y1="203.4" x2="331.5" y2="204.6" stroke="#333" stroke-width="0.5" stroke-linecap="butt"/>
<text x="331.5" y="251.8" font-size="4.6" fill="#444" stroke="#444" stroke-width="0.1" text-anchor="middle">30</text>
<line x1="342.5" y1="246.5" x2="342.5" y2="245.3" stroke="#333" stroke-width="0.5" stroke-linecap="butt"/>
<line x1="342.5" y1="203.4" x2="342.5" y2="204.6" stroke="#333" stroke-width="0.5" stroke-linecap="butt"/>
<text x="342.5" y="251.8" font-size="4.6" fill="#444" stroke="#444" stroke-width="0.1" text-anchor="middle">31</text>
<line x1="353.5" y1="246.5" x2="353.5" y2="245.3" stroke="#333" stroke-width="0.5" stroke-linecap="butt"/>
<line x1="353.5" y1="203.4" x2="353.5" y2="204.6" stroke="#333" stroke-width="0.5" stroke-linecap="butt"/>
<text x="353.5" y="251.8" font-size="4.6" fill="#444" stroke="#444" stroke-width="0.1" text-anchor="middle">32</text>
<line x1="364.5" y1="246.5" x2="364.5" y2="245.3" stroke="#333" stroke-width="0.5" stroke-linecap="butt"/>
<line x1="364.5" y1="203.4" x2="364.5" y2="204.6" stroke="#333" stroke-width="0.5" stroke-linecap="butt"/>
<text x="364.5" y="251.8" font-size="4.6" fill="#444" stroke="#444" stroke-width="0.1" text-anchor="middle">33</text>
<line x1="309.5" y1="240" x2="310.7" y2="240" stroke="#333" stroke-width="0.5" stroke-linecap="butt"/>
<line x1="364.5" y1="240" x2="363.3" y2="240" stroke="#333" stroke-width="0.5" stroke-linecap="butt"/>
<text x="365.7" y="241.7" font-size="4.6" fill="#444" stroke="#444" stroke-width="0.1">15</text>
<line x1="309.5" y1="230" x2="310.7" y2="230" stroke="#333" stroke-width="0.5" stroke-linecap="butt"/>
<line x1="364.5" y1="230" x2="363.3" y2="230" stroke="#333" stroke-width="0.5" stroke-linecap="butt"/>
<text x="365.7" y="231.7" font-size="4.6" fill="#444" stroke="#444" stroke-width="0.1">15.5</text>
<line x1="309.5" y1="220.3" x2="310.7" y2="220.3" stroke="#333" stroke-width="0.5" stroke-linecap="butt"/>
<line x1="364.5" y1="220.3" x2="363.3" y2="220.3" stroke="#333" stroke-width="0.5" stroke-linecap="butt"/>
<text x="365.7" y="222" font-size="4.6" fill="#444" stroke="#444" stroke-width="0.1">16</text>
<line x1="309.5" y1="210.6" x2="310.7" y2="210.6" stroke="#333" stroke-width="0.5" stroke-linecap="butt"/>
<line x1="364.5" y1="210.6" x2="363.3" y2="210.6" stroke="#333" stroke-width="0.5" stroke-linecap="butt"/>
<text x="365.7" y="212.3" font-size="4.6" fill="#444" stroke="#444" stroke-width="0.1">16.5</text>
<text x="312" y="212.8" font-size="8.5" fill="#555" stroke="#555" stroke-width="0.14">T1</text>
<rect x="309.5" y="255.3" width="55" height="43.1" fill="#f5eee7" stroke="none" stroke-width="0.8"/>
<polyline points="310,298.4 313.1,294.7 315.8,291.5 317.4,292.1 321,289.4 324.7,285.2" fill="none" stroke="#22c41a" stroke-width="1.5" stroke-linejoin="round" stroke-linecap="round"/>
<polyline points="324.7,285.2 326.3,284.5" fill="none" stroke="#e98fcc" stroke-width="1.5" stroke-linejoin="round" stroke-linecap="round"/>
<polyline points="326.8,284.3 330.5,281 333.6,279.4 335.2,277.9 336.8,273.7 340.5,270.5" fill="none" stroke="#22c41a" stroke-width="1.5" stroke-linejoin="round" stroke-linecap="round"/>
<polyline points="340.5,270.2 344,269.1" fill="none" stroke="#e98fcc" stroke-width="1.5" stroke-linejoin="round" stroke-linecap="round"/>
<polyline points="344,269.1 349.4,265.8 353.6,263.7 357.3,260 359.4,259.5 364.1,255.3" fill="none" stroke="#22c41a" stroke-width="1.5" stroke-linejoin="round" stroke-linecap="round"/>
<rect x="309.5" y="255.3" width="55" height="43.1" fill="none" stroke="#333" stroke-width="0.8"/>
<line x1="309.5" y1="298.4" x2="309.5" y2="297.2" stroke="#333" stroke-width="0.5" stroke-linecap="butt"/>
<line x1="309.5" y1="255.3" x2="309.5" y2="256.5" stroke="#333" stroke-width="0.5" stroke-linecap="butt"/>
<text x="309.5" y="303.7" font-size="4.6" fill="#444" stroke="#444" stroke-width="0.1" text-anchor="middle">62</text>
<line x1="320.5" y1="298.4" x2="320.5" y2="297.2" stroke="#333" stroke-width="0.5" stroke-linecap="butt"/>
<line x1="320.5" y1="255.3" x2="320.5" y2="256.5" stroke="#333" stroke-width="0.5" stroke-linecap="butt"/>
<text x="320.5" y="303.7" font-size="4.6" fill="#444" stroke="#444" stroke-width="0.1" text-anchor="middle">63</text>
<line x1="331.5" y1="298.4" x2="331.5" y2="297.2" stroke="#333" stroke-width="0.5" stroke-linecap="butt"/>
<line x1="331.5" y1="255.3" x2="331.5" y2="256.5" stroke="#333" stroke-width="0.5" stroke-linecap="butt"/>
<text x="331.5" y="303.7" font-size="4.6" fill="#444" stroke="#444" stroke-width="0.1" text-anchor="middle">64</text>
<line x1="342.5" y1="298.4" x2="342.5" y2="297.2" stroke="#333" stroke-width="0.5" stroke-linecap="butt"/>
<line x1="342.5" y1="255.3" x2="342.5" y2="256.5" stroke="#333" stroke-width="0.5" stroke-linecap="butt"/>
<text x="342.5" y="303.7" font-size="4.6" fill="#444" stroke="#444" stroke-width="0.1" text-anchor="middle">65</text>
<line x1="353.5" y1="298.4" x2="353.5" y2="297.2" stroke="#333" stroke-width="0.5" stroke-linecap="butt"/>
<line x1="353.5" y1="255.3" x2="353.5" y2="256.5" stroke="#333" stroke-width="0.5" stroke-linecap="butt"/>
<text x="353.5" y="303.7" font-size="4.6" fill="#444" stroke="#444" stroke-width="0.1" text-anchor="middle">66</text>
<line x1="364.5" y1="298.4" x2="364.5" y2="297.2" stroke="#333" stroke-width="0.5" stroke-linecap="butt"/>
<line x1="364.5" y1="255.3" x2="364.5" y2="256.5" stroke="#333" stroke-width="0.5" stroke-linecap="butt"/>
<text x="364.5" y="303.7" font-size="4.6" fill="#444" stroke="#444" stroke-width="0.1" text-anchor="middle">67</text>
<line x1="309.5" y1="295.6" x2="310.7" y2="295.6" stroke="#333" stroke-width="0.5" stroke-linecap="butt"/>
<line x1="364.5" y1="295.6" x2="363.3" y2="295.6" stroke="#333" stroke-width="0.5" stroke-linecap="butt"/>
<text x="365.7" y="297.3" font-size="4.6" fill="#444" stroke="#444" stroke-width="0.1">18.5</text>
<line x1="309.5" y1="288" x2="310.7" y2="288" stroke="#333" stroke-width="0.5" stroke-linecap="butt"/>
<line x1="364.5" y1="288" x2="363.3" y2="288" stroke="#333" stroke-width="0.5" stroke-linecap="butt"/>
<text x="365.7" y="289.7" font-size="4.6" fill="#444" stroke="#444" stroke-width="0.1">19</text>
<line x1="309.5" y1="280.5" x2="310.7" y2="280.5" stroke="#333" stroke-width="0.5" stroke-linecap="butt"/>
<line x1="364.5" y1="280.5" x2="363.3" y2="280.5" stroke="#333" stroke-width="0.5" stroke-linecap="butt"/>
<text x="365.7" y="282.2" font-size="4.6" fill="#444" stroke="#444" stroke-width="0.1">19.5</text>
<line x1="309.5" y1="272.6" x2="310.7" y2="272.6" stroke="#333" stroke-width="0.5" stroke-linecap="butt"/>
<line x1="364.5" y1="272.6" x2="363.3" y2="272.6" stroke="#333" stroke-width="0.5" stroke-linecap="butt"/>
<text x="365.7" y="274.3" font-size="4.6" fill="#444" stroke="#444" stroke-width="0.1">20</text>
<line x1="309.5" y1="264.7" x2="310.7" y2="264.7" stroke="#333" stroke-width="0.5" stroke-linecap="butt"/>
<line x1="364.5" y1="264.7" x2="363.3" y2="264.7" stroke="#333" stroke-width="0.5" stroke-linecap="butt"/>
<text x="365.7" y="266.4" font-size="4.6" fill="#444" stroke="#444" stroke-width="0.1">20.5</text>
<line x1="309.5" y1="256.8" x2="310.7" y2="256.8" stroke="#333" stroke-width="0.5" stroke-linecap="butt"/>
<line x1="364.5" y1="256.8" x2="363.3" y2="256.8" stroke="#333" stroke-width="0.5" stroke-linecap="butt"/>
<text x="365.7" y="258.5" font-size="4.6" fill="#444" stroke="#444" stroke-width="0.1">21</text>
<text x="312" y="264.7" font-size="8.5" fill="#555" stroke="#555" stroke-width="0.14">T2</text>
<rect x="309.5" y="306.6" width="55" height="43.1" fill="#f5eee7" stroke="none" stroke-width="0.8"/>
<polyline points="310.3,349.1 315.1,344.9" fill="none" stroke="#22c41a" stroke-width="1.5" stroke-linejoin="round" stroke-linecap="round"/>
<polyline points="315.7,344.9 316.2,344.9 316.6,345.1 317,345.2 317.4,345.1 317.8,345.1 318.2,345.1 318.7,345.3 319.1,345 319.5,345.3 319.9,345.1 320.3,345.6 320.8,345.8 321.2,345.8 321.6,346.2 322,346.1 322.4,347.1 322.9,346.6 323.3,346.6 323.7,346.5 324.1,347.5" fill="none" stroke="#e98fcc" stroke-width="1.5" stroke-linejoin="round" stroke-linecap="round"/>
<polyline points="324.1,346.7 325.3,331.1 325.9,322.7 327.1,318.6" fill="none" stroke="#22c41a" stroke-width="1.5" stroke-linejoin="round" stroke-linecap="round"/>
<polyline points="327.1,318.6 328.3,320.9 329.5,325.1" fill="none" stroke="#3aa0f0" stroke-width="1.5" stroke-linejoin="round" stroke-linecap="round"/>
<polyline points="330.1,325.7 330.5,326.1 331,326.7 331.4,327.2 331.9,327.5 332.4,328 332.9,328 333.3,328.7 333.8,329.3 334.3,330.1 334.7,330 335.2,329.5 335.6,329.3 336.1,329 336.5,328.7 337,328.2 337.4,327.6 337.9,327.1" fill="none" stroke="#e98fcc" stroke-width="1.5" stroke-linejoin="round" stroke-linecap="round"/>
<polyline points="337.9,328.1 338.8,332.3 339.7,335.9" fill="none" stroke="#3aa0f0" stroke-width="1.5" stroke-linejoin="round" stroke-linecap="round"/>
<polyline points="339.7,335.9 340.1,335.9 340.5,335.7 340.9,335.6 341.4,335.3 341.8,335.3 342.2,335.3 342.6,335.4 343,335 343.4,335 343.9,335 344.3,335 344.8,334.7 345.2,334.3 345.7,334.1 346.1,333.6 346.6,333.8 347,333.9 347.5,334.7 347.9,334.8 348.4,334.6 348.8,334 349.3,334.1 349.7,333.7 350.2,333.9 350.6,333.8 351,334.1" fill="none" stroke="#e98fcc" stroke-width="1.5" stroke-linejoin="round" stroke-linecap="round"/>
<polyline points="351,334.7 354.6,322.7 357,313.8" fill="none" stroke="#22c41a" stroke-width="1.5" stroke-linejoin="round" stroke-linecap="round"/>
<polyline points="357.6,313.8 358.1,313.4 358.6,312.8 359.1,312.6 359.5,311.6 360,311.3 360.5,311 360.9,312.1 361.4,311.7 361.8,312.1 362.3,310.3 362.8,309.6 363.3,308.2 363.9,309.8 364.5,310.8" fill="none" stroke="#e98fcc" stroke-width="1.5" stroke-linejoin="round" stroke-linecap="round"/>
<rect x="309.5" y="306.6" width="55" height="43.1" fill="none" stroke="#333" stroke-width="0.8"/>
<line x1="309.5" y1="349.7" x2="309.5" y2="348.5" stroke="#333" stroke-width="0.5" stroke-linecap="butt"/>
<line x1="309.5" y1="306.6" x2="309.5" y2="307.8" stroke="#333" stroke-width="0.5" stroke-linecap="butt"/>
<text x="309.5" y="355" font-size="4.6" fill="#444" stroke="#444" stroke-width="0.1" text-anchor="middle">79</text>
<line x1="320.5" y1="349.7" x2="320.5" y2="348.5" stroke="#333" stroke-width="0.5" stroke-linecap="butt"/>
<line x1="320.5" y1="306.6" x2="320.5" y2="307.8" stroke="#333" stroke-width="0.5" stroke-linecap="butt"/>
<text x="320.5" y="355" font-size="4.6" fill="#444" stroke="#444" stroke-width="0.1" text-anchor="middle">80</text>
<line x1="331.5" y1="349.7" x2="331.5" y2="348.5" stroke="#333" stroke-width="0.5" stroke-linecap="butt"/>
<line x1="331.5" y1="306.6" x2="331.5" y2="307.8" stroke="#333" stroke-width="0.5" stroke-linecap="butt"/>
<text x="331.5" y="355" font-size="4.6" fill="#444" stroke="#444" stroke-width="0.1" text-anchor="middle">81</text>
<line x1="342.5" y1="349.7" x2="342.5" y2="348.5" stroke="#333" stroke-width="0.5" stroke-linecap="butt"/>
<line x1="342.5" y1="306.6" x2="342.5" y2="307.8" stroke="#333" stroke-width="0.5" stroke-linecap="butt"/>
<text x="342.5" y="355" font-size="4.6" fill="#444" stroke="#444" stroke-width="0.1" text-anchor="middle">82</text>
<line x1="353.5" y1="349.7" x2="353.5" y2="348.5" stroke="#333" stroke-width="0.5" stroke-linecap="butt"/>
<line x1="353.5" y1="306.6" x2="353.5" y2="307.8" stroke="#333" stroke-width="0.5" stroke-linecap="butt"/>
<text x="353.5" y="355" font-size="4.6" fill="#444" stroke="#444" stroke-width="0.1" text-anchor="middle">83</text>
<line x1="364.5" y1="349.7" x2="364.5" y2="348.5" stroke="#333" stroke-width="0.5" stroke-linecap="butt"/>
<line x1="364.5" y1="306.6" x2="364.5" y2="307.8" stroke="#333" stroke-width="0.5" stroke-linecap="butt"/>
<text x="364.5" y="355" font-size="4.6" fill="#444" stroke="#444" stroke-width="0.1" text-anchor="middle">84</text>
<line x1="309.5" y1="344" x2="310.7" y2="344" stroke="#333" stroke-width="0.5" stroke-linecap="butt"/>
<line x1="364.5" y1="344" x2="363.3" y2="344" stroke="#333" stroke-width="0.5" stroke-linecap="butt"/>
<text x="365.7" y="345.7" font-size="4.6" fill="#444" stroke="#444" stroke-width="0.1">25.2</text>
<line x1="309.5" y1="336.7" x2="310.7" y2="336.7" stroke="#333" stroke-width="0.5" stroke-linecap="butt"/>
<line x1="364.5" y1="336.7" x2="363.3" y2="336.7" stroke="#333" stroke-width="0.5" stroke-linecap="butt"/>
<text x="365.7" y="338.4" font-size="4.6" fill="#444" stroke="#444" stroke-width="0.1">25.4</text>
<line x1="309.5" y1="329" x2="310.7" y2="329" stroke="#333" stroke-width="0.5" stroke-linecap="butt"/>
<line x1="364.5" y1="329" x2="363.3" y2="329" stroke="#333" stroke-width="0.5" stroke-linecap="butt"/>
<text x="365.7" y="330.7" font-size="4.6" fill="#444" stroke="#444" stroke-width="0.1">25.6</text>
<line x1="309.5" y1="321.5" x2="310.7" y2="321.5" stroke="#333" stroke-width="0.5" stroke-linecap="butt"/>
<line x1="364.5" y1="321.5" x2="363.3" y2="321.5" stroke="#333" stroke-width="0.5" stroke-linecap="butt"/>
<text x="365.7" y="323.2" font-size="4.6" fill="#444" stroke="#444" stroke-width="0.1">25.8</text>
<line x1="309.5" y1="313.8" x2="310.7" y2="313.8" stroke="#333" stroke-width="0.5" stroke-linecap="butt"/>
<line x1="364.5" y1="313.8" x2="363.3" y2="313.8" stroke="#333" stroke-width="0.5" stroke-linecap="butt"/>
<text x="365.7" y="315.5" font-size="4.6" fill="#444" stroke="#444" stroke-width="0.1">26</text>
<text x="312" y="316" font-size="8.5" fill="#555" stroke="#555" stroke-width="0.14">T3</text>
<line x1="300.5" y1="347.5" x2="300.5" y2="364" stroke="#444" stroke-width="0.7" stroke-linecap="butt"/>
<line x1="300.5" y1="364" x2="316.5" y2="364" stroke="#444" stroke-width="0.7" stroke-linecap="butt"/>
<polyline points="298.8,350 300.5,346.5 302.2,350" fill="none" stroke="#444" stroke-width="0.7" stroke-linejoin="round" stroke-linecap="butt"/>
<polyline points="314,362.3 317.5,364 314,365.7" fill="none" stroke="#444" stroke-width="0.7" stroke-linejoin="round" stroke-linecap="butt"/>
<text x="300.4" y="343.8" font-size="9" fill="#222" text-anchor="middle" font-weight="bold" font-style="italic">X</text>
<text x="320.6" y="366.6" font-size="9" fill="#222" text-anchor="middle" font-weight="bold" font-style="italic">t</text>
<text x="408.2" y="201.9" font-size="14" fill="#000" font-weight="bold">D</text>
<rect x="459.4" y="351.4" width="1.3" height="0" fill="#d6d6d6" stroke="none" stroke-width="0.8"/>
<rect x="460.6" y="351.2" width="3" height="0.2" fill="#d6d6d6" stroke="none" stroke-width="0.8"/>
<rect x="463.6" y="351" width="3" height="0.4" fill="#d6d6d6" stroke="none" stroke-width="0.8"/>
<rect x="466.5" y="350.8" width="3" height="0.6" fill="#d6d6d6" stroke="none" stroke-width="0.8"/>
<rect x="469.4" y="350.5" width="3" height="0.9" fill="#d6d6d6" stroke="none" stroke-width="0.8"/>
<rect x="472.4" y="349.6" width="3" height="1.8" fill="#d6d6d6" stroke="none" stroke-width="0.8"/>
<rect x="475.3" y="347.7" width="3" height="3.7" fill="#d6d6d6" stroke="none" stroke-width="0.8"/>
<rect x="478.2" y="342.7" width="3" height="8.7" fill="#d6d6d6" stroke="none" stroke-width="0.8"/>
<rect x="481.2" y="335.1" width="3" height="16.3" fill="#d6d6d6" stroke="none" stroke-width="0.8"/>
<rect x="484.1" y="338.7" width="3" height="12.7" fill="#d6d6d6" stroke="none" stroke-width="0.8"/>
<rect x="487" y="316.4" width="3" height="35" fill="#d6d6d6" stroke="none" stroke-width="0.8"/>
<rect x="489.9" y="243.8" width="3" height="107.6" fill="#d6d6d6" stroke="none" stroke-width="0.8"/>
<rect x="492.9" y="222" width="3" height="129.4" fill="#d6d6d6" stroke="none" stroke-width="0.8"/>
<rect x="495.8" y="273.6" width="3" height="77.8" fill="#d6d6d6" stroke="none" stroke-width="0.8"/>
<rect x="498.7" y="321.4" width="3" height="30" fill="#d6d6d6" stroke="none" stroke-width="0.8"/>
<rect x="501.7" y="337" width="3" height="14.4" fill="#d6d6d6" stroke="none" stroke-width="0.8"/>
<rect x="504.6" y="348" width="3" height="3.4" fill="#d6d6d6" stroke="none" stroke-width="0.8"/>
<rect x="507.5" y="344.7" width="3" height="6.7" fill="#d6d6d6" stroke="none" stroke-width="0.8"/>
<rect x="510.5" y="347.1" width="3" height="4.3" fill="#d6d6d6" stroke="none" stroke-width="0.8"/>
<rect x="513.4" y="347.1" width="3" height="4.3" fill="#d6d6d6" stroke="none" stroke-width="0.8"/>
<rect x="516.3" y="346.8" width="3" height="4.6" fill="#d6d6d6" stroke="none" stroke-width="0.8"/>
<rect x="519.3" y="345.8" width="3" height="5.6" fill="#d6d6d6" stroke="none" stroke-width="0.8"/>
<rect x="522.2" y="345.4" width="3" height="6" fill="#d6d6d6" stroke="none" stroke-width="0.8"/>
<rect x="525.1" y="345.6" width="3" height="5.8" fill="#d6d6d6" stroke="none" stroke-width="0.8"/>
<rect x="528.1" y="344.3" width="3" height="7.1" fill="#d6d6d6" stroke="none" stroke-width="0.8"/>
<rect x="531" y="344" width="3" height="7.4" fill="#d6d6d6" stroke="none" stroke-width="0.8"/>
<rect x="533.9" y="344.1" width="3" height="7.3" fill="#d6d6d6" stroke="none" stroke-width="0.8"/>
<rect x="536.9" y="343.3" width="3" height="8.1" fill="#d6d6d6" stroke="none" stroke-width="0.8"/>
<rect x="539.8" y="343.8" width="3" height="7.6" fill="#d6d6d6" stroke="none" stroke-width="0.8"/>
<rect x="542.7" y="344" width="3" height="7.4" fill="#d6d6d6" stroke="none" stroke-width="0.8"/>
<rect x="545.7" y="343.3" width="3" height="8.1" fill="#d6d6d6" stroke="none" stroke-width="0.8"/>
<rect x="548.6" y="343.7" width="3" height="7.7" fill="#d6d6d6" stroke="none" stroke-width="0.8"/>
<rect x="551.5" y="343.6" width="3" height="7.8" fill="#d6d6d6" stroke="none" stroke-width="0.8"/>
<rect x="554.5" y="343.7" width="3" height="7.7" fill="#d6d6d6" stroke="none" stroke-width="0.8"/>
<rect x="557.4" y="344.8" width="3" height="6.6" fill="#d6d6d6" stroke="none" stroke-width="0.8"/>
<rect x="560.3" y="344.7" width="3" height="6.7" fill="#d6d6d6" stroke="none" stroke-width="0.8"/>
<rect x="563.3" y="345.3" width="3" height="6.1" fill="#d6d6d6" stroke="none" stroke-width="0.8"/>
<rect x="566.2" y="345.4" width="3" height="6" fill="#d6d6d6" stroke="none" stroke-width="0.8"/>
<rect x="569.1" y="346" width="3" height="5.4" fill="#d6d6d6" stroke="none" stroke-width="0.8"/>
<rect x="572.1" y="346.1" width="3" height="5.3" fill="#d6d6d6" stroke="none" stroke-width="0.8"/>
<rect x="575" y="346.5" width="3" height="4.9" fill="#d6d6d6" stroke="none" stroke-width="0.8"/>
<rect x="577.9" y="346.7" width="3" height="4.7" fill="#d6d6d6" stroke="none" stroke-width="0.8"/>
<rect x="580.9" y="347.2" width="3" height="4.2" fill="#d6d6d6" stroke="none" stroke-width="0.8"/>
<rect x="583.8" y="347.6" width="3" height="3.8" fill="#d6d6d6" stroke="none" stroke-width="0.8"/>
<rect x="586.7" y="347.4" width="3" height="4" fill="#d6d6d6" stroke="none" stroke-width="0.8"/>
<rect x="589.7" y="347.8" width="3" height="3.6" fill="#d6d6d6" stroke="none" stroke-width="0.8"/>
<rect x="592.6" y="348.2" width="3" height="3.2" fill="#d6d6d6" stroke="none" stroke-width="0.8"/>
<rect x="595.5" y="348.5" width="3" height="2.9" fill="#d6d6d6" stroke="none" stroke-width="0.8"/>
<rect x="598.5" y="348.9" width="3" height="2.5" fill="#d6d6d6" stroke="none" stroke-width="0.8"/>
<rect x="601.4" y="349.2" width="3" height="2.2" fill="#d6d6d6" stroke="none" stroke-width="0.8"/>
<rect x="604.3" y="349.5" width="3" height="1.9" fill="#d6d6d6" stroke="none" stroke-width="0.8"/>
<rect x="607.3" y="349.8" width="3" height="1.6" fill="#d6d6d6" stroke="none" stroke-width="0.8"/>
<rect x="610.2" y="349.8" width="3" height="1.6" fill="#d6d6d6" stroke="none" stroke-width="0.8"/>
<rect x="613.1" y="350.1" width="3" height="1.3" fill="#d6d6d6" stroke="none" stroke-width="0.8"/>
<rect x="616.1" y="350.2" width="3" height="1.2" fill="#d6d6d6" stroke="none" stroke-width="0.8"/>
<rect x="619" y="350.5" width="3" height="0.9" fill="#d6d6d6" stroke="none" stroke-width="0.8"/>
<rect x="621.9" y="350.5" width="3" height="0.9" fill="#d6d6d6" stroke="none" stroke-width="0.8"/>
<rect x="624.9" y="350.6" width="3" height="0.8" fill="#d6d6d6" stroke="none" stroke-width="0.8"/>
<rect x="627.8" y="350.7" width="3" height="0.7" fill="#d6d6d6" stroke="none" stroke-width="0.8"/>
<rect x="630.7" y="350.8" width="3" height="0.6" fill="#d6d6d6" stroke="none" stroke-width="0.8"/>
<rect x="633.7" y="350.8" width="3" height="0.6" fill="#d6d6d6" stroke="none" stroke-width="0.8"/>
<rect x="636.6" y="350.9" width="3" height="0.5" fill="#d6d6d6" stroke="none" stroke-width="0.8"/>
<rect x="639.5" y="350.9" width="3" height="0.5" fill="#d6d6d6" stroke="none" stroke-width="0.8"/>
<rect x="642.5" y="351" width="0.3" height="0.4" fill="#d6d6d6" stroke="none" stroke-width="0.8"/>
<polyline points="459.4,351.4 460.1,351.2 460.9,350.9 461.6,350.7 462.3,350.4 463.1,350.2 463.8,349.9 464.5,349.7 465.3,349.3 466,349 466.7,348.7 467.5,348.3 468.2,348 468.9,347.7 469.7,347.2 470.4,346.6 471.1,346 471.9,345.4 472.6,344.8 473.3,344 474.1,343.2 474.8,342.4 475.5,341.6 476.3,340.8 477,340 477.7,339.2 478.5,338.4 479.2,337.6 479.9,336.6 480.7,335.5 481.4,333.4 482.1,331 482.9,328.6 483.6,326.2 484.3,323.8 485.1,321.4 485.8,319 486.5,316.6 487.3,314.2 488,311.6 488.7,309 489.5,306.4 490.2,303.8 490.9,301.6 491.7,299.7 492.4,297.9 493.1,296.1 493.9,294.2 494.6,296 495.3,297.7 496.1,299.5 496.8,301.3 497.5,303.6 498.3,305.9 499,308.3 499.7,310.6 500.5,313.2 501.2,316.7 501.9,320.1 502.7,323.5 503.4,326.9 504.1,330.2 504.9,333.5 505.6,336.7 506.3,339.6 507.1,340.1 507.8,340.6 508.5,341.2 509.3,342.7 510,344.3 510.7,345.1 511.5,345.8 512.2,346.2 512.9,346.3 513.7,346.4 514.4,346.4 515.1,346.5 515.9,346.4 516.6,346.2 517.3,346.1 518.1,345.9 518.8,345.8 519.5,345.6 520.3,345.4 521,345.3 521.7,345.1 522.5,345 523.2,344.8 523.9,344.6 524.7,344.5 525.4,344.3 526.1,344.2 526.9,344 527.6,343.9 528.3,343.8 529.1,343.6 529.8,343.5 530.5,343.4 531.3,343.4 532,343.3 532.7,343.2 533.5,343.1 534.2,343 534.9,343 535.7,342.9 536.4,342.8 537.1,342.8 537.9,342.9 538.6,342.9 539.3,342.9 540.1,342.9 540.8,343 541.5,343 542.3,342.9 543,342.9 543.7,342.8 544.5,342.8 545.2,342.7 545.9,342.5 546.7,342.3 547.4,342.2 548.1,342 548.9,341.9 549.6,341.7 550.3,341.6 551,341.4 551.8,341.3 552.5,341.2 553.2,341 554,340.9 554.7,340.8 555.4,340.8 556.2,340.8 556.9,340.8 557.6,340.8 558.4,340.9 559.1,341.1 559.8,341.2 560.6,341.3 561.3,341.4 562,341.5 562.8,341.6 563.5,341.6 564.2,341.7 565,342 565.7,342.2 566.4,342.5 567.2,342.7 567.9,342.9 568.6,343.2 569.4,343.4 570.1,343.7 570.8,343.9 571.6,344.1 572.3,344.4 573,344.5 573.8,344.7 574.5,344.9 575.2,345 576,345.2 576.7,345.3 577.4,345.5 578.2,345.6 578.9,345.8 579.6,345.9 580.4,346 581.1,346.2 581.8,346.3 582.6,346.4 583.3,346.6 584,346.7 584.8,346.8 585.5,347 586.2,347.1 587,347.2 587.7,347.4 588.4,347.5 589.2,347.6 589.9,347.7 590.6,347.8 591.4,347.9 592.1,348 592.8,348 593.6,348 594.3,348.1 595,348.1 595.8,348.1 596.5,348.2 597.2,348.2 598,348.2 598.7,348.2 599.4,348.3 600.2,348.3 600.9,348.3 601.6,348.3 602.4,348.4 603.1,348.4 603.8,348.5 604.6,348.5 605.3,348.5 606,348.6 606.8,348.6 607.5,348.7 608.2,348.7 609,348.7 609.7,348.8 610.4,348.8 611.2,348.9 611.9,348.9 612.6,348.9 613.4,349 614.1,349 614.8,349.1 615.6,349.1 616.3,349.1 617,349.1 617.8,349.1 618.5,349.2 619.2,349.2 620,349.2 620.7,349.2 621.4,349.2 622.2,349.3 622.9,349.3 623.6,349.3 624.4,349.3 625.1,349.3 625.8,349.4 626.6,349.4 627.3,349.4 628,349.4 628.8,349.5 629.5,349.5 630.2,349.6 631,349.6 631.7,349.7 632.4,349.7 633.2,349.8 633.9,349.8 634.6,349.9 635.4,350 636.1,350 636.8,350.1 637.6,350.1 638.3,350.2 639,350.2 639.8,350.3 640.5,350.4 641.2,350.4 642,350.5 642.7,350.6" fill="none" stroke="#4f80b8" stroke-width="1.6" stroke-linejoin="round" stroke-linecap="round"/>
<polyline points="459.4,351.3 460.1,351.3 460.9,351.2 461.6,351.1 462.3,351.1 463.1,351 463.8,351 464.5,350.9 465.3,350.8 466,350.8 466.7,350.7 467.5,350.6 468.2,350.5 468.9,350.3 469.7,350.2 470.4,350.1 471.1,350 471.9,349.8 472.6,349.7 473.3,349.2 474.1,348.8 474.8,348.3 475.5,347.8 476.3,347.1 477,346.3 477.7,345.4 478.5,344.2 479.2,342.1 479.9,340.1 480.7,338.3 481.4,336.4 482.1,334.2 482.9,331.9 483.6,329.7 484.3,327.4 485.1,323.9 485.8,318 486.5,312.1 487.3,306.2 488,300.3 488.7,296 489.5,292.4 490.2,288.9 490.9,285.3 491.7,283.3 492.4,282 493.1,280.8 493.9,279.5 494.6,280.6 495.3,281.8 496.1,282.9 496.8,284 497.5,285.1 498.3,286.2 499,289.9 499.7,294.9 500.5,299.9 501.2,304.8 501.9,309.8 502.7,314.8 503.4,320.4 504.1,326 504.9,331.7 505.6,336.2 506.3,339.3 507.1,342.5 507.8,343.8 508.5,344.8 509.3,345.9 510,346.5 510.7,346.9 511.5,347.4 512.2,347.6 512.9,347.4 513.7,347.3 514.4,347.2 515.1,347 515.9,346.9 516.6,346.8 517.3,346.6 518.1,346.5 518.8,346.4 519.5,346.2 520.3,346.1 521,345.9 521.7,345.8 522.5,345.6 523.2,345.5 523.9,345.4 524.7,345.3 525.4,345.3 526.1,345.2 526.9,345.1 527.6,345 528.3,344.9 529.1,344.9 529.8,344.8 530.5,344.7 531.3,344.6 532,344.5 532.7,344.4 533.5,344.3 534.2,344.2 534.9,344.1 535.7,344 536.4,343.9 537.1,343.8 537.9,343.8 538.6,343.8 539.3,343.7 540.1,343.7 540.8,343.6 541.5,343.6 542.3,343.6 543,343.5 543.7,343.5 544.5,343.5 545.2,343.4 545.9,343.4 546.7,343.4 547.4,343.4 548.1,343.3 548.9,343.1 549.6,343 550.3,342.8 551,342.6 551.8,342.6 552.5,342.5 553.2,342.5 554,342.5 554.7,342.5 555.4,342.5 556.2,342.5 556.9,342.6 557.6,342.6 558.4,342.7 559.1,342.9 559.8,343 560.6,343.1 561.3,343.2 562,343.4 562.8,343.6 563.5,343.7 564.2,343.9 565,344 565.7,344.2 566.4,344.4 567.2,344.5 567.9,344.6 568.6,344.6 569.4,344.7 570.1,344.7 570.8,344.7 571.6,344.7 572.3,344.8 573,344.8 573.8,344.9 574.5,345 575.2,345.1 576,345.2 576.7,345.2 577.4,345.3 578.2,345.5 578.9,345.6 579.6,345.7 580.4,345.9 581.1,346 581.8,346.1 582.6,346.2 583.3,346.3 584,346.4 584.8,346.5 585.5,346.6 586.2,346.6 587,346.7 587.7,346.8 588.4,346.9 589.2,347 589.9,347.1 590.6,347.2 591.4,347.4 592.1,347.5 592.8,347.6 593.6,347.7 594.3,347.8 595,347.9 595.8,348 596.5,348.1 597.2,348.2 598,348.3 598.7,348.4 599.4,348.4 600.2,348.5 600.9,348.6 601.6,348.7 602.4,348.8 603.1,348.9 603.8,349 604.6,349.1 605.3,349.3 606,349.3 606.8,349.4 607.5,349.5 608.2,349.6 609,349.7 609.7,349.7 610.4,349.8 611.2,349.9 611.9,349.9 612.6,350 613.4,350 614.1,350.1 614.8,350.1 615.6,350.2 616.3,350.2 617,350.2 617.8,350.2 618.5,350.2 619.2,350.3 620,350.3 620.7,350.3 621.4,350.3 622.2,350.3 622.9,350.4 623.6,350.4 624.4,350.4 625.1,350.4 625.8,350.4 626.6,350.5 627.3,350.5 628,350.5 628.8,350.5 629.5,350.5 630.2,350.6 631,350.6 631.7,350.6 632.4,350.6 633.2,350.6 633.9,350.6 634.6,350.7 635.4,350.7 636.1,350.7 636.8,350.7 637.6,350.7 638.3,350.7 639,350.8 639.8,350.8 640.5,350.8 641.2,350.8 642,350.8 642.7,350.9" fill="none" stroke="#e8474c" stroke-width="1.6" stroke-linejoin="round" stroke-linecap="round"/>
<polyline points="459.4,351.4 460.1,351.4 460.9,351.3 461.6,351.3 462.3,351.3 463.1,351.3 463.8,351.2 464.5,351.2 465.3,351.2 466,351.1 466.7,351.1 467.5,351.1 468.2,351.1 468.9,351 469.7,351 470.4,351 471.1,350.9 471.9,350.7 472.6,350.4 473.3,350.2 474.1,350 474.8,349.8 475.5,349.5 476.3,349 477,348.2 477.7,347.3 478.5,346.5 479.2,344.8 479.9,343.1 480.7,341.4 481.4,339.4 482.1,337.2 482.9,334.9 483.6,332.6 484.3,330.2 485.1,327.8 485.8,324.6 486.5,317.1 487.3,309.5 488,302 488.7,294.5 489.5,288.4 490.2,283.8 490.9,279.1 491.7,274.5 492.4,273.2 493.1,272 493.9,270.7 494.6,269.4 495.3,270.4 496.1,271.4 496.8,272.4 497.5,273.4 498.3,277.5 499,282.2 499.7,286.9 500.5,291.6 501.2,296.4 501.9,301.1 502.7,307.3 503.4,313.8 504.1,320.3 504.9,326.7 505.6,332.1 506.3,336.3 507.1,340.6 507.8,343.1 508.5,344 509.3,344.9 510,345.7 510.7,346 511.5,346.1 512.2,346.3 512.9,346.4 513.7,346.5 514.4,346.7 515.1,346.8 515.9,346.8 516.6,346.7 517.3,346.6 518.1,346.5 518.8,346.4 519.5,346.3 520.3,346.2 521,346 521.7,345.9 522.5,345.8 523.2,345.7 523.9,345.6 524.7,345.4 525.4,345.3 526.1,345.2 526.9,345.1 527.6,345 528.3,345 529.1,344.9 529.8,344.9 530.5,344.8 531.3,344.7 532,344.7 532.7,344.6 533.5,344.6 534.2,344.5 534.9,344.5 535.7,344.5 536.4,344.4 537.1,344.4 537.9,344.3 538.6,344.3 539.3,344.3 540.1,344.2 540.8,344.3 541.5,344.3 542.3,344.3 543,344.4 543.7,344.4 544.5,344.4 545.2,344.4 545.9,344.4 546.7,344.4 547.4,344.4 548.1,344.4 548.9,344.4 549.6,344.4 550.3,344.5 551,344.6 551.8,344.7 552.5,344.7 553.2,344.8 554,344.9 554.7,345 555.4,345.1 556.2,345.1 556.9,345.2 557.6,345.3 558.4,345.4 559.1,345.5 559.8,345.6 560.6,345.7 561.3,345.8 562,345.9 562.8,346 563.5,346.1 564.2,346.2 565,346.3 565.7,346.4 566.4,346.5 567.2,346.6 567.9,346.7 568.6,346.8 569.4,346.9 570.1,347 570.8,347.1 571.6,347.2 572.3,347.3 573,347.3 573.8,347.4 574.5,347.4 575.2,347.5 576,347.6 576.7,347.6 577.4,347.7 578.2,347.7 578.9,347.8 579.6,347.8 580.4,347.9 581.1,347.9 581.8,348 582.6,348 583.3,348 584,348.1 584.8,348.1 585.5,348.2 586.2,348.2 587,348.3 587.7,348.4 588.4,348.4 589.2,348.5 589.9,348.5 590.6,348.6 591.4,348.7 592.1,348.7 592.8,348.8 593.6,348.8 594.3,348.8 595,348.9 595.8,348.9 596.5,349 597.2,349 598,349 598.7,349.1 599.4,349.1 600.2,349.2 600.9,349.2 601.6,349.2 602.4,349.3 603.1,349.3 603.8,349.4 604.6,349.4 605.3,349.4 606,349.5 606.8,349.5 607.5,349.6 608.2,349.6 609,349.7 609.7,349.8 610.4,349.8 611.2,349.9 611.9,349.9 612.6,350 613.4,350 614.1,350.1 614.8,350.1 615.6,350.2 616.3,350.2 617,350.3 617.8,350.4 618.5,350.4 619.2,350.5 620,350.5 620.7,350.6 621.4,350.7 622.2,350.7 622.9,350.7 623.6,350.7 624.4,350.7 625.1,350.7 625.8,350.8 626.6,350.8 627.3,350.8 628,350.8 628.8,350.8 629.5,350.8 630.2,350.8 631,350.8 631.7,350.9 632.4,350.9 633.2,350.9 633.9,350.9 634.6,350.9 635.4,350.9 636.1,350.9 636.8,350.9 637.6,351 638.3,351 639,351 639.8,351 640.5,351 641.2,351 642,351 642.7,351" fill="none" stroke="#6cbf6a" stroke-width="1.6" stroke-linejoin="round" stroke-linecap="round"/>
<rect x="459.4" y="198.5" width="183.3" height="152.9" fill="none" stroke="#333" stroke-width="0.8"/>
<line x1="489.9" y1="351.4" x2="489.9" y2="349.6" stroke="#262626" stroke-width="0.6" stroke-linecap="butt"/>
<line x1="489.9" y1="198.5" x2="489.9" y2="200.3" stroke="#262626" stroke-width="0.6" stroke-linecap="butt"/>
<text x="489.9" y="359.9" font-size="7.4" fill="#262626" stroke="#262626" stroke-width="0.14" text-anchor="middle">0</text>
<line x1="551" y1="351.4" x2="551" y2="349.6" stroke="#262626" stroke-width="0.6" stroke-linecap="butt"/>
<line x1="551" y1="198.5" x2="551" y2="200.3" stroke="#262626" stroke-width="0.6" stroke-linecap="butt"/>
<text x="551" y="359.9" font-size="7.4" fill="#262626" stroke="#262626" stroke-width="0.14" text-anchor="middle">500</text>
<line x1="612.2" y1="351.4" x2="612.2" y2="349.6" stroke="#262626" stroke-width="0.6" stroke-linecap="butt"/>
<line x1="612.2" y1="198.5" x2="612.2" y2="200.3" stroke="#262626" stroke-width="0.6" stroke-linecap="butt"/>
<text x="612.2" y="359.9" font-size="7.4" fill="#262626" stroke="#262626" stroke-width="0.14" text-anchor="middle">1000</text>
<line x1="459.4" y1="351.4" x2="461.2" y2="351.4" stroke="#262626" stroke-width="0.6" stroke-linecap="butt"/>
<line x1="642.7" y1="351.4" x2="640.9" y2="351.4" stroke="#262626" stroke-width="0.6" stroke-linecap="butt"/>
<text x="456.2" y="354.1" font-size="7.4" fill="#262626" stroke="#262626" stroke-width="0.14" text-anchor="end">0</text>
<line x1="459.4" y1="320.8" x2="461.2" y2="320.8" stroke="#262626" stroke-width="0.6" stroke-linecap="butt"/>
<line x1="642.7" y1="320.8" x2="640.9" y2="320.8" stroke="#262626" stroke-width="0.6" stroke-linecap="butt"/>
<text x="456.2" y="323.5" font-size="7.4" fill="#262626" stroke="#262626" stroke-width="0.14" text-anchor="end">0.002</text>
<line x1="459.4" y1="290.2" x2="461.2" y2="290.2" stroke="#262626" stroke-width="0.6" stroke-linecap="butt"/>
<line x1="642.7" y1="290.2" x2="640.9" y2="290.2" stroke="#262626" stroke-width="0.6" stroke-linecap="butt"/>
<text x="456.2" y="292.9" font-size="7.4" fill="#262626" stroke="#262626" stroke-width="0.14" text-anchor="end">0.004</text>
<line x1="459.4" y1="259.7" x2="461.2" y2="259.7" stroke="#262626" stroke-width="0.6" stroke-linecap="butt"/>
<line x1="642.7" y1="259.7" x2="640.9" y2="259.7" stroke="#262626" stroke-width="0.6" stroke-linecap="butt"/>
<text x="456.2" y="262.3" font-size="7.4" fill="#262626" stroke="#262626" stroke-width="0.14" text-anchor="end">0.006</text>
<line x1="459.4" y1="229.1" x2="461.2" y2="229.1" stroke="#262626" stroke-width="0.6" stroke-linecap="butt"/>
<line x1="642.7" y1="229.1" x2="640.9" y2="229.1" stroke="#262626" stroke-width="0.6" stroke-linecap="butt"/>
<text x="456.2" y="231.7" font-size="7.4" fill="#262626" stroke="#262626" stroke-width="0.14" text-anchor="end">0.008</text>
<line x1="459.4" y1="198.5" x2="461.2" y2="198.5" stroke="#262626" stroke-width="0.6" stroke-linecap="butt"/>
<line x1="642.7" y1="198.5" x2="640.9" y2="198.5" stroke="#262626" stroke-width="0.6" stroke-linecap="butt"/>
<text x="456.2" y="201.2" font-size="7.4" fill="#262626" stroke="#262626" stroke-width="0.14" text-anchor="end">0.01</text>
<text x="551" y="369.3" font-size="8.5" fill="#262626" stroke="#262626" stroke-width="0.14" text-anchor="middle">Instantaneous velocity (nm/s)</text>
<text transform="translate(435.4,274.5) rotate(-90)" font-size="8.5" fill="#262626" stroke="#262626" stroke-width="0.14" text-anchor="middle">Probability density</text>
<rect x="547.4" y="202.7" width="92.1" height="37.7" fill="#fff" stroke="#333" stroke-width="0.7"/>
<line x1="551" y1="208" x2="568.6" y2="208" stroke="#4f80b8" stroke-width="1.5" stroke-linecap="butt"/>
<text x="571.8" y="210.7" font-size="7.4" fill="#262626" stroke="#262626" stroke-width="0.14">&lt; 1 µm (0-33%)</text>
<line x1="551" y1="216.7" x2="568.6" y2="216.7" stroke="#e8474c" stroke-width="1.5" stroke-linecap="butt"/>
<text x="571.8" y="219.4" font-size="7.4" fill="#262626" stroke="#262626" stroke-width="0.14">1-1.4 µm (33-66%)</text>
<line x1="551" y1="225.4" x2="568.6" y2="225.4" stroke="#6cbf6a" stroke-width="1.5" stroke-linecap="butt"/>
<text x="571.8" y="228.1" font-size="7.4" fill="#262626" stroke="#262626" stroke-width="0.14">&gt;1.4 µm (66-100%)</text>
<rect x="551" y="231.3" width="17.6" height="6.4" fill="#d6d6d6" stroke="none" stroke-width="0.8"/>
<text x="571.8" y="237.2" font-size="7.4" fill="#262626" stroke="#262626" stroke-width="0.14">Whole population</text>
<rect x="539.5" y="249.2" width="100.6" height="75.8" fill="#fff" stroke="none" stroke-width="0.8"/>
<clipPath id="dins"><rect x="539.5" y="250.2" width="97.6" height="74.8"/></clipPath>
<g clip-path="url(#dins)">
<rect x="539.5" y="324.8" width="0.7" height="0.2" fill="#d6d6d6" stroke="none" stroke-width="0.8"/>
<rect x="540.2" y="324" width="1.6" height="1" fill="#d6d6d6" stroke="none" stroke-width="0.8"/>
<rect x="541.7" y="323.2" width="1.6" height="1.8" fill="#d6d6d6" stroke="none" stroke-width="0.8"/>
<rect x="543.3" y="322.2" width="1.6" height="2.8" fill="#d6d6d6" stroke="none" stroke-width="0.8"/>
<rect x="544.8" y="320.7" width="1.6" height="4.3" fill="#d6d6d6" stroke="none" stroke-width="0.8"/>
<rect x="546.4" y="316.1" width="1.6" height="8.9" fill="#d6d6d6" stroke="none" stroke-width="0.8"/>
<rect x="548" y="306.9" width="1.6" height="18.1" fill="#d6d6d6" stroke="none" stroke-width="0.8"/>
<rect x="549.5" y="282.5" width="1.6" height="42.5" fill="#d6d6d6" stroke="none" stroke-width="0.8"/>
<rect x="551.1" y="248.2" width="1.6" height="76.8" fill="#d6d6d6" stroke="none" stroke-width="0.8"/>
<rect x="552.6" y="262.9" width="1.6" height="62.1" fill="#d6d6d6" stroke="none" stroke-width="0.8"/>
<rect x="554.2" y="248.2" width="1.6" height="76.8" fill="#d6d6d6" stroke="none" stroke-width="0.8"/>
<rect x="555.8" y="248.2" width="1.6" height="76.8" fill="#d6d6d6" stroke="none" stroke-width="0.8"/>
<rect x="557.3" y="248.2" width="1.6" height="76.8" fill="#d6d6d6" stroke="none" stroke-width="0.8"/>
<rect x="558.9" y="248.2" width="1.6" height="76.8" fill="#d6d6d6" stroke="none" stroke-width="0.8"/>
<rect x="560.5" y="248.2" width="1.6" height="76.8" fill="#d6d6d6" stroke="none" stroke-width="0.8"/>
<rect x="562" y="254.7" width="1.6" height="70.3" fill="#d6d6d6" stroke="none" stroke-width="0.8"/>
<rect x="563.6" y="308.5" width="1.6" height="16.5" fill="#d6d6d6" stroke="none" stroke-width="0.8"/>
<rect x="565.1" y="292.3" width="1.6" height="32.7" fill="#d6d6d6" stroke="none" stroke-width="0.8"/>
<rect x="566.7" y="304.2" width="1.6" height="20.8" fill="#d6d6d6" stroke="none" stroke-width="0.8"/>
<rect x="568.3" y="303.7" width="1.6" height="21.3" fill="#d6d6d6" stroke="none" stroke-width="0.8"/>
<rect x="569.8" y="302.7" width="1.6" height="22.3" fill="#d6d6d6" stroke="none" stroke-width="0.8"/>
<rect x="571.4" y="297.5" width="1.6" height="27.5" fill="#d6d6d6" stroke="none" stroke-width="0.8"/>
<rect x="572.9" y="295.4" width="1.6" height="29.6" fill="#d6d6d6" stroke="none" stroke-width="0.8"/>
<rect x="574.5" y="296.5" width="1.6" height="28.5" fill="#d6d6d6" stroke="none" stroke-width="0.8"/>
<rect x="576.1" y="290.5" width="1.6" height="34.5" fill="#d6d6d6" stroke="none" stroke-width="0.8"/>
<rect x="577.6" y="288.9" width="1.6" height="36.1" fill="#d6d6d6" stroke="none" stroke-width="0.8"/>
<rect x="579.2" y="289.2" width="1.6" height="35.8" fill="#d6d6d6" stroke="none" stroke-width="0.8"/>
<rect x="580.8" y="285.5" width="1.6" height="39.5" fill="#d6d6d6" stroke="none" stroke-width="0.8"/>
<rect x="582.3" y="288" width="1.6" height="37" fill="#d6d6d6" stroke="none" stroke-width="0.8"/>
<rect x="583.9" y="288.8" width="1.6" height="36.2" fill="#d6d6d6" stroke="none" stroke-width="0.8"/>
<rect x="585.4" y="285.4" width="1.6" height="39.6" fill="#d6d6d6" stroke="none" stroke-width="0.8"/>
<rect x="587" y="287.4" width="1.6" height="37.6" fill="#d6d6d6" stroke="none" stroke-width="0.8"/>
<rect x="588.6" y="286.7" width="1.6" height="38.3" fill="#d6d6d6" stroke="none" stroke-width="0.8"/>
<rect x="590.1" y="287.3" width="1.6" height="37.7" fill="#d6d6d6" stroke="none" stroke-width="0.8"/>
<rect x="591.7" y="292.7" width="1.6" height="32.3" fill="#d6d6d6" stroke="none" stroke-width="0.8"/>
<rect x="593.2" y="292.4" width="1.6" height="32.6" fill="#d6d6d6" stroke="none" stroke-width="0.8"/>
<rect x="594.8" y="295" width="1.6" height="30" fill="#d6d6d6" stroke="none" stroke-width="0.8"/>
<rect x="596.4" y="295.6" width="1.6" height="29.4" fill="#d6d6d6" stroke="none" stroke-width="0.8"/>
<rect x="597.9" y="298.4" width="1.6" height="26.6" fill="#d6d6d6" stroke="none" stroke-width="0.8"/>
<rect x="599.5" y="299.3" width="1.6" height="25.7" fill="#d6d6d6" stroke="none" stroke-width="0.8"/>
<rect x="601.1" y="301.2" width="1.6" height="23.8" fill="#d6d6d6" stroke="none" stroke-width="0.8"/>
<rect x="602.6" y="302.2" width="1.6" height="22.8" fill="#d6d6d6" stroke="none" stroke-width="0.8"/>
<rect x="604.2" y="304.6" width="1.6" height="20.4" fill="#d6d6d6" stroke="none" stroke-width="0.8"/>
<rect x="605.7" y="306.2" width="1.6" height="18.8" fill="#d6d6d6" stroke="none" stroke-width="0.8"/>
<rect x="607.3" y="305.5" width="1.6" height="19.5" fill="#d6d6d6" stroke="none" stroke-width="0.8"/>
<rect x="608.9" y="307.3" width="1.6" height="17.7" fill="#d6d6d6" stroke="none" stroke-width="0.8"/>
<rect x="610.4" y="309.2" width="1.6" height="15.8" fill="#d6d6d6" stroke="none" stroke-width="0.8"/>
<rect x="612" y="310.9" width="1.6" height="14.1" fill="#d6d6d6" stroke="none" stroke-width="0.8"/>
<rect x="613.5" y="312.9" width="1.6" height="12.1" fill="#d6d6d6" stroke="none" stroke-width="0.8"/>
<rect x="615.1" y="314.3" width="1.6" height="10.7" fill="#d6d6d6" stroke="none" stroke-width="0.8"/>
<rect x="616.7" y="315.5" width="1.6" height="9.5" fill="#d6d6d6" stroke="none" stroke-width="0.8"/>
<rect x="618.2" y="317.1" width="1.6" height="7.9" fill="#d6d6d6" stroke="none" stroke-width="0.8"/>
<rect x="619.8" y="317.3" width="1.6" height="7.7" fill="#d6d6d6" stroke="none" stroke-width="0.8"/>
<rect x="621.4" y="318.8" width="1.6" height="6.2" fill="#d6d6d6" stroke="none" stroke-width="0.8"/>
<rect x="622.9" y="319.2" width="1.6" height="5.8" fill="#d6d6d6" stroke="none" stroke-width="0.8"/>
<rect x="624.5" y="320.5" width="1.6" height="4.5" fill="#d6d6d6" stroke="none" stroke-width="0.8"/>
<rect x="626" y="320.6" width="1.6" height="4.4" fill="#d6d6d6" stroke="none" stroke-width="0.8"/>
<rect x="627.6" y="321" width="1.6" height="4" fill="#d6d6d6" stroke="none" stroke-width="0.8"/>
<rect x="629.2" y="321.8" width="1.6" height="3.2" fill="#d6d6d6" stroke="none" stroke-width="0.8"/>
<rect x="630.7" y="322" width="1.6" height="3" fill="#d6d6d6" stroke="none" stroke-width="0.8"/>
<rect x="632.3" y="321.9" width="1.6" height="3.1" fill="#d6d6d6" stroke="none" stroke-width="0.8"/>
<rect x="633.8" y="322.4" width="1.6" height="2.6" fill="#d6d6d6" stroke="none" stroke-width="0.8"/>
<rect x="635.4" y="322.5" width="1.6" height="2.5" fill="#d6d6d6" stroke="none" stroke-width="0.8"/>
<rect x="637" y="322.9" width="0.2" height="2.1" fill="#d6d6d6" stroke="none" stroke-width="0.8"/>
<polyline points="539.5,325 539.9,323.8 540.3,322.6 540.7,321.4 541.1,320.2 541.5,319 541.8,317.8 542.2,316.5 542.6,314.9 543,313.3 543.4,311.7 543.8,310.1 544.2,308.4 544.6,306.8 545,304.4 545.4,301.5 545.7,298.6 546.1,295.7 546.5,292.8 546.9,288.8 547.3,284.9 547.7,280.9 548.1,276.9 548.5,273 548.9,269.1 549.3,265.3 549.7,261.5 550,257.7 550.4,252.5 550.8,247.3 551.2,236.7 551.6,225.1 552,213.4 552.4,201.7 552.8,190 553.2,178.2 553.6,166.5 553.9,154.7 554.3,143 554.7,130.3 555.1,117.6 555.5,104.8 555.9,92 556.3,81.2 556.7,72.2 557.1,63.2 557.5,54.2 557.8,45.2 558.2,53.8 558.6,62.4 559,71 559.4,80 559.8,91.3 560.2,102.6 560.6,113.9 561,125.2 561.4,138.3 561.8,155.1 562.1,171.8 562.5,188.6 562.9,205.3 563.3,221.3 563.7,237.3 564.1,253.3 564.5,267.1 564.9,269.7 565.3,272.3 565.7,274.9 566,282.5 566.4,290.1 566.8,294.3 567.2,297.8 567.6,299.7 568,300.1 568.4,300.4 568.8,300.7 569.2,301.1 569.6,300.5 570,299.8 570.3,299 570.7,298.2 571.1,297.4 571.5,296.6 571.9,295.8 572.3,295 572.7,294.3 573.1,293.5 573.5,292.7 573.9,291.9 574.2,291.1 574.6,290.3 575,289.6 575.4,288.8 575.8,288.2 576.2,287.7 576.6,287.1 577,286.5 577.4,286.1 577.8,285.7 578.1,285.3 578.5,284.9 578.9,284.5 579.3,284.1 579.7,283.7 580.1,283.3 580.5,282.9 580.9,283 581.3,283.2 581.7,283.3 582.1,283.4 582.4,283.6 582.8,283.7 583.2,283.7 583.6,283.5 584,283.4 584.4,283.2 584.8,283 585.2,282.3 585.6,281.5 586,280.7 586.3,279.9 586.7,279.1 587.1,278.4 587.5,277.6 587.9,276.9 588.3,276.3 588.7,275.6 589.1,275 589.5,274.3 589.9,273.7 590.3,273.3 590.6,273.3 591,273.3 591.4,273.3 591.8,273.3 592.2,273.8 592.6,274.4 593,275 593.4,275.6 593.8,276.1 594.2,276.5 594.5,276.9 594.9,277.3 595.3,277.7 595.7,278.9 596.1,280 596.5,281.2 596.9,282.4 597.3,283.6 597.7,284.7 598.1,285.9 598.5,287.1 598.8,288.3 599.2,289.5 599.6,290.6 600,291.5 600.4,292.3 600.8,293 601.2,293.8 601.6,294.6 602,295.4 602.4,296.2 602.7,296.8 603.1,297.5 603.5,298.1 603.9,298.8 604.3,299.4 604.7,300.1 605.1,300.7 605.5,301.4 605.9,302 606.3,302.7 606.6,303.4 607,304 607.4,304.7 607.8,305.2 608.2,305.7 608.6,306.3 609,306.8 609.4,307.3 609.8,307.8 610.2,308.3 610.6,308.5 610.9,308.6 611.3,308.7 611.7,308.9 612.1,309 612.5,309.1 612.9,309.2 613.3,309.4 613.7,309.5 614.1,309.6 614.5,309.8 614.8,309.9 615.2,310 615.6,310.2 616,310.4 616.4,310.6 616.8,310.8 617.2,311 617.6,311.2 618,311.4 618.4,311.6 618.8,311.8 619.1,312 619.5,312.2 619.9,312.4 620.3,312.6 620.7,312.8 621.1,313 621.5,313.2 621.9,313.3 622.3,313.5 622.7,313.7 623,313.8 623.4,313.9 623.8,314 624.2,314.1 624.6,314.1 625,314.2 625.4,314.3 625.8,314.4 626.2,314.5 626.6,314.6 626.9,314.7 627.3,314.8 627.7,314.9 628.1,315 628.5,315.1 628.9,315.2 629.3,315.3 629.7,315.6 630.1,315.8 630.5,316.1 630.9,316.4 631.2,316.6 631.6,316.9 632,317.1 632.4,317.4 632.8,317.7 633.2,317.9 633.6,318.2 634,318.5 634.4,318.7 634.8,319 635.1,319.3 635.5,319.6 635.9,320 636.3,320.3 636.7,320.6 637.1,320.9" fill="none" stroke="#4f80b8" stroke-width="1.6" stroke-linejoin="round" stroke-linecap="round"/>
<polyline points="539.5,324.6 539.9,324.3 540.3,324 540.7,323.7 541.1,323.4 541.5,323.1 541.8,322.8 542.2,322.5 542.6,322.2 543,321.9 543.4,321.6 543.8,321.1 544.2,320.5 544.6,319.8 545,319.2 545.4,318.6 545.7,318 546.1,317.4 546.5,316.8 546.9,314.4 547.3,312.1 547.7,309.8 548.1,307.5 548.5,304.2 548.9,299.9 549.3,295.7 549.7,289.6 550,279.7 550.4,269.9 550.8,260.7 551.2,251.7 551.6,240.9 552,229.8 552.4,218.6 552.8,207.5 553.2,190.5 553.6,161.6 553.9,132.8 554.3,103.9 554.7,75.1 555.1,53.8 555.5,36.5 555.9,19.1 556.3,1.7 556.7,-8.2 557.1,-14.3 557.5,-20.4 557.8,-26.6 558.2,-21.1 558.6,-15.7 559,-10.3 559.4,-4.8 559.8,0.6 560.2,6 560.6,24.1 561,48.5 561.4,72.8 561.8,97.2 562.1,121.5 562.5,145.9 562.9,173.2 563.3,201 563.7,228.8 564.1,250.4 564.5,265.9 564.9,281.3 565.3,288 565.7,293 566,297.9 566.4,301 566.8,303.1 567.2,305.2 567.6,306.3 568,305.6 568.4,305 568.8,304.3 569.2,303.7 569.6,303 570,302.3 570.3,301.7 570.7,301 571.1,300.3 571.5,299.6 571.9,298.9 572.3,298.2 572.7,297.6 573.1,296.9 573.5,296.2 573.9,295.7 574.2,295.3 574.6,295 575,294.6 575.4,294.2 575.8,293.8 576.2,293.4 576.6,293 577,292.6 577.4,292.1 577.8,291.6 578.1,291.1 578.5,290.6 578.9,290.2 579.3,289.7 579.7,289.2 580.1,288.7 580.5,288.2 580.9,288 581.3,287.8 581.7,287.6 582.1,287.4 582.4,287.2 582.8,287 583.2,286.8 583.6,286.6 584,286.4 584.4,286.3 584.8,286.2 585.2,286 585.6,285.9 586,285.8 586.3,285.6 586.7,285.3 587.1,284.5 587.5,283.7 587.9,282.9 588.3,282.1 588.7,281.9 589.1,281.7 589.5,281.5 589.9,281.3 590.3,281.3 590.6,281.4 591,281.6 591.4,281.8 591.8,282 592.2,282.6 592.6,283.2 593,283.8 593.4,284.4 593.8,285.1 594.2,285.8 594.5,286.6 594.9,287.4 595.3,288.2 595.7,289 596.1,289.8 596.5,290.5 596.9,291.3 597.3,291.8 597.7,291.9 598.1,292 598.5,292.1 598.8,292.3 599.2,292.4 599.6,292.5 600,292.9 600.4,293.3 600.8,293.7 601.2,294.1 601.6,294.5 602,294.9 602.4,295.3 602.7,295.9 603.1,296.6 603.5,297.2 603.9,297.9 604.3,298.6 604.7,299.2 605.1,299.7 605.5,300.1 605.9,300.5 606.3,300.9 606.6,301.3 607,301.7 607.4,302.1 607.8,302.6 608.2,303.1 608.6,303.6 609,304.2 609.4,304.7 609.8,305.2 610.2,305.7 610.6,306.3 610.9,306.8 611.3,307.3 611.7,307.8 612.1,308.3 612.5,308.9 612.9,309.3 613.3,309.7 613.7,310.1 614.1,310.5 614.5,310.9 614.8,311.3 615.2,311.7 615.6,312.2 616,312.8 616.4,313.4 616.8,314 617.2,314.5 617.6,314.9 618,315.3 618.4,315.7 618.8,316.1 619.1,316.5 619.5,316.9 619.9,317.2 620.3,317.5 620.7,317.7 621.1,318 621.5,318.3 621.9,318.5 622.3,318.8 622.7,318.9 623,319 623.4,319.1 623.8,319.2 624.2,319.3 624.6,319.4 625,319.5 625.4,319.6 625.8,319.7 626.2,319.8 626.6,319.9 626.9,320 627.3,320.1 627.7,320.2 628.1,320.3 628.5,320.4 628.9,320.5 629.3,320.6 629.7,320.7 630.1,320.8 630.5,320.8 630.9,320.9 631.2,321 631.6,321.1 632,321.2 632.4,321.3 632.8,321.4 633.2,321.5 633.6,321.5 634,321.6 634.4,321.7 634.8,321.8 635.1,321.9 635.5,322 635.9,322.1 636.3,322.2 636.7,322.2 637.1,322.3" fill="none" stroke="#e8474c" stroke-width="1.6" stroke-linejoin="round" stroke-linecap="round"/>
<polyline points="539.5,325 539.9,324.9 540.3,324.7 540.7,324.6 541.1,324.4 541.5,324.3 541.8,324.1 542.2,324 542.6,323.9 543,323.7 543.4,323.6 543.8,323.4 544.2,323.3 544.6,323.2 545,323 545.4,322.9 545.7,322.6 546.1,321.4 546.5,320.3 546.9,319.2 547.3,318.1 547.7,317 548.1,315.8 548.5,313.2 548.9,309.2 549.3,305.1 549.7,301.1 550,292.8 550.4,284.5 550.8,276.3 551.2,266.1 551.6,255.5 552,244.4 552.4,232.9 552.8,221.3 553.2,209.7 553.6,193.9 553.9,157.1 554.3,120.2 554.7,83.3 555.1,46.5 555.5,16.7 555.9,-5.9 556.3,-28.6 556.7,-51.2 557.1,-57.4 557.5,-63.6 557.8,-69.8 558.2,-75.9 558.6,-71.1 559,-66.2 559.4,-61.4 559.8,-56.5 560.2,-36.5 560.6,-13.4 561,9.6 561.4,32.7 561.8,55.7 562.1,78.8 562.5,109.1 562.9,140.9 563.3,172.6 563.7,204.4 564.1,230.6 564.5,251.3 564.9,272 565.3,284.5 565.7,288.8 566,293.1 566.4,297.4 566.8,298.6 567.2,299.3 567.6,299.9 568,300.6 568.4,301.2 568.8,301.9 569.2,302.6 569.6,302.5 570,302 570.3,301.5 570.7,301 571.1,300.5 571.5,299.9 571.9,299.4 572.3,298.8 572.7,298.2 573.1,297.6 573.5,297 573.9,296.4 574.2,295.9 574.6,295.3 575,294.7 575.4,294.2 575.8,293.9 576.2,293.6 576.6,293.3 577,293 577.4,292.7 577.8,292.4 578.1,292.1 578.5,291.8 578.9,291.6 579.3,291.4 579.7,291.2 580.1,291 580.5,290.8 580.9,290.6 581.3,290.4 581.7,290.2 582.1,290 582.4,290 582.8,290.1 583.2,290.3 583.6,290.4 584,290.5 584.4,290.6 584.8,290.8 585.2,290.8 585.6,290.8 586,290.8 586.3,290.8 586.7,290.8 587.1,290.8 587.5,290.8 587.9,291.2 588.3,291.6 588.7,292 589.1,292.4 589.5,292.8 589.9,293.2 590.3,293.6 590.6,294 591,294.4 591.4,294.8 591.8,295.2 592.2,295.6 592.6,295.9 593,296.4 593.4,296.9 593.8,297.4 594.2,297.9 594.5,298.4 594.9,298.9 595.3,299.4 595.7,299.8 596.1,300.3 596.5,300.8 596.9,301.3 597.3,301.8 597.7,302.3 598.1,302.8 598.5,303.3 598.8,303.8 599.2,304.3 599.6,304.7 600,305.1 600.4,305.4 600.8,305.7 601.2,306 601.6,306.2 602,306.5 602.4,306.8 602.7,307.1 603.1,307.4 603.5,307.6 603.9,307.8 604.3,308 604.7,308.2 605.1,308.4 605.5,308.6 605.9,308.8 606.3,309 606.6,309.2 607,309.5 607.4,309.8 607.8,310.1 608.2,310.4 608.6,310.7 609,311 609.4,311.3 609.8,311.6 610.2,311.8 610.6,312 610.9,312.2 611.3,312.4 611.7,312.6 612.1,312.8 612.5,313 612.9,313.2 613.3,313.4 613.7,313.6 614.1,313.8 614.5,314 614.8,314.2 615.2,314.4 615.6,314.6 616,314.8 616.4,315 616.8,315.2 617.2,315.4 617.6,315.6 618,315.9 618.4,316.2 618.8,316.4 619.1,316.7 619.5,317 619.9,317.2 620.3,317.5 620.7,317.7 621.1,318 621.5,318.3 621.9,318.5 622.3,318.8 622.7,319.1 623,319.4 623.4,319.7 623.8,320 624.2,320.3 624.6,320.5 625,320.8 625.4,321.1 625.8,321.4 626.2,321.5 626.6,321.6 626.9,321.7 627.3,321.7 627.7,321.8 628.1,321.8 628.5,321.9 628.9,322 629.3,322 629.7,322.1 630.1,322.2 630.5,322.2 630.9,322.3 631.2,322.4 631.6,322.4 632,322.5 632.4,322.5 632.8,322.6 633.2,322.6 633.6,322.7 634,322.8 634.4,322.8 634.8,322.9 635.1,322.9 635.5,323 635.9,323 636.3,323.1 636.7,323.2 637.1,323.2" fill="none" stroke="#6cbf6a" stroke-width="1.6" stroke-linejoin="round" stroke-linecap="round"/>
</g>
<line x1="539.5" y1="250.2" x2="539.5" y2="325" stroke="#333" stroke-width="0.7" stroke-linecap="butt"/>
<line x1="539.5" y1="325" x2="637.1" y2="325" stroke="#333" stroke-width="0.7" stroke-linecap="butt"/>
<line x1="555.8" y1="325" x2="555.8" y2="323.8" stroke="#333" stroke-width="0.5" stroke-linecap="butt"/>
<text x="555.8" y="330.5" font-size="4.8" fill="#333" stroke="#333" stroke-width="0.1" text-anchor="middle">0</text>
<line x1="588.3" y1="325" x2="588.3" y2="323.8" stroke="#333" stroke-width="0.5" stroke-linecap="butt"/>
<text x="588.3" y="330.5" font-size="4.8" fill="#333" stroke="#333" stroke-width="0.1" text-anchor="middle">500</text>
<line x1="620.8" y1="325" x2="620.8" y2="323.8" stroke="#333" stroke-width="0.5" stroke-linecap="butt"/>
<text x="620.8" y="330.5" font-size="4.8" fill="#333" stroke="#333" stroke-width="0.1" text-anchor="middle">1000</text>
<text x="537.3" y="326.7" font-size="4.8" fill="#333" stroke="#333" stroke-width="0.1" text-anchor="end">0</text>
<text x="537.3" y="252.4" font-size="4.8" fill="#333" stroke="#333" stroke-width="0.1" text-anchor="end">1</text>
<text x="539.5" y="249.1" font-size="3.5" fill="#333" stroke="#333" stroke-width="0.1">×10<tspan font-size="2.8" dy="-1.2">-3</tspan></text>
<text x="589" y="335.1" font-size="5.8" fill="#333" stroke="#333" stroke-width="0.1" text-anchor="middle">Instantaneous velocity (nm/s)</text>
<text transform="translate(534.9,287.6) rotate(-90)" font-size="5.8" fill="#333" stroke="#333" stroke-width="0.1" text-anchor="middle">Probability density</text>
<text x="-0.1" y="385.5" font-size="14" fill="#000" font-weight="bold">E</text>
<polygon points="48,400 47.9,402.3 47.7,405.6 47.5,409.4 47.3,413.1 47,416.7 46.6,420.5 46.2,424.4 45.8,428.2 45.3,432.1 44.7,436 44.1,439.8 43.6,443.4 43.1,446.8 42.7,450 42.4,452.9 42.1,455.4 41.9,457.2 41.7,458.4 41.6,459.7 41.7,461.5 42,464.1 42.4,467.2 42.9,470.4 43.4,473.6 44,476.7 44.6,479.7 45.2,482.8 45.8,485.7 46.3,488.5 46.7,491.3 47,493.9 47.3,496.3 47.5,498.4 47.7,500.3 47.8,502 47.9,503.8 48,505.7 48,507.7 48.1,509.4 48.1,510.6 48.5,510.6 48.5,509.4 48.6,507.7 48.6,505.7 48.7,503.8 48.8,502 48.9,500.3 49.1,498.4 49.3,496.3 49.6,493.9 49.9,491.3 50.3,488.5 50.8,485.7 51.4,482.8 52,479.7 52.6,476.7 53.2,473.6 53.7,470.4 54.2,467.2 54.6,464.1 54.9,461.5 55,459.7 54.9,458.4 54.7,457.2 54.5,455.4 54.2,452.9 53.9,450 53.4,446.8 53,443.4 52.5,439.8 51.9,436 51.3,432.1 50.8,428.2 50.4,424.4 50,420.5 49.6,416.7 49.3,413.1 49.1,409.4 48.9,405.6 48.7,402.3 48.6,400" fill="#c5e0a3" stroke="#8c8c8c" stroke-width="0.5"/>
<polygon points="63,400 62.9,403.9 62.8,409.4 62.7,415.4 62.5,420.7 62.3,424.9 62,428.6 61.7,432.2 61.2,435.8 60.5,439.7 59.6,443.6 58.7,447.4 58,450.9 57.6,453.9 57.2,456.6 57,459.1 56.9,461.5 56.8,463.8 56.8,466 56.8,468.1 56.9,470.6 57.1,473.5 57.3,476.6 57.6,479.7 58,482.7 58.6,485.5 59.3,488.1 60.1,490.7 60.7,493.2 61.2,495.6 61.7,497.9 62.2,500.2 62.5,502.3 62.7,504.5 62.9,506.7 63,508.6 63.1,509.9 63.5,509.9 63.6,508.6 63.7,506.7 63.9,504.5 64.1,502.3 64.4,500.2 64.9,497.9 65.4,495.6 65.9,493.2 66.5,490.7 67.3,488.1 68,485.5 68.6,482.7 69,479.7 69.3,476.6 69.5,473.5 69.7,470.6 69.8,468.1 69.8,466 69.8,463.8 69.7,461.5 69.6,459.1 69.3,456.6 69,453.9 68.6,450.9 67.9,447.4 67,443.6 66.1,439.7 65.4,435.8 64.9,432.2 64.6,428.6 64.3,424.9 64.1,420.7 63.9,415.4 63.8,409.4 63.7,403.9 63.6,400" fill="#c5e0a3" stroke="#8c8c8c" stroke-width="0.5"/>
<polygon points="87.2,400 87.2,403.7 87.2,409 87.1,414.8 87.1,420 87,424.3 87,428.4 86.9,432.2 86.7,435.8 86.4,439.1 86,442.2 85.6,445.1 85.1,447.9 84.5,450.6 83.7,453.2 83,455.8 82.4,458.5 82,461.4 81.8,464.5 81.7,467.5 81.5,470.6 81.3,473.7 81,476.8 80.9,479.9 80.9,482.7 81.2,485.2 81.8,487.4 82.4,489.5 83,491.7 83.6,494 84.3,496.4 85,498.7 85.6,500.8 86,502.6 86.4,504.1 86.7,505.5 86.9,506.8 87.1,508 87.2,509.2 87.2,510.1 87.3,510.8 87.7,510.8 87.8,510.1 87.8,509.2 87.9,508 88.1,506.8 88.3,505.5 88.6,504.1 89,502.6 89.4,500.8 90,498.7 90.7,496.4 91.4,494 92,491.7 92.6,489.5 93.2,487.4 93.8,485.2 94.1,482.7 94.1,479.9 94,476.8 93.7,473.7 93.5,470.6 93.3,467.5 93.2,464.5 93,461.4 92.6,458.5 92,455.8 91.3,453.2 90.5,450.6 89.9,447.9 89.4,445.1 89,442.2 88.6,439.1 88.3,435.8 88.1,432.2 88,428.4 88,424.3 87.9,420 87.9,414.8 87.8,409 87.8,403.7 87.8,400" fill="#c5e0a3" stroke="#8c8c8c" stroke-width="0.5"/>
<polygon points="111.2,412.4 111.2,418.3 111.1,426.9 111,436 110.8,443.4 110.5,448.4 110.2,452.2 109.8,455.4 109.4,458.6 109,461.8 108.5,464.8 108.1,467.7 107.6,470.7 107.1,473.8 106.6,476.9 106.2,480 105.8,482.8 105.4,485.3 105.1,487.5 104.9,489.7 104.9,491.9 105.3,494.2 106,496.6 106.8,498.9 107.6,501 108.3,502.8 109.1,504.3 109.8,505.7 110.4,507 110.8,508.2 111,509.3 111.1,510.2 111.2,510.8 111.6,510.8 111.7,510.2 111.8,509.3 112,508.2 112.4,507 113,505.7 113.7,504.3 114.5,502.8 115.2,501 116,498.9 116.8,496.6 117.5,494.2 117.9,491.9 117.9,489.7 117.7,487.5 117.4,485.3 117,482.8 116.6,480 116.2,476.9 115.7,473.8 115.2,470.7 114.7,467.7 114.3,464.8 113.8,461.8 113.4,458.6 113,455.4 112.6,452.2 112.3,448.4 112,443.4 111.8,436 111.7,426.9 111.6,418.3 111.6,412.4" fill="#c5e0a3" stroke="#8c8c8c" stroke-width="0.5"/>
<polygon points="134.3,412.4 134.2,419.9 134.1,430.7 133.9,442.1 133.7,451 133.4,456.5 133,460.2 132.5,463.1 132,466.2 131.4,469.7 130.7,473.2 130,476.5 129.4,479.8 128.9,483 128.4,486.1 128.1,489.1 128.1,491.9 128.5,494.5 129.2,496.8 130,499 130.7,501 131.4,502.8 132.1,504.3 132.8,505.7 133.3,507 133.7,508.2 134,509.3 134.2,510.2 134.3,510.8 134.7,510.8 134.8,510.2 135,509.3 135.3,508.2 135.7,507 136.2,505.7 136.9,504.3 137.6,502.8 138.3,501 139,499 139.8,496.8 140.5,494.5 140.9,491.9 140.9,489.1 140.6,486.1 140.1,483 139.6,479.8 139,476.5 138.3,473.2 137.6,469.7 137,466.2 136.5,463.1 136,460.2 135.6,456.5 135.3,451 135.1,442.1 134.9,430.7 134.8,419.9 134.7,412.4" fill="#c5e0a3" stroke="#8c8c8c" stroke-width="0.5"/>
<polygon points="158.1,482 157.8,483 157.5,484.3 157,485.9 156.3,487.4 155.3,488.9 154,490.4 152.8,491.9 152.2,493.4 152.3,495 153,496.5 153.8,498.1 154.5,499.5 155.1,500.8 155.7,501.9 156.3,503 156.8,504 157.2,504.9 157.5,505.8 157.8,506.5 158,507 158.6,507 158.8,506.5 159.1,505.8 159.4,504.9 159.8,504 160.3,503 160.9,501.9 161.5,500.8 162.1,499.5 162.8,498.1 163.7,496.5 164.3,495 164.4,493.4 163.8,491.9 162.6,490.4 161.3,488.9 160.3,487.4 159.6,485.9 159.1,484.3 158.8,483 158.5,482" fill="#c5e0a3" stroke="#8c8c8c" stroke-width="0.5"/>
<rect x="41.8" y="461.1" width="13" height="2.4" fill="#ff0000" stroke="none" stroke-width="0.8"/>
<rect x="41.8" y="459.6" width="13" height="1.8" fill="#000" stroke="none" stroke-width="0.8"/>
<rect x="57" y="470.6" width="12.6" height="2.4" fill="#ff0000" stroke="none" stroke-width="0.8"/>
<rect x="57" y="469.1" width="12.6" height="1.8" fill="#000" stroke="none" stroke-width="0.8"/>
<rect x="81.2" y="476.6" width="12.6" height="2.4" fill="#ff0000" stroke="none" stroke-width="0.8"/>
<rect x="81.2" y="474.8" width="12.6" height="1.8" fill="#000" stroke="none" stroke-width="0.8"/>
<rect x="105.9" y="485.1" width="11" height="2.4" fill="#ff0000" stroke="none" stroke-width="0.8"/>
<rect x="105.9" y="480.3" width="11" height="1.8" fill="#000" stroke="none" stroke-width="0.8"/>
<rect x="129" y="488.3" width="11" height="2.4" fill="#ff0000" stroke="none" stroke-width="0.8"/>
<rect x="129" y="483.7" width="11" height="1.8" fill="#000" stroke="none" stroke-width="0.8"/>
<rect x="152.3" y="495.6" width="12" height="2.4" fill="#ff0000" stroke="none" stroke-width="0.8"/>
<rect x="152.3" y="493.9" width="12" height="1.8" fill="#000" stroke="none" stroke-width="0.8"/>
<polyline points="48.3,461 63.3,470.5 87.5,476.5 111.4,481.5 134.5,484.8 158.3,495.2" fill="none" stroke="#0072bd" stroke-width="2" stroke-linejoin="round" stroke-linecap="round"/>
<line x1="48.3" y1="458.5" x2="48.3" y2="463.5" stroke="#0072bd" stroke-width="1" stroke-linecap="butt"/>
<circle cx="48.3" cy="461" r="1.9" fill="#0072bd"/>
<line x1="63.3" y1="468" x2="63.3" y2="473" stroke="#0072bd" stroke-width="1" stroke-linecap="butt"/>
<circle cx="63.3" cy="470.5" r="1.9" fill="#0072bd"/>
<line x1="87.5" y1="474" x2="87.5" y2="479" stroke="#0072bd" stroke-width="1" stroke-linecap="butt"/>
<circle cx="87.5" cy="476.5" r="1.9" fill="#0072bd"/>
<line x1="111.4" y1="479" x2="111.4" y2="484" stroke="#0072bd" stroke-width="1" stroke-linecap="butt"/>
<circle cx="111.4" cy="481.5" r="1.9" fill="#0072bd"/>
<line x1="134.5" y1="482.3" x2="134.5" y2="487.3" stroke="#0072bd" stroke-width="1" stroke-linecap="butt"/>
<circle cx="134.5" cy="484.8" r="1.9" fill="#0072bd"/>
<line x1="158.3" y1="492.7" x2="158.3" y2="497.7" stroke="#0072bd" stroke-width="1" stroke-linecap="butt"/>
<circle cx="158.3" cy="495.2" r="1.9" fill="#0072bd"/>
<rect x="35.4" y="399.8" width="131.1" height="111.8" fill="none" stroke="#4d4d4d" stroke-width="0.8"/>
<line x1="35.4" y1="511.6" x2="35.4" y2="509.8" stroke="#262626" stroke-width="0.6" stroke-linecap="butt"/>
<line x1="35.4" y1="399.8" x2="35.4" y2="401.6" stroke="#262626" stroke-width="0.6" stroke-linecap="butt"/>
<text x="35.4" y="520.1" font-size="7.4" fill="#262626" stroke="#262626" stroke-width="0.14" text-anchor="middle">0.5</text>
<line x1="68.2" y1="511.6" x2="68.2" y2="509.8" stroke="#262626" stroke-width="0.6" stroke-linecap="butt"/>
<line x1="68.2" y1="399.8" x2="68.2" y2="401.6" stroke="#262626" stroke-width="0.6" stroke-linecap="butt"/>
<text x="68.2" y="520.1" font-size="7.4" fill="#262626" stroke="#262626" stroke-width="0.14" text-anchor="middle">1.0</text>
<line x1="100.9" y1="511.6" x2="100.9" y2="509.8" stroke="#262626" stroke-width="0.6" stroke-linecap="butt"/>
<line x1="100.9" y1="399.8" x2="100.9" y2="401.6" stroke="#262626" stroke-width="0.6" stroke-linecap="butt"/>
<text x="100.9" y="520.1" font-size="7.4" fill="#262626" stroke="#262626" stroke-width="0.14" text-anchor="middle">1.5</text>
<line x1="133.7" y1="511.6" x2="133.7" y2="509.8" stroke="#262626" stroke-width="0.6" stroke-linecap="butt"/>
<line x1="133.7" y1="399.8" x2="133.7" y2="401.6" stroke="#262626" stroke-width="0.6" stroke-linecap="butt"/>
<text x="133.7" y="520.1" font-size="7.4" fill="#262626" stroke="#262626" stroke-width="0.14" text-anchor="middle">2.0</text>
<line x1="166.5" y1="511.6" x2="166.5" y2="509.8" stroke="#262626" stroke-width="0.6" stroke-linecap="butt"/>
<line x1="166.5" y1="399.8" x2="166.5" y2="401.6" stroke="#262626" stroke-width="0.6" stroke-linecap="butt"/>
<text x="166.5" y="520.1" font-size="7.4" fill="#262626" stroke="#262626" stroke-width="0.14" text-anchor="middle">2.5</text>
<line x1="35.4" y1="501.4" x2="37.2" y2="501.4" stroke="#262626" stroke-width="0.6" stroke-linecap="butt"/>
<line x1="166.5" y1="501.4" x2="164.7" y2="501.4" stroke="#262626" stroke-width="0.6" stroke-linecap="butt"/>
<text x="33.4" y="504.1" font-size="7.4" fill="#262626" stroke="#262626" stroke-width="0.14" text-anchor="end">0</text>
<line x1="35.4" y1="476" x2="37.2" y2="476" stroke="#262626" stroke-width="0.6" stroke-linecap="butt"/>
<line x1="166.5" y1="476" x2="164.7" y2="476" stroke="#262626" stroke-width="0.6" stroke-linecap="butt"/>
<text x="33.4" y="478.7" font-size="7.4" fill="#262626" stroke="#262626" stroke-width="0.14" text-anchor="end">500</text>
<line x1="35.4" y1="450.6" x2="37.2" y2="450.6" stroke="#262626" stroke-width="0.6" stroke-linecap="butt"/>
<line x1="166.5" y1="450.6" x2="164.7" y2="450.6" stroke="#262626" stroke-width="0.6" stroke-linecap="butt"/>
<text x="33.4" y="453.3" font-size="7.4" fill="#262626" stroke="#262626" stroke-width="0.14" text-anchor="end">1000</text>
<line x1="35.4" y1="425.2" x2="37.2" y2="425.2" stroke="#262626" stroke-width="0.6" stroke-linecap="butt"/>
<line x1="166.5" y1="425.2" x2="164.7" y2="425.2" stroke="#262626" stroke-width="0.6" stroke-linecap="butt"/>
<text x="33.4" y="427.9" font-size="7.4" fill="#262626" stroke="#262626" stroke-width="0.14" text-anchor="end">1500</text>
<line x1="35.4" y1="399.8" x2="37.2" y2="399.8" stroke="#262626" stroke-width="0.6" stroke-linecap="butt"/>
<line x1="166.5" y1="399.8" x2="164.7" y2="399.8" stroke="#262626" stroke-width="0.6" stroke-linecap="butt"/>
<text x="33.4" y="402.5" font-size="7.4" fill="#262626" stroke="#262626" stroke-width="0.14" text-anchor="end">2000</text>
<text x="101" y="534.4" font-size="8.5" fill="#262626" stroke="#262626" stroke-width="0.14" text-anchor="middle">Diameter (µm)</text>
<text transform="translate(12.3,456.2) rotate(-90)" font-size="8.5" fill="#262626" stroke="#262626" stroke-width="0.14" text-anchor="middle">Intrinsic velocity (nm/s)</text>
<rect x="79.8" y="394" width="14" height="2.6" fill="#000" stroke="none" stroke-width="0.8"/>
<polyline points="80.3,397.9 86,395.9 88.6,394.5 93.8,392.9" fill="none" stroke="#0072bd" stroke-width="2" stroke-linejoin="round" stroke-linecap="butt"/>
<line x1="85.6" y1="392.1" x2="85.6" y2="398.7" stroke="#0072bd" stroke-width="1.3" stroke-linecap="butt"/>
<line x1="90.1" y1="391.9" x2="90.1" y2="397.9" stroke="#0072bd" stroke-width="1.3" stroke-linecap="butt"/>
<line x1="83.8" y1="398.5" x2="87.5" y2="397.5" stroke="#0072bd" stroke-width="1.2" stroke-linecap="butt"/>
<line x1="88.3" y1="392.1" x2="92" y2="391.7" stroke="#0072bd" stroke-width="1.2" stroke-linecap="butt"/>
<text x="97.7" y="398" font-size="7.4" fill="#262626" stroke="#262626" stroke-width="0.14">Mean</text>
<rect x="123.1" y="394.1" width="15.9" height="2.4" fill="#ff0000" stroke="none" stroke-width="0.8"/>
<text x="141.8" y="398" font-size="7.4" fill="#262626" stroke="#262626" stroke-width="0.14">Median</text>
<text x="202.7" y="385.8" font-size="14" fill="#000" font-weight="bold">F</text>
<line x1="208.1" y1="511.4" x2="338.2" y2="412.8" stroke="#111" stroke-width="1.5" stroke-linecap="butt" stroke-dasharray="4,2.6"/>
<line x1="244.1" y1="497.6" x2="244.1" y2="503.9" stroke="#edb120" stroke-width="0.8" stroke-linecap="butt"/>
<circle cx="244.1" cy="500.8" r="2.0" fill="#edb120"/>
<line x1="250.1" y1="476.2" x2="250.1" y2="481.8" stroke="#edb120" stroke-width="0.8" stroke-linecap="butt"/>
<circle cx="250.1" cy="479" r="2.0" fill="#edb120"/>
<line x1="259.3" y1="470.5" x2="259.3" y2="475.4" stroke="#edb120" stroke-width="0.8" stroke-linecap="butt"/>
<circle cx="259.3" cy="473" r="2.0" fill="#edb120"/>
<line x1="273.8" y1="460.4" x2="273.8" y2="464.5" stroke="#edb120" stroke-width="0.8" stroke-linecap="butt"/>
<circle cx="273.8" cy="462.5" r="2.0" fill="#edb120"/>
<line x1="300" y1="449.8" x2="300" y2="453.2" stroke="#edb120" stroke-width="0.8" stroke-linecap="butt"/>
<circle cx="300" cy="451.5" r="2.0" fill="#edb120"/>
<line x1="330.4" y1="429.6" x2="330.4" y2="438.6" stroke="#edb120" stroke-width="0.8" stroke-linecap="butt"/>
<circle cx="330.4" cy="434.1" r="2.0" fill="#edb120"/>
<line x1="244.1" y1="495.4" x2="244.1" y2="502.1" stroke="#d95319" stroke-width="0.8" stroke-linecap="butt"/>
<circle cx="244.1" cy="498.7" r="2.0" fill="#d95319"/>
<line x1="250.1" y1="472" x2="250.1" y2="478.2" stroke="#d95319" stroke-width="0.8" stroke-linecap="butt"/>
<circle cx="250.1" cy="475.1" r="2.0" fill="#d95319"/>
<line x1="259.3" y1="464.4" x2="259.3" y2="470" stroke="#d95319" stroke-width="0.8" stroke-linecap="butt"/>
<circle cx="259.3" cy="467.2" r="2.0" fill="#d95319"/>
<line x1="273.8" y1="453.9" x2="273.8" y2="458.4" stroke="#d95319" stroke-width="0.8" stroke-linecap="butt"/>
<circle cx="273.8" cy="456.2" r="2.0" fill="#d95319"/>
<line x1="300" y1="441.6" x2="300" y2="445.7" stroke="#d95319" stroke-width="0.8" stroke-linecap="butt"/>
<circle cx="300" cy="443.6" r="2.0" fill="#d95319"/>
<line x1="330.4" y1="417.8" x2="330.4" y2="426.3" stroke="#d95319" stroke-width="0.8" stroke-linecap="butt"/>
<circle cx="330.4" cy="422" r="2.0" fill="#d95319"/>
<line x1="244.1" y1="494.3" x2="244.1" y2="502.1" stroke="#0072bd" stroke-width="0.8" stroke-linecap="butt"/>
<circle cx="244.1" cy="498.2" r="2.0" fill="#0072bd"/>
<line x1="250.1" y1="469.2" x2="250.1" y2="475.9" stroke="#0072bd" stroke-width="0.8" stroke-linecap="butt"/>
<circle cx="250.1" cy="472.5" r="2.0" fill="#0072bd"/>
<line x1="259.3" y1="461" x2="259.3" y2="466.6" stroke="#0072bd" stroke-width="0.8" stroke-linecap="butt"/>
<circle cx="259.3" cy="463.8" r="2.0" fill="#0072bd"/>
<line x1="273.8" y1="450.4" x2="273.8" y2="455.3" stroke="#0072bd" stroke-width="0.8" stroke-linecap="butt"/>
<circle cx="273.8" cy="452.8" r="2.0" fill="#0072bd"/>
<line x1="300" y1="436.8" x2="300" y2="441.3" stroke="#0072bd" stroke-width="0.8" stroke-linecap="butt"/>
<circle cx="300" cy="439" r="2.0" fill="#0072bd"/>
<line x1="330.4" y1="411.5" x2="330.4" y2="420.5" stroke="#0072bd" stroke-width="0.8" stroke-linecap="butt"/>
<circle cx="330.4" cy="416" r="2.0" fill="#0072bd"/>
<rect x="208.1" y="399.4" width="130.1" height="112" fill="none" stroke="#4d4d4d" stroke-width="0.8"/>
<line x1="208.1" y1="511.4" x2="208.1" y2="509.6" stroke="#262626" stroke-width="0.6" stroke-linecap="butt"/>
<line x1="208.1" y1="399.4" x2="208.1" y2="401.2" stroke="#262626" stroke-width="0.6" stroke-linecap="butt"/>
<text x="208.1" y="521.1" font-size="7.4" fill="#262626" stroke="#262626" stroke-width="0.14" text-anchor="middle">0</text>
<line x1="251.5" y1="511.4" x2="251.5" y2="509.6" stroke="#262626" stroke-width="0.6" stroke-linecap="butt"/>
<line x1="251.5" y1="399.4" x2="251.5" y2="401.2" stroke="#262626" stroke-width="0.6" stroke-linecap="butt"/>
<text x="251.5" y="521.1" font-size="7.4" fill="#262626" stroke="#262626" stroke-width="0.14" text-anchor="middle">0.5</text>
<line x1="294.8" y1="511.4" x2="294.8" y2="509.6" stroke="#262626" stroke-width="0.6" stroke-linecap="butt"/>
<line x1="294.8" y1="399.4" x2="294.8" y2="401.2" stroke="#262626" stroke-width="0.6" stroke-linecap="butt"/>
<text x="294.8" y="521.1" font-size="7.4" fill="#262626" stroke="#262626" stroke-width="0.14" text-anchor="middle">1.0</text>
<line x1="338.2" y1="511.4" x2="338.2" y2="509.6" stroke="#262626" stroke-width="0.6" stroke-linecap="butt"/>
<line x1="338.2" y1="399.4" x2="338.2" y2="401.2" stroke="#262626" stroke-width="0.6" stroke-linecap="butt"/>
<text x="338.2" y="521.1" font-size="7.4" fill="#262626" stroke="#262626" stroke-width="0.14" text-anchor="middle">1.5</text>
<line x1="208.1" y1="511.4" x2="209.9" y2="511.4" stroke="#262626" stroke-width="0.6" stroke-linecap="butt"/>
<line x1="338.2" y1="511.4" x2="336.4" y2="511.4" stroke="#262626" stroke-width="0.6" stroke-linecap="butt"/>
<text x="204.9" y="514.1" font-size="7.4" fill="#262626" stroke="#262626" stroke-width="0.14" text-anchor="end">0</text>
<line x1="208.1" y1="489" x2="209.9" y2="489" stroke="#262626" stroke-width="0.6" stroke-linecap="butt"/>
<line x1="338.2" y1="489" x2="336.4" y2="489" stroke="#262626" stroke-width="0.6" stroke-linecap="butt"/>
<text x="204.9" y="491.7" font-size="7.4" fill="#262626" stroke="#262626" stroke-width="0.14" text-anchor="end">200</text>
<line x1="208.1" y1="466.6" x2="209.9" y2="466.6" stroke="#262626" stroke-width="0.6" stroke-linecap="butt"/>
<line x1="338.2" y1="466.6" x2="336.4" y2="466.6" stroke="#262626" stroke-width="0.6" stroke-linecap="butt"/>
<text x="204.9" y="469.3" font-size="7.4" fill="#262626" stroke="#262626" stroke-width="0.14" text-anchor="end">400</text>
<line x1="208.1" y1="444.2" x2="209.9" y2="444.2" stroke="#262626" stroke-width="0.6" stroke-linecap="butt"/>
<line x1="338.2" y1="444.2" x2="336.4" y2="444.2" stroke="#262626" stroke-width="0.6" stroke-linecap="butt"/>
<text x="204.9" y="446.9" font-size="7.4" fill="#262626" stroke="#262626" stroke-width="0.14" text-anchor="end">600</text>
<line x1="208.1" y1="421.8" x2="209.9" y2="421.8" stroke="#262626" stroke-width="0.6" stroke-linecap="butt"/>
<line x1="338.2" y1="421.8" x2="336.4" y2="421.8" stroke="#262626" stroke-width="0.6" stroke-linecap="butt"/>
<text x="204.9" y="424.5" font-size="7.4" fill="#262626" stroke="#262626" stroke-width="0.14" text-anchor="end">800</text>
<line x1="208.1" y1="399.4" x2="209.9" y2="399.4" stroke="#262626" stroke-width="0.6" stroke-linecap="butt"/>
<line x1="338.2" y1="399.4" x2="336.4" y2="399.4" stroke="#262626" stroke-width="0.6" stroke-linecap="butt"/>
<text x="204.9" y="402.1" font-size="7.4" fill="#262626" stroke="#262626" stroke-width="0.14" text-anchor="end">1000</text>
<text x="273.7" y="534.7" font-size="8.5" fill="#262626" stroke="#262626" stroke-width="0.14" text-anchor="middle">1/Diameter (µm<tspan font-size="5.5" dy="-3">-1</tspan><tspan dy="3">)</tspan></text>
<text transform="translate(184.2,455) rotate(-90)" font-size="8.5" fill="#262626" stroke="#262626" stroke-width="0.14" text-anchor="middle">Mean intrinsic velocity (nm/s)</text>
<rect x="209.4" y="401" width="86.2" height="28.1" fill="#fff" stroke="#333" stroke-width="0.6"/>
<line x1="216.8" y1="402.4" x2="216.8" y2="407.6" stroke="#0072bd" stroke-width="0.7" stroke-linecap="butt"/>
<circle cx="216.8" cy="405" r="1.6" fill="#0072bd"/>
<text x="225.2" y="407" font-size="5.5" fill="#111" stroke="#111" stroke-width="0.1">Data (top 10%)</text>
<line x1="216.8" y1="409.4" x2="216.8" y2="414.6" stroke="#d95319" stroke-width="0.7" stroke-linecap="butt"/>
<circle cx="216.8" cy="412" r="1.6" fill="#d95319"/>
<text x="225.2" y="414" font-size="5.5" fill="#111" stroke="#111" stroke-width="0.1">Data (top 20%)</text>
<line x1="216.8" y1="416.5" x2="216.8" y2="421.7" stroke="#edb120" stroke-width="0.7" stroke-linecap="butt"/>
<circle cx="216.8" cy="419.1" r="1.6" fill="#edb120"/>
<text x="225.2" y="421.1" font-size="5.5" fill="#111" stroke="#111" stroke-width="0.1">Data (top 50%)</text>
<line x1="211.5" y1="425.7" x2="222.5" y2="425.7" stroke="#111" stroke-width="1.4" stroke-linecap="butt" stroke-dasharray="3.2,2"/>
<text x="225.2" y="427.7" font-size="5.5" fill="#111" stroke="#111" stroke-width="0.1">Linear fit (top 20%), r=0.959</text>
<text x="389.3" y="385.8" font-size="14" fill="#000" font-weight="bold">G</text>
<line x1="389.9" y1="446.5" x2="521.3" y2="446.5" stroke="#f39a5d" stroke-width="1.1" stroke-linecap="butt" stroke-dasharray="3.6,2.4"/>
<line x1="389.9" y1="492.9" x2="521.3" y2="492.9" stroke="#f39a5d" stroke-width="1.1" stroke-linecap="butt" stroke-dasharray="3.6,2.4"/>
<polygon points="401.1,420.7 401,425 400.9,431.1 400.8,437.7 400.5,443.4 400.1,447.7 399.5,451.4 398.9,454.9 398.3,458.5 397.7,462.4 397.1,466.4 396.5,470.2 396,473.6 395.6,476.3 395.2,478.5 395,480.6 395,482.7 395.4,485 396,487.2 396.8,489.4 397.5,491.7 398.2,494 399,496.2 399.7,498.5 400.3,500.8 400.7,503.4 400.9,506.3 401,508.8 401.1,510.6 401.5,510.6 401.6,508.8 401.7,506.3 401.9,503.4 402.3,500.8 402.9,498.5 403.6,496.2 404.4,494 405.1,491.7 405.8,489.4 406.6,487.2 407.2,485 407.6,482.7 407.6,480.6 407.4,478.5 407,476.3 406.6,473.6 406.1,470.2 405.5,466.4 404.9,462.4 404.3,458.5 403.7,454.9 403.1,451.4 402.5,447.7 402.1,443.4 401.8,437.7 401.7,431.1 401.6,425 401.5,420.7" fill="#c5e0a3" stroke="#8c8c8c" stroke-width="0.5"/>
<polygon points="415.5,401 415.4,407.7 415.4,417.5 415.3,427.7 415.1,435.8 414.9,441 414.7,444.6 414.4,447.6 414,450.9 413.4,454.8 412.7,458.7 411.9,462.5 411.2,466 410.6,469 409.9,471.7 409.5,474.2 409.2,476.6 409.2,479 409.4,481.3 409.9,483.6 410.4,485.7 411.2,487.7 412.2,489.6 413.2,491.5 414,493.3 414.5,495 414.8,496.7 415,498.3 415.2,500 415.3,501.9 415.4,503.9 415.5,505.7 415.5,506.9 415.9,506.9 415.9,505.7 416,503.9 416.1,501.9 416.2,500 416.4,498.3 416.6,496.7 416.9,495 417.4,493.3 418.2,491.5 419.2,489.6 420.2,487.7 421,485.7 421.5,483.6 421.9,481.3 422.2,479 422.2,476.6 421.9,474.2 421.4,471.7 420.8,469 420.2,466 419.5,462.5 418.7,458.7 418,454.8 417.4,450.9 417,447.6 416.7,444.6 416.5,441 416.3,435.8 416.1,427.7 416,417.5 416,407.7 415.9,401" fill="#c5e0a3" stroke="#8c8c8c" stroke-width="0.5"/>
<polygon points="438.3,400.6 438.3,404.2 438.3,409.5 438.3,415.2 438.2,420 438.1,423.7 438,426.9 437.8,429.9 437.5,432.8 437.1,435.6 436.5,438.1 435.9,440.7 435.3,443.4 434.7,446.3 434.1,449.4 433.5,452.4 433,455.5 432.6,458.5 432.2,461.6 432,464.6 431.9,467.6 432,470.7 432.2,473.8 432.5,476.8 432.9,479.6 433.4,482.1 434,484.4 434.7,486.6 435.3,488.7 435.9,490.7 436.5,492.6 437.1,494.4 437.5,496.3 437.8,498.2 438,500.1 438.2,502 438.3,503.8 438.4,505.7 438.4,507.8 438.4,509.6 438.4,510.8 439,510.8 439,509.6 439,507.8 439,505.7 439.1,503.8 439.2,502 439.4,500.1 439.6,498.2 439.9,496.3 440.3,494.4 440.9,492.6 441.5,490.7 442.1,488.7 442.7,486.6 443.4,484.4 444,482.1 444.5,479.6 444.9,476.8 445.2,473.8 445.4,470.7 445.5,467.6 445.4,464.6 445.2,461.6 444.8,458.5 444.4,455.5 443.9,452.4 443.3,449.4 442.7,446.3 442.1,443.4 441.5,440.7 440.9,438.1 440.3,435.6 439.9,432.8 439.6,429.9 439.4,426.9 439.3,423.7 439.2,420 439.1,415.2 439.1,409.5 439.1,404.2 439.1,400.6" fill="#c5e0a3" stroke="#8c8c8c" stroke-width="0.5"/>
<polygon points="462.7,400.6 462.7,403.3 462.7,407.2 462.7,411.4 462.6,415 462.5,417.8 462.4,420.3 462.2,422.7 461.9,425.2 461.4,427.8 460.9,430.4 460.2,433 459.6,435.8 459,438.8 458.3,441.9 457.7,444.9 457.2,447.9 456.8,450.6 456.5,453.2 456.2,455.8 456.2,458.5 456.4,461.4 456.7,464.5 457.2,467.5 457.7,470.6 458.3,473.6 458.9,476.7 459.6,479.7 460.2,482.7 460.7,485.8 461.2,488.9 461.7,492 462,494.8 462.2,497.3 462.4,499.6 462.5,501.8 462.6,503.8 462.7,505.9 462.7,507.9 462.7,509.6 462.7,510.8 463.3,510.8 463.3,509.6 463.3,507.9 463.3,505.9 463.4,503.8 463.5,501.8 463.6,499.6 463.8,497.3 464,494.8 464.3,492 464.8,488.9 465.3,485.8 465.8,482.7 466.4,479.7 467.1,476.7 467.7,473.6 468.3,470.6 468.8,467.5 469.3,464.5 469.6,461.4 469.8,458.5 469.8,455.8 469.5,453.2 469.2,450.6 468.8,447.9 468.3,444.9 467.7,441.9 467,438.8 466.4,435.8 465.8,433 465.1,430.4 464.6,427.8 464.1,425.2 463.8,422.7 463.6,420.3 463.5,417.8 463.4,415 463.3,411.4 463.3,407.2 463.3,403.3 463.3,400.6" fill="#c5e0a3" stroke="#8c8c8c" stroke-width="0.5"/>
<polygon points="485.5,400.6 485.4,402.8 485.2,405.9 485,409.5 484.6,413.1 484,416.7 483.3,420.5 482.6,424.4 481.9,428.2 481.3,432 480.8,435.9 480.3,439.7 479.9,443.4 479.5,446.9 479.2,450.3 479,453.6 479,457 479.2,460.4 479.5,463.9 479.9,467.3 480.4,470.6 480.9,473.7 481.4,476.7 482,479.7 482.5,482.7 483,485.8 483.5,488.9 484,492 484.4,494.8 484.7,497.3 485,499.6 485.1,501.8 485.3,503.8 485.4,505.9 485.5,507.9 485.5,509.6 485.5,510.8 485.9,510.8 485.9,509.6 485.9,507.9 486,505.9 486.1,503.8 486.3,501.8 486.4,499.6 486.7,497.3 487,494.8 487.4,492 487.9,488.9 488.4,485.8 488.9,482.7 489.4,479.7 490,476.7 490.5,473.7 491,470.6 491.5,467.3 491.9,463.9 492.2,460.4 492.4,457 492.4,453.6 492.2,450.3 491.9,446.9 491.5,443.4 491.1,439.7 490.6,435.9 490.1,432 489.5,428.2 488.8,424.4 488.1,420.5 487.4,416.7 486.8,413.1 486.4,409.5 486.2,405.9 486,402.8 485.9,400.6" fill="#c5e0a3" stroke="#8c8c8c" stroke-width="0.5"/>
<polygon points="506.7,402.5 506.6,405.3 506.5,409.2 506.2,413.7 505.8,417.7 505,421.2 503.9,424.6 502.9,427.9 502,431.3 501.4,434.8 500.9,438.3 500.5,441.7 500.3,444.9 500.2,447.7 500.2,450.3 500.4,452.8 500.6,455.5 500.9,458.3 501.2,461.3 501.6,464.3 502.1,467.6 502.6,471.2 503.2,475.2 503.8,479.1 504.3,482.7 504.7,486 505.1,489.1 505.5,492.1 505.8,494.8 506,497.3 506.2,499.6 506.4,501.8 506.5,503.8 506.6,505.9 506.6,507.9 506.7,509.6 506.7,510.8 507.1,510.8 507.1,509.6 507.2,507.9 507.2,505.9 507.3,503.8 507.4,501.8 507.6,499.6 507.8,497.3 508,494.8 508.3,492.1 508.7,489.1 509.1,486 509.5,482.7 510,479.1 510.6,475.2 511.2,471.2 511.7,467.6 512.2,464.3 512.6,461.3 512.9,458.3 513.2,455.5 513.4,452.8 513.5,450.3 513.6,447.7 513.5,444.9 513.3,441.7 512.9,438.3 512.4,434.8 511.8,431.3 510.9,427.9 509.8,424.6 508.8,421.2 508,417.7 507.5,413.7 507.3,409.2 507.2,405.3 507.1,402.5" fill="#c5e0a3" stroke="#8c8c8c" stroke-width="0.5"/>
<rect x="395.7" y="474.4" width="11.2" height="2.2" fill="#000" stroke="none" stroke-width="0.8"/>
<rect x="395.7" y="477" width="11.2" height="2.4" fill="#ff0000" stroke="none" stroke-width="0.8"/>
<rect x="409.9" y="468.7" width="11.6" height="2.2" fill="#000" stroke="none" stroke-width="0.8"/>
<rect x="409.9" y="471.8" width="11.6" height="2.4" fill="#ff0000" stroke="none" stroke-width="0.8"/>
<rect x="432.5" y="463.5" width="12.4" height="2.2" fill="#000" stroke="none" stroke-width="0.8"/>
<rect x="432.5" y="466" width="12.4" height="2.4" fill="#ff0000" stroke="none" stroke-width="0.8"/>
<rect x="457.2" y="457.6" width="11.6" height="2.2" fill="#000" stroke="none" stroke-width="0.8"/>
<rect x="457.2" y="457.5" width="11.6" height="2.4" fill="#ff0000" stroke="none" stroke-width="0.8"/>
<rect x="479.7" y="454.7" width="12" height="2.2" fill="#000" stroke="none" stroke-width="0.8"/>
<rect x="479.7" y="456.3" width="12" height="2.4" fill="#ff0000" stroke="none" stroke-width="0.8"/>
<rect x="501.4" y="453.8" width="11" height="2.4" fill="#ff0000" stroke="none" stroke-width="0.8"/>
<rect x="501.4" y="457" width="11" height="2.2" fill="#000" stroke="none" stroke-width="0.8"/>
<rect x="389.9" y="400.2" width="131.4" height="111.2" fill="none" stroke="#4d4d4d" stroke-width="0.8"/>
<line x1="389.9" y1="511.4" x2="389.9" y2="509.6" stroke="#262626" stroke-width="0.6" stroke-linecap="butt"/>
<line x1="389.9" y1="400.2" x2="389.9" y2="402" stroke="#262626" stroke-width="0.6" stroke-linecap="butt"/>
<text x="389.9" y="521.1" font-size="7.4" fill="#262626" stroke="#262626" stroke-width="0.14" text-anchor="middle">0.5</text>
<line x1="422.8" y1="511.4" x2="422.8" y2="509.6" stroke="#262626" stroke-width="0.6" stroke-linecap="butt"/>
<line x1="422.8" y1="400.2" x2="422.8" y2="402" stroke="#262626" stroke-width="0.6" stroke-linecap="butt"/>
<text x="422.8" y="521.1" font-size="7.4" fill="#262626" stroke="#262626" stroke-width="0.14" text-anchor="middle">1.0</text>
<line x1="455.6" y1="511.4" x2="455.6" y2="509.6" stroke="#262626" stroke-width="0.6" stroke-linecap="butt"/>
<line x1="455.6" y1="400.2" x2="455.6" y2="402" stroke="#262626" stroke-width="0.6" stroke-linecap="butt"/>
<text x="455.6" y="521.1" font-size="7.4" fill="#262626" stroke="#262626" stroke-width="0.14" text-anchor="middle">1.5</text>
<line x1="488.4" y1="511.4" x2="488.4" y2="509.6" stroke="#262626" stroke-width="0.6" stroke-linecap="butt"/>
<line x1="488.4" y1="400.2" x2="488.4" y2="402" stroke="#262626" stroke-width="0.6" stroke-linecap="butt"/>
<text x="488.4" y="521.1" font-size="7.4" fill="#262626" stroke="#262626" stroke-width="0.14" text-anchor="middle">2.0</text>
<line x1="521.3" y1="511.4" x2="521.3" y2="509.6" stroke="#262626" stroke-width="0.6" stroke-linecap="butt"/>
<line x1="521.3" y1="400.2" x2="521.3" y2="402" stroke="#262626" stroke-width="0.6" stroke-linecap="butt"/>
<text x="521.3" y="521.1" font-size="7.4" fill="#262626" stroke="#262626" stroke-width="0.14" text-anchor="middle">2.5</text>
<line x1="389.9" y1="511.4" x2="391.7" y2="511.4" stroke="#262626" stroke-width="0.6" stroke-linecap="butt"/>
<line x1="521.3" y1="511.4" x2="519.5" y2="511.4" stroke="#262626" stroke-width="0.6" stroke-linecap="butt"/>
<text x="387.4" y="514.1" font-size="7.4" fill="#262626" stroke="#262626" stroke-width="0.14" text-anchor="end">-0.1</text>
<line x1="389.9" y1="492.9" x2="391.7" y2="492.9" stroke="#262626" stroke-width="0.6" stroke-linecap="butt"/>
<line x1="521.3" y1="492.9" x2="519.5" y2="492.9" stroke="#262626" stroke-width="0.6" stroke-linecap="butt"/>
<text x="387.4" y="495.5" font-size="7.4" fill="#262626" stroke="#262626" stroke-width="0.14" text-anchor="end">0</text>
<line x1="389.9" y1="474.3" x2="391.7" y2="474.3" stroke="#262626" stroke-width="0.6" stroke-linecap="butt"/>
<line x1="521.3" y1="474.3" x2="519.5" y2="474.3" stroke="#262626" stroke-width="0.6" stroke-linecap="butt"/>
<text x="387.4" y="477" font-size="7.4" fill="#262626" stroke="#262626" stroke-width="0.14" text-anchor="end">0.1</text>
<line x1="389.9" y1="455.8" x2="391.7" y2="455.8" stroke="#262626" stroke-width="0.6" stroke-linecap="butt"/>
<line x1="521.3" y1="455.8" x2="519.5" y2="455.8" stroke="#262626" stroke-width="0.6" stroke-linecap="butt"/>
<text x="387.4" y="458.5" font-size="7.4" fill="#262626" stroke="#262626" stroke-width="0.14" text-anchor="end">0.2</text>
<line x1="389.9" y1="437.3" x2="391.7" y2="437.3" stroke="#262626" stroke-width="0.6" stroke-linecap="butt"/>
<line x1="521.3" y1="437.3" x2="519.5" y2="437.3" stroke="#262626" stroke-width="0.6" stroke-linecap="butt"/>
<text x="387.4" y="439.9" font-size="7.4" fill="#262626" stroke="#262626" stroke-width="0.14" text-anchor="end">0.3</text>
<line x1="389.9" y1="418.7" x2="391.7" y2="418.7" stroke="#262626" stroke-width="0.6" stroke-linecap="butt"/>
<line x1="521.3" y1="418.7" x2="519.5" y2="418.7" stroke="#262626" stroke-width="0.6" stroke-linecap="butt"/>
<text x="387.4" y="421.4" font-size="7.4" fill="#262626" stroke="#262626" stroke-width="0.14" text-anchor="end">0.4</text>
<line x1="389.9" y1="400.2" x2="391.7" y2="400.2" stroke="#262626" stroke-width="0.6" stroke-linecap="butt"/>
<line x1="521.3" y1="400.2" x2="519.5" y2="400.2" stroke="#262626" stroke-width="0.6" stroke-linecap="butt"/>
<text x="387.4" y="402.9" font-size="7.4" fill="#262626" stroke="#262626" stroke-width="0.14" text-anchor="end">0.5</text>
<text x="455.5" y="533.9" font-size="8.5" fill="#262626" stroke="#262626" stroke-width="0.14" text-anchor="middle">Diameter (µm)</text>
<text transform="translate(369.6,456) rotate(-90)" font-size="8.5" fill="#262626" stroke="#262626" stroke-width="0.14" text-anchor="middle">Proportion of transport segment</text>
<line x1="521.3" y1="446.5" x2="548.8" y2="400" stroke="#f39a5d" stroke-width="1.1" stroke-linecap="butt" stroke-dasharray="3.6,2.4"/>
<line x1="521.3" y1="492.9" x2="548.8" y2="511.2" stroke="#f39a5d" stroke-width="1.1" stroke-linecap="butt" stroke-dasharray="3.6,2.4"/>
<polygon points="558.9,400.3 558.7,403.9 558.4,409.1 558.1,415 557.8,420.7 557.5,426.2 557.1,431.9 556.7,437.7 556.3,443.4 555.9,449.2 555.5,455.1 555.1,460.9 554.8,466.1 554.4,470.7 554.1,475 553.8,478.9 553.7,482.7 553.8,486.3 554,489.6 554.4,492.9 554.8,496.3 555.3,500.2 556,504.5 556.7,508.3 557.1,510.9 563.1,510.9 563.5,508.3 564.2,504.5 564.9,500.2 565.4,496.3 565.8,492.9 566.2,489.6 566.4,486.3 566.5,482.7 566.4,478.9 566.1,475 565.8,470.7 565.4,466.1 565.1,460.9 564.7,455.1 564.3,449.2 563.9,443.4 563.5,437.7 563.1,431.9 562.7,426.2 562.4,420.7 562.1,415 561.8,409.1 561.5,403.9 561.3,400.3" fill="#c5e0a3" stroke="#8c8c8c" stroke-width="0.5"/>
<polygon points="573.4,400.3 573.4,403.9 573.3,409.1 573.2,415 573,420.7 572.7,426.2 572.4,431.9 572,437.7 571.5,443.4 570.9,449.3 570.3,455.4 569.7,461.2 569.2,466.1 568.8,469.7 568.5,472.4 568.3,475 568.4,478.2 568.8,482.4 569.4,487.1 570.1,491.9 570.7,496.3 571.3,500.5 572,504.7 572.6,508.4 573,510.9 576,510.9 576.4,508.4 577,504.7 577.7,500.5 578.3,496.3 578.9,491.9 579.6,487.1 580.2,482.4 580.6,478.2 580.7,475 580.5,472.4 580.2,469.7 579.8,466.1 579.3,461.2 578.7,455.4 578.1,449.3 577.5,443.4 577,437.7 576.6,431.9 576.3,426.2 576,420.7 575.8,415 575.7,409.1 575.6,403.9 575.6,400.3" fill="#c5e0a3" stroke="#8c8c8c" stroke-width="0.5"/>
<polygon points="593.4,400.3 593.3,402.2 593.1,404.8 592.8,408.4 592.6,413.1 592.3,419.6 592,427.6 591.7,435.9 591.5,443.4 591.4,449.6 591.3,455.2 591.3,460.6 591.5,466.1 591.8,472 592.3,477.9 592.9,483.7 593.4,488.8 594,493.3 594.5,497.3 595.1,500.9 595.6,503.9 596,506.4 596.3,508.3 596.5,509.8 596.7,510.9 599.1,510.9 599.3,509.8 599.5,508.3 599.8,506.4 600.2,503.9 600.7,500.9 601.2,497.3 601.8,493.3 602.4,488.8 602.9,483.7 603.5,477.9 604,472 604.3,466.1 604.5,460.6 604.5,455.2 604.4,449.6 604.3,443.4 604.1,435.9 603.8,427.6 603.5,419.6 603.2,413.1 603,408.4 602.7,404.8 602.5,402.2 602.4,400.3" fill="#c5e0a3" stroke="#8c8c8c" stroke-width="0.5"/>
<polygon points="616.1,400.3 616.1,402.5 616.1,405.8 616.1,409.4 616,413.1 615.8,416.6 615.6,420.1 615.4,423.9 615.4,428.3 615.6,433.5 616,439.2 616.5,445.2 616.9,451 617.3,456.7 617.6,462.3 618,467.9 618.4,473.6 618.9,479.5 619.4,485.5 619.9,491.2 620.3,496.3 620.6,500.9 620.9,505 621.1,508.5 621.2,510.9 622.4,510.9 622.5,508.5 622.7,505 623,500.9 623.3,496.3 623.7,491.2 624.2,485.5 624.7,479.5 625.2,473.6 625.6,467.9 626,462.3 626.3,456.7 626.7,451 627.1,445.2 627.6,439.2 628,433.5 628.2,428.3 628.2,423.9 628,420.1 627.8,416.6 627.6,413.1 627.5,409.4 627.5,405.8 627.5,402.5 627.5,400.3" fill="#c5e0a3" stroke="#8c8c8c" stroke-width="0.5"/>
<polygon points="639.3,400.3 639,404.8 638.7,411.1 638.3,418.3 638.2,425.2 638.4,431.7 638.8,438.2 639.2,444.8 639.7,451 640.2,456.9 640.7,462.5 641.3,468 641.8,473.6 642.3,479.5 642.8,485.5 643.2,491.2 643.6,496.3 643.8,500.9 644,505 644.1,508.5 644.2,510.9 645.4,510.9 645.5,508.5 645.6,505 645.8,500.9 646,496.3 646.4,491.2 646.8,485.5 647.3,479.5 647.8,473.6 648.3,468 648.9,462.5 649.4,456.9 649.9,451 650.4,444.8 650.8,438.2 651.2,431.7 651.4,425.2 651.3,418.3 650.9,411.1 650.6,404.8 650.3,400.3" fill="#c5e0a3" stroke="#8c8c8c" stroke-width="0.5"/>
<polygon points="659.4,400.3 659.4,403.9 659.4,409.1 659.4,415 659.6,420.7 660,426.2 660.5,431.9 661,437.7 661.5,443.4 661.8,449.1 662.1,454.8 662.4,460.4 662.7,466.1 663.1,471.8 663.6,477.5 664.1,483.2 664.5,488.8 664.8,494.9 665.1,501.3 665.3,506.9 665.5,510.9 666.5,510.9 666.7,506.9 666.9,501.3 667.2,494.9 667.5,488.8 667.9,483.2 668.4,477.5 668.9,471.8 669.3,466.1 669.6,460.4 669.9,454.8 670.2,449.1 670.5,443.4 671,437.7 671.5,431.9 672,426.2 672.4,420.7 672.6,415 672.6,409.1 672.6,403.9 672.6,400.3" fill="#c5e0a3" stroke="#8c8c8c" stroke-width="0.5"/>
<rect x="554.4" y="467.8" width="11.4" height="2.2" fill="#000" stroke="none" stroke-width="0.8"/>
<rect x="568.7" y="454.4" width="11.6" height="2.2" fill="#000" stroke="none" stroke-width="0.8"/>
<rect x="591.7" y="442.6" width="12.4" height="2.2" fill="#000" stroke="none" stroke-width="0.8"/>
<rect x="615.4" y="427.6" width="12.8" height="2.2" fill="#000" stroke="none" stroke-width="0.8"/>
<rect x="638.4" y="421.9" width="12.8" height="2.2" fill="#000" stroke="none" stroke-width="0.8"/>
<rect x="660.1" y="426.3" width="11.8" height="2.2" fill="#000" stroke="none" stroke-width="0.8"/>
<rect x="554.4" y="474.9" width="11.4" height="2.4" fill="#ff0000" stroke="none" stroke-width="0.8"/>
<rect x="568.7" y="463.8" width="11.6" height="2.4" fill="#ff0000" stroke="none" stroke-width="0.8"/>
<rect x="591.7" y="448.1" width="12.4" height="2.4" fill="#ff0000" stroke="none" stroke-width="0.8"/>
<rect x="615.4" y="427.5" width="12.8" height="2.4" fill="#ff0000" stroke="none" stroke-width="0.8"/>
<rect x="638.4" y="424.4" width="12.8" height="2.4" fill="#ff0000" stroke="none" stroke-width="0.8"/>
<rect x="660.1" y="418.8" width="11.8" height="2.4" fill="#ff0000" stroke="none" stroke-width="0.8"/>
<polyline points="560.1,468.9 574.5,455.5 597.9,443.8 621.8,428.7 644.8,423 666,427.4" fill="none" stroke="#0072bd" stroke-width="2" stroke-linejoin="round" stroke-linecap="round"/>
<line x1="560.1" y1="462.5" x2="560.1" y2="475.3" stroke="#0072bd" stroke-width="1.1" stroke-linecap="butt"/>
<line x1="558.8" y1="462.5" x2="561.4" y2="462.5" stroke="#0072bd" stroke-width="0.9" stroke-linecap="butt"/>
<line x1="558.8" y1="475.3" x2="561.4" y2="475.3" stroke="#0072bd" stroke-width="0.9" stroke-linecap="butt"/>
<circle cx="560.1" cy="468.9" r="1.8" fill="#0072bd"/>
<line x1="574.5" y1="452.5" x2="574.5" y2="458.5" stroke="#0072bd" stroke-width="1.1" stroke-linecap="butt"/>
<line x1="573.2" y1="452.5" x2="575.8" y2="452.5" stroke="#0072bd" stroke-width="0.9" stroke-linecap="butt"/>
<line x1="573.2" y1="458.5" x2="575.8" y2="458.5" stroke="#0072bd" stroke-width="0.9" stroke-linecap="butt"/>
<circle cx="574.5" cy="455.5" r="1.8" fill="#0072bd"/>
<line x1="597.9" y1="440.8" x2="597.9" y2="446.7" stroke="#0072bd" stroke-width="1.1" stroke-linecap="butt"/>
<line x1="596.6" y1="440.8" x2="599.2" y2="440.8" stroke="#0072bd" stroke-width="0.9" stroke-linecap="butt"/>
<line x1="596.6" y1="446.7" x2="599.2" y2="446.7" stroke="#0072bd" stroke-width="0.9" stroke-linecap="butt"/>
<circle cx="597.9" cy="443.8" r="1.8" fill="#0072bd"/>
<line x1="621.8" y1="425.2" x2="621.8" y2="432.8" stroke="#0072bd" stroke-width="1.1" stroke-linecap="butt"/>
<line x1="620.5" y1="425.2" x2="623.1" y2="425.2" stroke="#0072bd" stroke-width="0.9" stroke-linecap="butt"/>
<line x1="620.5" y1="432.8" x2="623.1" y2="432.8" stroke="#0072bd" stroke-width="0.9" stroke-linecap="butt"/>
<circle cx="621.8" cy="428.7" r="1.8" fill="#0072bd"/>
<line x1="644.8" y1="416.9" x2="644.8" y2="429.8" stroke="#0072bd" stroke-width="1.1" stroke-linecap="butt"/>
<line x1="643.5" y1="416.9" x2="646.1" y2="416.9" stroke="#0072bd" stroke-width="0.9" stroke-linecap="butt"/>
<line x1="643.5" y1="429.8" x2="646.1" y2="429.8" stroke="#0072bd" stroke-width="0.9" stroke-linecap="butt"/>
<circle cx="644.8" cy="423" r="1.8" fill="#0072bd"/>
<line x1="666" y1="413.1" x2="666" y2="441.9" stroke="#0072bd" stroke-width="1.1" stroke-linecap="butt"/>
<line x1="664.7" y1="413.1" x2="667.3" y2="413.1" stroke="#0072bd" stroke-width="0.9" stroke-linecap="butt"/>
<line x1="664.7" y1="441.9" x2="667.3" y2="441.9" stroke="#0072bd" stroke-width="0.9" stroke-linecap="butt"/>
<circle cx="666" cy="427.4" r="1.8" fill="#0072bd"/>
<rect x="548.8" y="400" width="131.2" height="111.2" fill="none" stroke="#4d4d4d" stroke-width="0.8"/>
<line x1="548.8" y1="511.2" x2="548.8" y2="509.4" stroke="#262626" stroke-width="0.6" stroke-linecap="butt"/>
<line x1="548.8" y1="400" x2="548.8" y2="401.8" stroke="#262626" stroke-width="0.6" stroke-linecap="butt"/>
<text x="548.8" y="521" font-size="7.4" fill="#262626" stroke="#262626" stroke-width="0.14" text-anchor="middle">0.5</text>
<line x1="581.6" y1="511.2" x2="581.6" y2="509.4" stroke="#262626" stroke-width="0.6" stroke-linecap="butt"/>
<line x1="581.6" y1="400" x2="581.6" y2="401.8" stroke="#262626" stroke-width="0.6" stroke-linecap="butt"/>
<text x="581.6" y="521" font-size="7.4" fill="#262626" stroke="#262626" stroke-width="0.14" text-anchor="middle">1.0</text>
<line x1="614.4" y1="511.2" x2="614.4" y2="509.4" stroke="#262626" stroke-width="0.6" stroke-linecap="butt"/>
<line x1="614.4" y1="400" x2="614.4" y2="401.8" stroke="#262626" stroke-width="0.6" stroke-linecap="butt"/>
<text x="614.4" y="521" font-size="7.4" fill="#262626" stroke="#262626" stroke-width="0.14" text-anchor="middle">1.5</text>
<line x1="647.2" y1="511.2" x2="647.2" y2="509.4" stroke="#262626" stroke-width="0.6" stroke-linecap="butt"/>
<line x1="647.2" y1="400" x2="647.2" y2="401.8" stroke="#262626" stroke-width="0.6" stroke-linecap="butt"/>
<text x="647.2" y="521" font-size="7.4" fill="#262626" stroke="#262626" stroke-width="0.14" text-anchor="middle">2.0</text>
<line x1="680" y1="511.2" x2="680" y2="509.4" stroke="#262626" stroke-width="0.6" stroke-linecap="butt"/>
<line x1="680" y1="400" x2="680" y2="401.8" stroke="#262626" stroke-width="0.6" stroke-linecap="butt"/>
<text x="680" y="521" font-size="7.4" fill="#262626" stroke="#262626" stroke-width="0.14" text-anchor="middle">2.5</text>
<line x1="548.8" y1="511.2" x2="550.5" y2="511.2" stroke="#262626" stroke-width="0.6" stroke-linecap="butt"/>
<line x1="680" y1="511.2" x2="678.2" y2="511.2" stroke="#262626" stroke-width="0.6" stroke-linecap="butt"/>
<text x="546.5" y="513.9" font-size="7.4" fill="#262626" stroke="#262626" stroke-width="0.14" text-anchor="end">0</text>
<line x1="548.8" y1="489" x2="550.5" y2="489" stroke="#262626" stroke-width="0.6" stroke-linecap="butt"/>
<line x1="680" y1="489" x2="678.2" y2="489" stroke="#262626" stroke-width="0.6" stroke-linecap="butt"/>
<text x="546.5" y="491.7" font-size="7.4" fill="#262626" stroke="#262626" stroke-width="0.14" text-anchor="end">0.05</text>
<line x1="548.8" y1="466.8" x2="550.5" y2="466.8" stroke="#262626" stroke-width="0.6" stroke-linecap="butt"/>
<line x1="680" y1="466.8" x2="678.2" y2="466.8" stroke="#262626" stroke-width="0.6" stroke-linecap="butt"/>
<text x="546.5" y="469.4" font-size="7.4" fill="#262626" stroke="#262626" stroke-width="0.14" text-anchor="end">0.1</text>
<line x1="548.8" y1="444.5" x2="550.5" y2="444.5" stroke="#262626" stroke-width="0.6" stroke-linecap="butt"/>
<line x1="680" y1="444.5" x2="678.2" y2="444.5" stroke="#262626" stroke-width="0.6" stroke-linecap="butt"/>
<text x="546.5" y="447.2" font-size="7.4" fill="#262626" stroke="#262626" stroke-width="0.14" text-anchor="end">0.15</text>
<line x1="548.8" y1="422.2" x2="550.5" y2="422.2" stroke="#262626" stroke-width="0.6" stroke-linecap="butt"/>
<line x1="680" y1="422.2" x2="678.2" y2="422.2" stroke="#262626" stroke-width="0.6" stroke-linecap="butt"/>
<text x="546.5" y="424.9" font-size="7.4" fill="#262626" stroke="#262626" stroke-width="0.14" text-anchor="end">0.2</text>
<line x1="548.8" y1="400" x2="550.5" y2="400" stroke="#262626" stroke-width="0.6" stroke-linecap="butt"/>
<line x1="680" y1="400" x2="678.2" y2="400" stroke="#262626" stroke-width="0.6" stroke-linecap="butt"/>
<text x="546.5" y="402.7" font-size="7.4" fill="#262626" stroke="#262626" stroke-width="0.14" text-anchor="end">0.25</text>
<text x="614.5" y="534.4" font-size="8.5" fill="#262626" stroke="#262626" stroke-width="0.14" text-anchor="middle">Diameter (µm)</text>
<rect x="593.5" y="393.7" width="14" height="2.6" fill="#000" stroke="none" stroke-width="0.8"/>
<polyline points="594,397.6 599.8,395.6 602.3,394.2 607.5,392.6" fill="none" stroke="#0072bd" stroke-width="2" stroke-linejoin="round" stroke-linecap="butt"/>
<line x1="599.3" y1="391.8" x2="599.3" y2="398.4" stroke="#0072bd" stroke-width="1.3" stroke-linecap="butt"/>
<line x1="603.8" y1="391.6" x2="603.8" y2="397.6" stroke="#0072bd" stroke-width="1.3" stroke-linecap="butt"/>
<line x1="597.5" y1="398.2" x2="601.2" y2="397.2" stroke="#0072bd" stroke-width="1.2" stroke-linecap="butt"/>
<line x1="602" y1="391.8" x2="605.8" y2="391.4" stroke="#0072bd" stroke-width="1.2" stroke-linecap="butt"/>
<text x="611.3" y="397.7" font-size="7.4" fill="#262626" stroke="#262626" stroke-width="0.14">Mean</text>
<rect x="637.5" y="393.8" width="14.5" height="2.4" fill="#ff0000" stroke="none" stroke-width="0.8"/>
<text x="655" y="397.7" font-size="7.4" fill="#262626" stroke="#262626" stroke-width="0.14">Median</text>
<text x="-0.3" y="565.7" font-size="14" fill="#000" font-weight="bold">H</text>
<polygon points="45.8,583.5 46.2,583.4 46.8,583.3 47.5,583.3 48.3,583.3 49.1,583.4 50,583.6 51,583.9 52,584.3 53,584.7 54,585.1 54.9,585.5 56,585.9 57.3,586.4 58.6,587 60,587.5 61.3,587.9 62.7,588.3 64,588.7 65.3,589 66.7,589.3 68,589.5 69.2,589.7 70.4,589.8 72,590 73.2,590 74.8,590.1 80,590.1 89.8,590.2 103.1,590.2 120,590.2 144.1,590.2 171.8,590.2 191.5,590.2 191.5,590.8 171.8,590.8 144.1,590.8 120,590.8 103.1,590.8 89.8,590.8 80,590.9 74.8,590.9 73.2,591 72,591 70.4,591.2 69.2,591.3 68,591.5 66.7,591.7 65.3,592 64,592.3 62.7,592.7 61.3,593.1 60,593.5 58.6,594 57.3,594.6 56,595.1 54.9,595.5 54,595.9 53,596.3 52,596.7 51,597.1 50,597.4 49.1,597.6 48.3,597.7 47.5,597.7 46.8,597.7 46.2,597.6 45.8,597.5" fill="#e6a88f" stroke="#111" stroke-width="0.5"/>
<polygon points="45.8,623.5 46.2,622.9 46.8,622.1 47.5,621.5 48.1,621.4 48.8,621.5 49.5,621.7 50.3,622 51.1,622.3 52,622.7 53,623.1 54,623.6 55,624.1 56,624.5 56.9,624.9 58,625.3 59.3,625.7 60.6,626.1 62,626.4 63.3,626.7 64.7,627 66,627.3 67.1,627.5 68.2,627.7 70,627.8 69.1,627.9 68.9,627.9 80,627.9 113.8,628 158.8,628 191.5,628 191.5,628.6 158.8,628.6 113.8,628.6 80,628.6 68.9,628.7 69.1,628.7 70,628.8 68.2,628.9 67.1,629.1 66,629.3 64.7,629.6 63.3,629.9 62,630.2 60.6,630.5 59.3,630.9 58,631.3 56.9,631.7 56,632.1 55,632.5 54,633 53,633.5 52,633.9 51.1,634.3 50.3,634.6 49.5,634.9 48.8,635.1 48.1,635.2 47.5,635.1 46.8,634.5 46.2,633.7 45.8,633.1" fill="#7aacd8" stroke="#111" stroke-width="0.5"/>
<rect x="52.2" y="585.1" width="1.7" height="10.8" fill="#ff0000" stroke="none" stroke-width="0.8"/>
<rect x="51.4" y="622.7" width="1.7" height="11.2" fill="#ff0000" stroke="none" stroke-width="0.8"/>
<rect x="81.5" y="585.2" width="1.9" height="10.6" fill="#000" stroke="none" stroke-width="0.8"/>
<rect x="66.5" y="622.8" width="1.9" height="11" fill="#000" stroke="none" stroke-width="0.8"/>
<rect x="45" y="571.5" width="147.2" height="74.7" fill="none" stroke="#333" stroke-width="0.8"/>
<text x="57.4" y="583.2" font-size="6.3" fill="#111" stroke="#111" stroke-width="0.1" text-anchor="middle">1.05</text>
<text x="88.5" y="583.2" font-size="6.3" fill="#111" stroke="#111" stroke-width="0.1" text-anchor="middle">4.01</text>
<text x="56.2" y="620.4" font-size="6.3" fill="#111" stroke="#111" stroke-width="0.1" text-anchor="middle">0.96</text>
<text x="73.6" y="620.4" font-size="6.3" fill="#111" stroke="#111" stroke-width="0.1" text-anchor="middle">2.50</text>
<rect x="34.2" y="594.5" width="5.5" height="8.9" fill="#eda58a" stroke="none" stroke-width="0.8"/>
<rect x="34.2" y="632.3" width="5.5" height="8.8" fill="#7fb2dd" stroke="none" stroke-width="0.8"/>
<text transform="translate(37.5,584.9) rotate(-90)" font-size="6.3" fill="#111" stroke="#111" stroke-width="0.1" text-anchor="middle">Small</text>
<text transform="translate(37.5,622.6) rotate(-90)" font-size="6.3" fill="#111" stroke="#111" stroke-width="0.1" text-anchor="middle">Large</text>
<polyline points="192.2,590.5 198.7,590.5 198.7,628.3 192.2,628.3" fill="none" stroke="#888" stroke-width="0.7" stroke-linejoin="miter" stroke-linecap="butt"/>
<text transform="translate(197.2,609) rotate(90)" font-size="10.5" fill="#111" text-anchor="middle" font-weight="bold">****</text>
<polygon points="222.4,587 222.7,586.4 223,585.6 223.5,584.9 224.1,584.4 224.8,583.9 225.5,583.6 226.3,583.4 227.1,583.3 228,583.3 229,583.3 230,583.4 231,583.5 231.9,583.7 232.7,584 233.5,584.3 234.4,584.7 235.2,585.2 236,585.7 236.7,586.1 237.4,586.4 238,586.7 238.6,587 239.3,587.2 240,587.5 240.9,587.7 241.8,588 243,588.2 244.4,588.4 246.1,588.7 248,588.9 250.2,589.1 252.6,589.3 255,589.5 257.3,589.7 259.6,589.8 262,589.9 263.8,590 265.7,590.1 270,590.1 277,590.2 286.4,590.2 300,590.2 322.3,590.2 348.8,590.2 367.8,590.2 367.8,590.8 348.8,590.8 322.3,590.8 300,590.8 286.4,590.8 277,590.8 270,590.9 265.7,590.9 263.8,591 262,591.1 259.6,591.2 257.3,591.3 255,591.5 252.6,591.7 250.2,591.9 248,592.1 246.1,592.3 244.4,592.6 243,592.8 241.8,593 240.9,593.3 240,593.5 239.3,593.8 238.6,594 238,594.3 237.4,594.6 236.7,594.9 236,595.3 235.2,595.8 234.4,596.3 233.5,596.7 232.7,597 231.9,597.3 231,597.5 230,597.6 229,597.7 228,597.7 227.1,597.7 226.3,597.6 225.5,597.4 224.8,597.1 224.1,596.6 223.5,596.1 223,595.4 222.7,594.6 222.4,594" fill="#e6a88f" stroke="#111" stroke-width="0.5"/>
<polygon points="222.4,627.9 222.9,627.3 223.7,626.4 224.5,625.5 225.3,624.5 226.2,623.5 227,622.7 227.8,622.1 228.5,621.6 229.3,621.4 230,621.4 230.7,621.6 231.5,622 232.3,622.5 233.1,623.2 234,623.8 234.9,624.3 235.9,624.9 237,625.3 238.2,625.6 239.6,625.9 241,626.1 242.6,626.3 244.2,626.6 246,626.8 247.9,627 249.8,627.2 252,627.4 254.4,627.6 257.1,627.7 260,627.8 259.9,627.9 260.1,628 270,628 299.7,628 339.2,628 367.8,628 367.8,628.6 339.2,628.6 299.7,628.6 270,628.6 260.1,628.6 259.9,628.7 260,628.8 257.1,628.9 254.4,629 252,629.2 249.8,629.4 247.9,629.6 246,629.8 244.2,630 242.6,630.3 241,630.5 239.6,630.7 238.2,631 237,631.3 235.9,631.7 234.9,632.3 234,632.8 233.1,633.4 232.3,634.1 231.5,634.6 230.7,635 230,635.2 229.3,635.2 228.5,635 227.8,634.5 227,633.9 226.2,633.1 225.3,632.1 224.5,631.1 223.7,630.2 222.9,629.3 222.4,628.7" fill="#7aacd8" stroke="#111" stroke-width="0.5"/>
<rect x="233.2" y="584.6" width="1.7" height="11.8" fill="#ff0000" stroke="none" stroke-width="0.8"/>
<rect x="233.5" y="622.9" width="1.7" height="10.8" fill="#ff0000" stroke="none" stroke-width="0.8"/>
<rect x="238.8" y="585.9" width="2" height="9.2" fill="#000" stroke="none" stroke-width="0.8"/>
<rect x="240.1" y="623.3" width="2" height="10" fill="#000" stroke="none" stroke-width="0.8"/>
<rect x="222.2" y="571.5" width="146.2" height="74.7" fill="none" stroke="#333" stroke-width="0.8"/>
<text x="235" y="578.8" font-size="6.3" fill="#111" stroke="#111" stroke-width="0.1" text-anchor="middle">0.58</text>
<text x="248" y="586.1" font-size="6.3" fill="#111" stroke="#111" stroke-width="0.1" text-anchor="middle">0.80</text>
<text x="235" y="617.2" font-size="6.3" fill="#111" stroke="#111" stroke-width="0.1" text-anchor="middle">0.59</text>
<text x="249.2" y="623.8" font-size="6.3" fill="#111" stroke="#111" stroke-width="0.1" text-anchor="middle">0.86</text>
<polyline points="368.4,590.5 375.7,590.5 375.7,628.3 368.4,628.3" fill="none" stroke="#888" stroke-width="0.7" stroke-linejoin="miter" stroke-linecap="butt"/>
<text x="380" y="615.6" font-size="10.5" fill="#111" text-anchor="middle" font-weight="bold">*</text>
<rect x="322.7" y="599.4" width="41.4" height="19.6" fill="#fff" stroke="#333" stroke-width="0.6"/>
<line x1="324.4" y1="604.6" x2="338.9" y2="604.6" stroke="#000" stroke-width="1.6" stroke-linecap="butt"/>
<line x1="324.4" y1="613" x2="338.9" y2="613" stroke="#ff0000" stroke-width="1.6" stroke-linecap="butt"/>
<text x="340" y="606.9" font-size="6.5" fill="#111" stroke="#111" stroke-width="0.14">Mean</text>
<text x="340" y="615.3" font-size="6.5" fill="#111" stroke="#111" stroke-width="0.14">Median</text>
<rect x="45" y="650.5" width="1.5" height="89.2" fill="#e6a88f" stroke="none" stroke-width="0.8"/>
<rect x="46" y="650" width="1.3" height="89.7" fill="#7aacd8" stroke="none" stroke-width="0.8" fill-opacity="0.78"/>
<rect x="47.5" y="653.4" width="1.5" height="86.3" fill="#e6a88f" stroke="none" stroke-width="0.8"/>
<rect x="48.5" y="651.8" width="1.3" height="87.9" fill="#7aacd8" stroke="none" stroke-width="0.8" fill-opacity="0.78"/>
<rect x="50" y="658.5" width="1.5" height="81.2" fill="#e6a88f" stroke="none" stroke-width="0.8"/>
<rect x="51" y="658.5" width="1.3" height="81.2" fill="#7aacd8" stroke="none" stroke-width="0.8" fill-opacity="0.78"/>
<rect x="52.4" y="662.4" width="1.5" height="77.3" fill="#e6a88f" stroke="none" stroke-width="0.8"/>
<rect x="53.5" y="659.9" width="1.3" height="79.8" fill="#7aacd8" stroke="none" stroke-width="0.8" fill-opacity="0.78"/>
<rect x="54.9" y="666.9" width="1.5" height="72.8" fill="#e6a88f" stroke="none" stroke-width="0.8"/>
<rect x="56" y="664.2" width="1.3" height="75.5" fill="#7aacd8" stroke="none" stroke-width="0.8" fill-opacity="0.78"/>
<rect x="57.4" y="669.4" width="1.5" height="70.3" fill="#e6a88f" stroke="none" stroke-width="0.8"/>
<rect x="58.4" y="671" width="1.3" height="68.7" fill="#7aacd8" stroke="none" stroke-width="0.8" fill-opacity="0.78"/>
<rect x="59.9" y="674" width="1.5" height="65.7" fill="#e6a88f" stroke="none" stroke-width="0.8"/>
<rect x="60.9" y="673.9" width="1.3" height="65.8" fill="#7aacd8" stroke="none" stroke-width="0.8" fill-opacity="0.78"/>
<rect x="62.3" y="678.6" width="1.5" height="61.1" fill="#e6a88f" stroke="none" stroke-width="0.8"/>
<rect x="63.4" y="673.4" width="1.3" height="66.3" fill="#7aacd8" stroke="none" stroke-width="0.8" fill-opacity="0.78"/>
<rect x="64.8" y="683.9" width="1.5" height="55.8" fill="#e6a88f" stroke="none" stroke-width="0.8"/>
<rect x="65.9" y="682.2" width="1.3" height="57.5" fill="#7aacd8" stroke="none" stroke-width="0.8" fill-opacity="0.78"/>
<rect x="67.3" y="685.3" width="1.5" height="54.4" fill="#e6a88f" stroke="none" stroke-width="0.8"/>
<rect x="68.3" y="682" width="1.3" height="57.7" fill="#7aacd8" stroke="none" stroke-width="0.8" fill-opacity="0.78"/>
<rect x="69.8" y="692" width="1.5" height="47.7" fill="#e6a88f" stroke="none" stroke-width="0.8"/>
<rect x="70.8" y="684.8" width="1.3" height="54.9" fill="#7aacd8" stroke="none" stroke-width="0.8" fill-opacity="0.78"/>
<rect x="72.3" y="695.7" width="1.5" height="44" fill="#e6a88f" stroke="none" stroke-width="0.8"/>
<rect x="73.3" y="683" width="1.3" height="56.7" fill="#7aacd8" stroke="none" stroke-width="0.8" fill-opacity="0.78"/>
<rect x="74.7" y="700.4" width="1.5" height="39.3" fill="#e6a88f" stroke="none" stroke-width="0.8"/>
<rect x="75.8" y="690.3" width="1.3" height="49.4" fill="#7aacd8" stroke="none" stroke-width="0.8" fill-opacity="0.78"/>
<rect x="77.2" y="703.3" width="1.5" height="36.4" fill="#e6a88f" stroke="none" stroke-width="0.8"/>
<rect x="78.3" y="690.4" width="1.3" height="49.3" fill="#7aacd8" stroke="none" stroke-width="0.8" fill-opacity="0.78"/>
<rect x="79.7" y="706.3" width="1.5" height="33.4" fill="#e6a88f" stroke="none" stroke-width="0.8"/>
<rect x="80.7" y="724.3" width="1.3" height="15.4" fill="#7aacd8" stroke="none" stroke-width="0.8" fill-opacity="0.78"/>
<rect x="82.2" y="710.8" width="1.5" height="28.9" fill="#e6a88f" stroke="none" stroke-width="0.8"/>
<rect x="83.2" y="697.4" width="1.3" height="42.3" fill="#7aacd8" stroke="none" stroke-width="0.8" fill-opacity="0.78"/>
<rect x="84.6" y="701.9" width="1.5" height="37.8" fill="#e6a88f" stroke="none" stroke-width="0.8"/>
<rect x="85.7" y="694.5" width="1.3" height="45.2" fill="#7aacd8" stroke="none" stroke-width="0.8" fill-opacity="0.78"/>
<rect x="87.1" y="716.7" width="1.5" height="23" fill="#e6a88f" stroke="none" stroke-width="0.8"/>
<rect x="88.2" y="698.5" width="1.3" height="41.2" fill="#7aacd8" stroke="none" stroke-width="0.8" fill-opacity="0.78"/>
<rect x="89.6" y="701.3" width="1.5" height="38.4" fill="#e6a88f" stroke="none" stroke-width="0.8"/>
<rect x="90.6" y="701.4" width="1.3" height="38.3" fill="#7aacd8" stroke="none" stroke-width="0.8" fill-opacity="0.78"/>
<rect x="92.1" y="713.3" width="1.5" height="26.4" fill="#e6a88f" stroke="none" stroke-width="0.8"/>
<rect x="93.1" y="702.8" width="1.3" height="36.9" fill="#7aacd8" stroke="none" stroke-width="0.8" fill-opacity="0.78"/>
<rect x="94.6" y="703.9" width="1.5" height="35.8" fill="#e6a88f" stroke="none" stroke-width="0.8"/>
<rect x="95.6" y="698.9" width="1.3" height="40.8" fill="#7aacd8" stroke="none" stroke-width="0.8" fill-opacity="0.78"/>
<rect x="97" y="705.5" width="1.5" height="34.2" fill="#e6a88f" stroke="none" stroke-width="0.8"/>
<rect x="98.1" y="730.7" width="1.3" height="9" fill="#7aacd8" stroke="none" stroke-width="0.8" fill-opacity="0.78"/>
<rect x="99.5" y="711.1" width="1.5" height="28.6" fill="#e6a88f" stroke="none" stroke-width="0.8"/>
<rect x="100.6" y="718.3" width="1.3" height="21.4" fill="#7aacd8" stroke="none" stroke-width="0.8" fill-opacity="0.78"/>
<rect x="102" y="705.4" width="1.5" height="34.3" fill="#e6a88f" stroke="none" stroke-width="0.8"/>
<rect x="103" y="713.8" width="1.3" height="25.9" fill="#7aacd8" stroke="none" stroke-width="0.8" fill-opacity="0.78"/>
<rect x="104.5" y="699.3" width="1.5" height="40.4" fill="#e6a88f" stroke="none" stroke-width="0.8"/>
<rect x="105.5" y="712.3" width="1.3" height="27.4" fill="#7aacd8" stroke="none" stroke-width="0.8" fill-opacity="0.78"/>
<rect x="107" y="711.7" width="1.5" height="28" fill="#e6a88f" stroke="none" stroke-width="0.8"/>
<rect x="108" y="719.7" width="1.3" height="20" fill="#7aacd8" stroke="none" stroke-width="0.8" fill-opacity="0.78"/>
<rect x="109.4" y="707.3" width="1.5" height="32.4" fill="#e6a88f" stroke="none" stroke-width="0.8"/>
<rect x="110.5" y="730.7" width="1.3" height="9" fill="#7aacd8" stroke="none" stroke-width="0.8" fill-opacity="0.78"/>
<rect x="111.9" y="713.8" width="1.5" height="25.9" fill="#e6a88f" stroke="none" stroke-width="0.8"/>
<rect x="112.9" y="713" width="1.3" height="26.7" fill="#7aacd8" stroke="none" stroke-width="0.8" fill-opacity="0.78"/>
<rect x="114.4" y="704.5" width="1.5" height="35.2" fill="#e6a88f" stroke="none" stroke-width="0.8"/>
<rect x="115.4" y="720.4" width="1.3" height="19.3" fill="#7aacd8" stroke="none" stroke-width="0.8" fill-opacity="0.78"/>
<rect x="116.9" y="700.6" width="1.5" height="39.1" fill="#e6a88f" stroke="none" stroke-width="0.8"/>
<rect x="117.9" y="715.5" width="1.3" height="24.2" fill="#7aacd8" stroke="none" stroke-width="0.8" fill-opacity="0.78"/>
<rect x="119.3" y="713.7" width="1.5" height="26" fill="#e6a88f" stroke="none" stroke-width="0.8"/>
<rect x="120.4" y="717.2" width="1.3" height="22.5" fill="#7aacd8" stroke="none" stroke-width="0.8" fill-opacity="0.78"/>
<rect x="121.8" y="709.1" width="1.5" height="30.6" fill="#e6a88f" stroke="none" stroke-width="0.8"/>
<rect x="122.9" y="714.2" width="1.3" height="25.5" fill="#7aacd8" stroke="none" stroke-width="0.8" fill-opacity="0.78"/>
<rect x="124.3" y="715.1" width="1.5" height="24.6" fill="#e6a88f" stroke="none" stroke-width="0.8"/>
<rect x="125.3" y="720.4" width="1.3" height="19.3" fill="#7aacd8" stroke="none" stroke-width="0.8" fill-opacity="0.78"/>
<rect x="126.8" y="715.1" width="1.5" height="24.6" fill="#e6a88f" stroke="none" stroke-width="0.8"/>
<rect x="127.8" y="719.6" width="1.3" height="20.1" fill="#7aacd8" stroke="none" stroke-width="0.8" fill-opacity="0.78"/>
<rect x="129.3" y="704.2" width="1.5" height="35.5" fill="#e6a88f" stroke="none" stroke-width="0.8"/>
<rect x="130.3" y="713.6" width="1.3" height="26.1" fill="#7aacd8" stroke="none" stroke-width="0.8" fill-opacity="0.78"/>
<rect x="131.7" y="708.1" width="1.5" height="31.6" fill="#e6a88f" stroke="none" stroke-width="0.8"/>
<rect x="132.8" y="714.2" width="1.3" height="25.5" fill="#7aacd8" stroke="none" stroke-width="0.8" fill-opacity="0.78"/>
<rect x="134.2" y="710.5" width="1.5" height="29.2" fill="#e6a88f" stroke="none" stroke-width="0.8"/>
<rect x="135.3" y="715.8" width="1.3" height="23.9" fill="#7aacd8" stroke="none" stroke-width="0.8" fill-opacity="0.78"/>
<rect x="136.7" y="716.6" width="1.5" height="23.1" fill="#e6a88f" stroke="none" stroke-width="0.8"/>
<rect x="137.7" y="720.3" width="1.3" height="19.4" fill="#7aacd8" stroke="none" stroke-width="0.8" fill-opacity="0.78"/>
<rect x="139.2" y="704" width="1.5" height="35.7" fill="#e6a88f" stroke="none" stroke-width="0.8"/>
<rect x="140.2" y="715.1" width="1.3" height="24.6" fill="#7aacd8" stroke="none" stroke-width="0.8" fill-opacity="0.78"/>
<rect x="141.6" y="703.2" width="1.5" height="36.5" fill="#e6a88f" stroke="none" stroke-width="0.8"/>
<rect x="142.7" y="719" width="1.3" height="20.7" fill="#7aacd8" stroke="none" stroke-width="0.8" fill-opacity="0.78"/>
<rect x="144.1" y="699.2" width="1.5" height="40.5" fill="#e6a88f" stroke="none" stroke-width="0.8"/>
<rect x="145.2" y="730.7" width="1.3" height="9" fill="#7aacd8" stroke="none" stroke-width="0.8" fill-opacity="0.78"/>
<rect x="146.6" y="710.4" width="1.5" height="29.3" fill="#e6a88f" stroke="none" stroke-width="0.8"/>
<rect x="147.6" y="718.8" width="1.3" height="20.9" fill="#7aacd8" stroke="none" stroke-width="0.8" fill-opacity="0.78"/>
<rect x="149.1" y="716.5" width="1.5" height="23.2" fill="#e6a88f" stroke="none" stroke-width="0.8"/>
<rect x="150.1" y="720.2" width="1.3" height="19.5" fill="#7aacd8" stroke="none" stroke-width="0.8" fill-opacity="0.78"/>
<rect x="151.6" y="716.4" width="1.5" height="23.3" fill="#e6a88f" stroke="none" stroke-width="0.8"/>
<rect x="152.6" y="715.8" width="1.3" height="23.9" fill="#7aacd8" stroke="none" stroke-width="0.8" fill-opacity="0.78"/>
<rect x="154" y="713.7" width="1.5" height="26" fill="#e6a88f" stroke="none" stroke-width="0.8"/>
<rect x="155.1" y="713.9" width="1.3" height="25.8" fill="#7aacd8" stroke="none" stroke-width="0.8" fill-opacity="0.78"/>
<rect x="156.5" y="713.9" width="1.5" height="25.8" fill="#e6a88f" stroke="none" stroke-width="0.8"/>
<rect x="157.6" y="717.2" width="1.3" height="22.5" fill="#7aacd8" stroke="none" stroke-width="0.8" fill-opacity="0.78"/>
<rect x="159" y="707.7" width="1.5" height="32" fill="#e6a88f" stroke="none" stroke-width="0.8"/>
<rect x="160" y="713.6" width="1.3" height="26.1" fill="#7aacd8" stroke="none" stroke-width="0.8" fill-opacity="0.78"/>
<rect x="161.5" y="707.7" width="1.5" height="32" fill="#e6a88f" stroke="none" stroke-width="0.8"/>
<rect x="162.5" y="714.8" width="1.3" height="24.9" fill="#7aacd8" stroke="none" stroke-width="0.8" fill-opacity="0.78"/>
<rect x="163.9" y="704.1" width="1.5" height="35.6" fill="#e6a88f" stroke="none" stroke-width="0.8"/>
<rect x="165" y="717.1" width="1.3" height="22.6" fill="#7aacd8" stroke="none" stroke-width="0.8" fill-opacity="0.78"/>
<rect x="166.4" y="715" width="1.5" height="24.7" fill="#e6a88f" stroke="none" stroke-width="0.8"/>
<rect x="167.5" y="714.2" width="1.3" height="25.5" fill="#7aacd8" stroke="none" stroke-width="0.8" fill-opacity="0.78"/>
<rect x="168.9" y="700" width="1.5" height="39.7" fill="#e6a88f" stroke="none" stroke-width="0.8"/>
<rect x="169.9" y="715.1" width="1.3" height="24.6" fill="#7aacd8" stroke="none" stroke-width="0.8" fill-opacity="0.78"/>
<rect x="171.4" y="714.2" width="1.5" height="25.5" fill="#e6a88f" stroke="none" stroke-width="0.8"/>
<rect x="172.4" y="730.7" width="1.3" height="9" fill="#7aacd8" stroke="none" stroke-width="0.8" fill-opacity="0.78"/>
<rect x="173.9" y="709.5" width="1.5" height="30.2" fill="#e6a88f" stroke="none" stroke-width="0.8"/>
<rect x="174.9" y="720" width="1.3" height="19.7" fill="#7aacd8" stroke="none" stroke-width="0.8" fill-opacity="0.78"/>
<rect x="176.3" y="711.7" width="1.5" height="28" fill="#e6a88f" stroke="none" stroke-width="0.8"/>
<rect x="177.4" y="717.5" width="1.3" height="22.2" fill="#7aacd8" stroke="none" stroke-width="0.8" fill-opacity="0.78"/>
<rect x="178.8" y="707.3" width="1.5" height="32.4" fill="#e6a88f" stroke="none" stroke-width="0.8"/>
<rect x="179.9" y="719.1" width="1.3" height="20.6" fill="#7aacd8" stroke="none" stroke-width="0.8" fill-opacity="0.78"/>
<rect x="181.3" y="703.8" width="1.5" height="35.9" fill="#e6a88f" stroke="none" stroke-width="0.8"/>
<rect x="182.3" y="730.7" width="1.3" height="9" fill="#7aacd8" stroke="none" stroke-width="0.8" fill-opacity="0.78"/>
<rect x="183.8" y="706" width="1.5" height="33.7" fill="#e6a88f" stroke="none" stroke-width="0.8"/>
<rect x="184.8" y="713.2" width="1.3" height="26.5" fill="#7aacd8" stroke="none" stroke-width="0.8" fill-opacity="0.78"/>
<rect x="186.3" y="713.6" width="1.5" height="26.1" fill="#e6a88f" stroke="none" stroke-width="0.8"/>
<rect x="187.3" y="714" width="1.3" height="25.7" fill="#7aacd8" stroke="none" stroke-width="0.8" fill-opacity="0.78"/>
<rect x="188.7" y="709.9" width="1.5" height="29.8" fill="#e6a88f" stroke="none" stroke-width="0.8"/>
<rect x="189.8" y="713.9" width="1.3" height="25.8" fill="#7aacd8" stroke="none" stroke-width="0.8" fill-opacity="0.78"/>
<rect x="191.2" y="713.7" width="0.6" height="26" fill="#e6a88f" stroke="none" stroke-width="0.8"/>
<rect x="191.6" y="719.4" width="0.5" height="20.3" fill="#7aacd8" stroke="none" stroke-width="0.8" fill-opacity="0.78"/>
<line x1="48.1" y1="648.8" x2="81" y2="709.9" stroke="#ff1010" stroke-width="2.6" stroke-linecap="butt"/>
<line x1="81" y1="709.9" x2="192.2" y2="715" stroke="#22ee22" stroke-width="2.4" stroke-linecap="butt"/>
<rect x="45" y="648.6" width="147.2" height="91.1" fill="none" stroke="#333" stroke-width="0.8"/>
<line x1="62.3" y1="739.7" x2="62.3" y2="738.1" stroke="#333" stroke-width="0.6" stroke-linecap="butt"/>
<line x1="62.3" y1="648.6" x2="62.3" y2="650.2" stroke="#333" stroke-width="0.6" stroke-linecap="butt"/>
<text x="62.3" y="748.7" font-size="7.4" fill="#262626" stroke="#262626" stroke-width="0.14" text-anchor="middle">2</text>
<line x1="82.2" y1="739.7" x2="82.2" y2="738.1" stroke="#333" stroke-width="0.6" stroke-linecap="butt"/>
<line x1="82.2" y1="648.6" x2="82.2" y2="650.2" stroke="#333" stroke-width="0.6" stroke-linecap="butt"/>
<text x="82.2" y="748.7" font-size="7.4" fill="#262626" stroke="#262626" stroke-width="0.14" text-anchor="middle">4</text>
<line x1="102" y1="739.7" x2="102" y2="738.1" stroke="#333" stroke-width="0.6" stroke-linecap="butt"/>
<line x1="102" y1="648.6" x2="102" y2="650.2" stroke="#333" stroke-width="0.6" stroke-linecap="butt"/>
<text x="102" y="748.7" font-size="7.4" fill="#262626" stroke="#262626" stroke-width="0.14" text-anchor="middle">6</text>
<line x1="121.8" y1="739.7" x2="121.8" y2="738.1" stroke="#333" stroke-width="0.6" stroke-linecap="butt"/>
<line x1="121.8" y1="648.6" x2="121.8" y2="650.2" stroke="#333" stroke-width="0.6" stroke-linecap="butt"/>
<text x="121.8" y="748.7" font-size="7.4" fill="#262626" stroke="#262626" stroke-width="0.14" text-anchor="middle">8</text>
<line x1="141.6" y1="739.7" x2="141.6" y2="738.1" stroke="#333" stroke-width="0.6" stroke-linecap="butt"/>
<line x1="141.6" y1="648.6" x2="141.6" y2="650.2" stroke="#333" stroke-width="0.6" stroke-linecap="butt"/>
<text x="141.6" y="748.7" font-size="7.4" fill="#262626" stroke="#262626" stroke-width="0.14" text-anchor="middle">10</text>
<line x1="161.5" y1="739.7" x2="161.5" y2="738.1" stroke="#333" stroke-width="0.6" stroke-linecap="butt"/>
<line x1="161.5" y1="648.6" x2="161.5" y2="650.2" stroke="#333" stroke-width="0.6" stroke-linecap="butt"/>
<text x="161.5" y="748.7" font-size="7.4" fill="#262626" stroke="#262626" stroke-width="0.14" text-anchor="middle">12</text>
<line x1="181.3" y1="739.7" x2="181.3" y2="738.1" stroke="#333" stroke-width="0.6" stroke-linecap="butt"/>
<line x1="181.3" y1="648.6" x2="181.3" y2="650.2" stroke="#333" stroke-width="0.6" stroke-linecap="butt"/>
<text x="181.3" y="748.7" font-size="7.4" fill="#262626" stroke="#262626" stroke-width="0.14" text-anchor="middle">14</text>
<line x1="45" y1="658.8" x2="46.8" y2="658.8" stroke="#333" stroke-width="0.6" stroke-linecap="butt"/>
<line x1="192.2" y1="658.8" x2="190.4" y2="658.8" stroke="#333" stroke-width="0.6" stroke-linecap="butt"/>
<text x="41.6" y="661.4" font-size="7.2" fill="#262626" stroke="#262626" stroke-width="0.14" text-anchor="end">10<tspan font-size="4.6" dy="-2.6">-1</tspan></text>
<line x1="45" y1="692.2" x2="46.8" y2="692.2" stroke="#333" stroke-width="0.6" stroke-linecap="butt"/>
<line x1="192.2" y1="692.2" x2="190.4" y2="692.2" stroke="#333" stroke-width="0.6" stroke-linecap="butt"/>
<text x="41.6" y="694.8" font-size="7.2" fill="#262626" stroke="#262626" stroke-width="0.14" text-anchor="end">10<tspan font-size="4.6" dy="-2.6">-2</tspan></text>
<line x1="45" y1="725.7" x2="46.8" y2="725.7" stroke="#333" stroke-width="0.6" stroke-linecap="butt"/>
<line x1="192.2" y1="725.7" x2="190.4" y2="725.7" stroke="#333" stroke-width="0.6" stroke-linecap="butt"/>
<text x="41.6" y="728.3" font-size="7.2" fill="#262626" stroke="#262626" stroke-width="0.14" text-anchor="end">10<tspan font-size="4.6" dy="-2.6">-3</tspan></text>
<line x1="45" y1="682.2" x2="46" y2="682.2" stroke="#333" stroke-width="0.5" stroke-linecap="butt"/>
<line x1="192.2" y1="682.2" x2="191.2" y2="682.2" stroke="#333" stroke-width="0.5" stroke-linecap="butt"/>
<line x1="45" y1="676.3" x2="46" y2="676.3" stroke="#333" stroke-width="0.5" stroke-linecap="butt"/>
<line x1="192.2" y1="676.3" x2="191.2" y2="676.3" stroke="#333" stroke-width="0.5" stroke-linecap="butt"/>
<line x1="45" y1="672.1" x2="46" y2="672.1" stroke="#333" stroke-width="0.5" stroke-linecap="butt"/>
<line x1="192.2" y1="672.1" x2="191.2" y2="672.1" stroke="#333" stroke-width="0.5" stroke-linecap="butt"/>
<line x1="45" y1="668.9" x2="46" y2="668.9" stroke="#333" stroke-width="0.5" stroke-linecap="butt"/>
<line x1="192.2" y1="668.9" x2="191.2" y2="668.9" stroke="#333" stroke-width="0.5" stroke-linecap="butt"/>
<line x1="45" y1="666.2" x2="46" y2="666.2" stroke="#333" stroke-width="0.5" stroke-linecap="butt"/>
<line x1="192.2" y1="666.2" x2="191.2" y2="666.2" stroke="#333" stroke-width="0.5" stroke-linecap="butt"/>
<line x1="45" y1="664" x2="46" y2="664" stroke="#333" stroke-width="0.5" stroke-linecap="butt"/>
<line x1="192.2" y1="664" x2="191.2" y2="664" stroke="#333" stroke-width="0.5" stroke-linecap="butt"/>
<line x1="45" y1="662" x2="46" y2="662" stroke="#333" stroke-width="0.5" stroke-linecap="butt"/>
<line x1="192.2" y1="662" x2="191.2" y2="662" stroke="#333" stroke-width="0.5" stroke-linecap="butt"/>
<line x1="45" y1="660.3" x2="46" y2="660.3" stroke="#333" stroke-width="0.5" stroke-linecap="butt"/>
<line x1="192.2" y1="660.3" x2="191.2" y2="660.3" stroke="#333" stroke-width="0.5" stroke-linecap="butt"/>
<line x1="45" y1="715.6" x2="46" y2="715.6" stroke="#333" stroke-width="0.5" stroke-linecap="butt"/>
<line x1="192.2" y1="715.6" x2="191.2" y2="715.6" stroke="#333" stroke-width="0.5" stroke-linecap="butt"/>
<line x1="45" y1="709.7" x2="46" y2="709.7" stroke="#333" stroke-width="0.5" stroke-linecap="butt"/>
<line x1="192.2" y1="709.7" x2="191.2" y2="709.7" stroke="#333" stroke-width="0.5" stroke-linecap="butt"/>
<line x1="45" y1="705.5" x2="46" y2="705.5" stroke="#333" stroke-width="0.5" stroke-linecap="butt"/>
<line x1="192.2" y1="705.5" x2="191.2" y2="705.5" stroke="#333" stroke-width="0.5" stroke-linecap="butt"/>
<line x1="45" y1="702.3" x2="46" y2="702.3" stroke="#333" stroke-width="0.5" stroke-linecap="butt"/>
<line x1="192.2" y1="702.3" x2="191.2" y2="702.3" stroke="#333" stroke-width="0.5" stroke-linecap="butt"/>
<line x1="45" y1="699.6" x2="46" y2="699.6" stroke="#333" stroke-width="0.5" stroke-linecap="butt"/>
<line x1="192.2" y1="699.6" x2="191.2" y2="699.6" stroke="#333" stroke-width="0.5" stroke-linecap="butt"/>
<line x1="45" y1="697.4" x2="46" y2="697.4" stroke="#333" stroke-width="0.5" stroke-linecap="butt"/>
<line x1="192.2" y1="697.4" x2="191.2" y2="697.4" stroke="#333" stroke-width="0.5" stroke-linecap="butt"/>
<line x1="45" y1="695.5" x2="46" y2="695.5" stroke="#333" stroke-width="0.5" stroke-linecap="butt"/>
<line x1="192.2" y1="695.5" x2="191.2" y2="695.5" stroke="#333" stroke-width="0.5" stroke-linecap="butt"/>
<line x1="45" y1="693.8" x2="46" y2="693.8" stroke="#333" stroke-width="0.5" stroke-linecap="butt"/>
<line x1="192.2" y1="693.8" x2="191.2" y2="693.8" stroke="#333" stroke-width="0.5" stroke-linecap="butt"/>
<line x1="45" y1="739" x2="46" y2="739" stroke="#333" stroke-width="0.5" stroke-linecap="butt"/>
<line x1="192.2" y1="739" x2="191.2" y2="739" stroke="#333" stroke-width="0.5" stroke-linecap="butt"/>
<line x1="45" y1="735.7" x2="46" y2="735.7" stroke="#333" stroke-width="0.5" stroke-linecap="butt"/>
<line x1="192.2" y1="735.7" x2="191.2" y2="735.7" stroke="#333" stroke-width="0.5" stroke-linecap="butt"/>
<line x1="45" y1="733.1" x2="46" y2="733.1" stroke="#333" stroke-width="0.5" stroke-linecap="butt"/>
<line x1="192.2" y1="733.1" x2="191.2" y2="733.1" stroke="#333" stroke-width="0.5" stroke-linecap="butt"/>
<line x1="45" y1="730.8" x2="46" y2="730.8" stroke="#333" stroke-width="0.5" stroke-linecap="butt"/>
<line x1="192.2" y1="730.8" x2="191.2" y2="730.8" stroke="#333" stroke-width="0.5" stroke-linecap="butt"/>
<line x1="45" y1="728.9" x2="46" y2="728.9" stroke="#333" stroke-width="0.5" stroke-linecap="butt"/>
<line x1="192.2" y1="728.9" x2="191.2" y2="728.9" stroke="#333" stroke-width="0.5" stroke-linecap="butt"/>
<line x1="45" y1="727.2" x2="46" y2="727.2" stroke="#333" stroke-width="0.5" stroke-linecap="butt"/>
<line x1="192.2" y1="727.2" x2="191.2" y2="727.2" stroke="#333" stroke-width="0.5" stroke-linecap="butt"/>
<text x="118.5" y="757.9" font-size="8.5" fill="#262626" stroke="#262626" stroke-width="0.14" text-anchor="middle">Pause length (seconds)</text>
<text transform="translate(25.8,690) rotate(-90)" font-size="8.5" fill="#262626" stroke="#262626" stroke-width="0.14" text-anchor="middle">Probability density</text>
<text x="69.6" y="680.9" font-size="6.6" fill="#ff2020" stroke="#ff2020" stroke-width="0.15" font-weight="bold">exp1</text>
<text x="99.6" y="700.2" font-size="6.6" fill="#22ee22" stroke="#22ee22" stroke-width="0.15" font-weight="bold">exp2</text>
<rect x="125.5" y="651.4" width="61.4" height="36.3" fill="#fff" stroke="#222" stroke-width="0.7"/>
<polyline points="125.5,681.6 129.9,685.3 135,687 139.4,686.4 145.3,680.9 151.1,675 158.4,666.3 162.8,661.9 167.4,656.4 172.3,661.9 177.4,652.4 181.8,652.4 186.1,653.9" fill="none" stroke="#111" stroke-width="0.8" stroke-linejoin="round" stroke-linecap="round"/>
<line x1="139.1" y1="687.7" x2="139.1" y2="686.7" stroke="#222" stroke-width="0.4" stroke-linecap="butt"/>
<text x="139.1" y="691.9" font-size="4.2" fill="#222" stroke="#222" stroke-width="0.1" text-anchor="middle">5</text>
<line x1="162.8" y1="687.7" x2="162.8" y2="686.7" stroke="#222" stroke-width="0.4" stroke-linecap="butt"/>
<text x="162.8" y="691.9" font-size="4.2" fill="#222" stroke="#222" stroke-width="0.1" text-anchor="middle">10</text>
<line x1="186.9" y1="687.7" x2="186.9" y2="686.7" stroke="#222" stroke-width="0.4" stroke-linecap="butt"/>
<text x="186.9" y="691.9" font-size="4.2" fill="#222" stroke="#222" stroke-width="0.1" text-anchor="middle">15</text>
<line x1="125.5" y1="681.6" x2="126.5" y2="681.6" stroke="#222" stroke-width="0.4" stroke-linecap="butt"/>
<text x="124" y="683.1" font-size="4.2" fill="#222" stroke="#222" stroke-width="0.1" text-anchor="end">1</text>
<line x1="125.5" y1="669.2" x2="126.5" y2="669.2" stroke="#222" stroke-width="0.4" stroke-linecap="butt"/>
<text x="124" y="670.7" font-size="4.2" fill="#222" stroke="#222" stroke-width="0.1" text-anchor="end">2</text>
<line x1="125.5" y1="656.8" x2="126.5" y2="656.8" stroke="#222" stroke-width="0.4" stroke-linecap="butt"/>
<text x="124" y="658.3" font-size="4.2" fill="#222" stroke="#222" stroke-width="0.1" text-anchor="end">3</text>
<text x="156" y="696.3" font-size="4.4" fill="#222" stroke="#222" stroke-width="0.1" text-anchor="middle">Pause length (seconds)</text>
<text transform="translate(114,669.5) rotate(-90)" font-size="3.8" fill="#222" stroke="#222" stroke-width="0.1" text-anchor="middle">Pdf (small)</text>
<line x1="115.8" y1="661" x2="115.8" y2="678" stroke="#222" stroke-width="0.3" stroke-linecap="butt"/>
<text transform="translate(120.2,669.5) rotate(-90)" font-size="3.8" fill="#222" stroke="#222" stroke-width="0.1" text-anchor="middle">Pdf (large)</text>
<rect x="222.2" y="671.1" width="1.5" height="68.7" fill="#e6a88f" stroke="none" stroke-width="0.8"/>
<rect x="223.2" y="672" width="1.3" height="67.8" fill="#7aacd8" stroke="none" stroke-width="0.8" fill-opacity="0.78"/>
<rect x="224.7" y="663.4" width="1.5" height="76.4" fill="#e6a88f" stroke="none" stroke-width="0.8"/>
<rect x="225.7" y="659.7" width="1.3" height="80.1" fill="#7aacd8" stroke="none" stroke-width="0.8" fill-opacity="0.78"/>
<rect x="227.1" y="656.7" width="1.5" height="83.1" fill="#e6a88f" stroke="none" stroke-width="0.8"/>
<rect x="228.2" y="655.4" width="1.3" height="84.4" fill="#7aacd8" stroke="none" stroke-width="0.8" fill-opacity="0.78"/>
<rect x="229.6" y="653.4" width="1.5" height="86.4" fill="#e6a88f" stroke="none" stroke-width="0.8"/>
<rect x="230.6" y="653.9" width="1.3" height="85.9" fill="#7aacd8" stroke="none" stroke-width="0.8" fill-opacity="0.78"/>
<rect x="232.1" y="653.5" width="1.5" height="86.3" fill="#e6a88f" stroke="none" stroke-width="0.8"/>
<rect x="233.1" y="653.3" width="1.3" height="86.5" fill="#7aacd8" stroke="none" stroke-width="0.8" fill-opacity="0.78"/>
<rect x="234.5" y="657.1" width="1.5" height="82.7" fill="#e6a88f" stroke="none" stroke-width="0.8"/>
<rect x="235.6" y="656.5" width="1.3" height="83.3" fill="#7aacd8" stroke="none" stroke-width="0.8" fill-opacity="0.78"/>
<rect x="237" y="661" width="1.5" height="78.8" fill="#e6a88f" stroke="none" stroke-width="0.8"/>
<rect x="238.1" y="661.9" width="1.3" height="77.9" fill="#7aacd8" stroke="none" stroke-width="0.8" fill-opacity="0.78"/>
<rect x="239.5" y="667.4" width="1.5" height="72.4" fill="#e6a88f" stroke="none" stroke-width="0.8"/>
<rect x="240.5" y="668.2" width="1.3" height="71.6" fill="#7aacd8" stroke="none" stroke-width="0.8" fill-opacity="0.78"/>
<rect x="242" y="669.9" width="1.5" height="69.9" fill="#e6a88f" stroke="none" stroke-width="0.8"/>
<rect x="243" y="672.2" width="1.3" height="67.6" fill="#7aacd8" stroke="none" stroke-width="0.8" fill-opacity="0.78"/>
<rect x="244.4" y="671.4" width="1.5" height="68.4" fill="#e6a88f" stroke="none" stroke-width="0.8"/>
<rect x="245.5" y="670.8" width="1.3" height="69" fill="#7aacd8" stroke="none" stroke-width="0.8" fill-opacity="0.78"/>
<rect x="246.9" y="675.2" width="1.5" height="64.6" fill="#e6a88f" stroke="none" stroke-width="0.8"/>
<rect x="247.9" y="672" width="1.3" height="67.8" fill="#7aacd8" stroke="none" stroke-width="0.8" fill-opacity="0.78"/>
<rect x="249.4" y="680" width="1.5" height="59.8" fill="#e6a88f" stroke="none" stroke-width="0.8"/>
<rect x="250.4" y="676.2" width="1.3" height="63.6" fill="#7aacd8" stroke="none" stroke-width="0.8" fill-opacity="0.78"/>
<rect x="251.8" y="679.1" width="1.5" height="60.7" fill="#e6a88f" stroke="none" stroke-width="0.8"/>
<rect x="252.9" y="681.4" width="1.3" height="58.4" fill="#7aacd8" stroke="none" stroke-width="0.8" fill-opacity="0.78"/>
<rect x="254.3" y="680.7" width="1.5" height="59.1" fill="#e6a88f" stroke="none" stroke-width="0.8"/>
<rect x="255.3" y="679.6" width="1.3" height="60.2" fill="#7aacd8" stroke="none" stroke-width="0.8" fill-opacity="0.78"/>
<rect x="256.8" y="686.7" width="1.5" height="53.1" fill="#e6a88f" stroke="none" stroke-width="0.8"/>
<rect x="257.8" y="684.3" width="1.3" height="55.5" fill="#7aacd8" stroke="none" stroke-width="0.8" fill-opacity="0.78"/>
<rect x="259.2" y="689.4" width="1.5" height="50.4" fill="#e6a88f" stroke="none" stroke-width="0.8"/>
<rect x="260.3" y="685.6" width="1.3" height="54.2" fill="#7aacd8" stroke="none" stroke-width="0.8" fill-opacity="0.78"/>
<rect x="261.7" y="690.2" width="1.5" height="49.6" fill="#e6a88f" stroke="none" stroke-width="0.8"/>
<rect x="262.8" y="687.4" width="1.3" height="52.4" fill="#7aacd8" stroke="none" stroke-width="0.8" fill-opacity="0.78"/>
<rect x="264.2" y="693.8" width="1.5" height="46" fill="#e6a88f" stroke="none" stroke-width="0.8"/>
<rect x="265.2" y="693.4" width="1.3" height="46.4" fill="#7aacd8" stroke="none" stroke-width="0.8" fill-opacity="0.78"/>
<rect x="266.7" y="695" width="1.5" height="44.8" fill="#e6a88f" stroke="none" stroke-width="0.8"/>
<rect x="267.7" y="694.3" width="1.3" height="45.5" fill="#7aacd8" stroke="none" stroke-width="0.8" fill-opacity="0.78"/>
<rect x="269.1" y="699.1" width="1.5" height="40.7" fill="#e6a88f" stroke="none" stroke-width="0.8"/>
<rect x="270.2" y="695.6" width="1.3" height="44.2" fill="#7aacd8" stroke="none" stroke-width="0.8" fill-opacity="0.78"/>
<rect x="271.6" y="698.6" width="1.5" height="41.2" fill="#e6a88f" stroke="none" stroke-width="0.8"/>
<rect x="272.6" y="700.4" width="1.3" height="39.4" fill="#7aacd8" stroke="none" stroke-width="0.8" fill-opacity="0.78"/>
<rect x="274.1" y="701.5" width="1.5" height="38.3" fill="#e6a88f" stroke="none" stroke-width="0.8"/>
<rect x="275.1" y="699.3" width="1.3" height="40.5" fill="#7aacd8" stroke="none" stroke-width="0.8" fill-opacity="0.78"/>
<rect x="276.5" y="701.6" width="1.5" height="38.2" fill="#e6a88f" stroke="none" stroke-width="0.8"/>
<rect x="277.6" y="700" width="1.3" height="39.8" fill="#7aacd8" stroke="none" stroke-width="0.8" fill-opacity="0.78"/>
<rect x="279" y="702.2" width="1.5" height="37.6" fill="#e6a88f" stroke="none" stroke-width="0.8"/>
<rect x="280" y="702.5" width="1.3" height="37.3" fill="#7aacd8" stroke="none" stroke-width="0.8" fill-opacity="0.78"/>
<rect x="281.5" y="711.4" width="1.5" height="28.4" fill="#e6a88f" stroke="none" stroke-width="0.8"/>
<rect x="282.5" y="715.1" width="1.3" height="24.7" fill="#7aacd8" stroke="none" stroke-width="0.8" fill-opacity="0.78"/>
<rect x="283.9" y="709.4" width="1.5" height="30.4" fill="#e6a88f" stroke="none" stroke-width="0.8"/>
<rect x="285" y="703.7" width="1.3" height="36.1" fill="#7aacd8" stroke="none" stroke-width="0.8" fill-opacity="0.78"/>
<rect x="286.4" y="713.4" width="1.5" height="26.4" fill="#e6a88f" stroke="none" stroke-width="0.8"/>
<rect x="287.4" y="706.9" width="1.3" height="32.9" fill="#7aacd8" stroke="none" stroke-width="0.8" fill-opacity="0.78"/>
<rect x="288.9" y="714.9" width="1.5" height="24.9" fill="#e6a88f" stroke="none" stroke-width="0.8"/>
<rect x="289.9" y="706.4" width="1.3" height="33.4" fill="#7aacd8" stroke="none" stroke-width="0.8" fill-opacity="0.78"/>
<rect x="291.3" y="714.2" width="1.5" height="25.6" fill="#e6a88f" stroke="none" stroke-width="0.8"/>
<rect x="292.4" y="719.9" width="1.3" height="19.9" fill="#7aacd8" stroke="none" stroke-width="0.8" fill-opacity="0.78"/>
<rect x="293.8" y="719.8" width="1.5" height="20" fill="#e6a88f" stroke="none" stroke-width="0.8"/>
<rect x="294.9" y="726.4" width="1.3" height="13.4" fill="#7aacd8" stroke="none" stroke-width="0.8" fill-opacity="0.78"/>
<rect x="296.3" y="721.6" width="1.5" height="18.2" fill="#e6a88f" stroke="none" stroke-width="0.8"/>
<rect x="297.3" y="708.5" width="1.3" height="31.3" fill="#7aacd8" stroke="none" stroke-width="0.8" fill-opacity="0.78"/>
<rect x="298.8" y="714" width="1.5" height="25.8" fill="#e6a88f" stroke="none" stroke-width="0.8"/>
<rect x="299.8" y="711.9" width="1.3" height="27.9" fill="#7aacd8" stroke="none" stroke-width="0.8" fill-opacity="0.78"/>
<rect x="301.2" y="722.4" width="1.5" height="17.4" fill="#e6a88f" stroke="none" stroke-width="0.8"/>
<rect x="302.3" y="714.8" width="1.3" height="25" fill="#7aacd8" stroke="none" stroke-width="0.8" fill-opacity="0.78"/>
<rect x="303.7" y="722.7" width="1.5" height="17.1" fill="#e6a88f" stroke="none" stroke-width="0.8"/>
<rect x="304.7" y="709.9" width="1.3" height="29.9" fill="#7aacd8" stroke="none" stroke-width="0.8" fill-opacity="0.78"/>
<rect x="306.2" y="717.9" width="1.5" height="21.9" fill="#e6a88f" stroke="none" stroke-width="0.8"/>
<rect x="307.2" y="713.7" width="1.3" height="26.1" fill="#7aacd8" stroke="none" stroke-width="0.8" fill-opacity="0.78"/>
<rect x="308.6" y="718.9" width="1.5" height="20.9" fill="#e6a88f" stroke="none" stroke-width="0.8"/>
<rect x="311.1" y="721.3" width="1.5" height="18.5" fill="#e6a88f" stroke="none" stroke-width="0.8"/>
<rect x="318.5" y="731.8" width="1.5" height="8" fill="#e6a88f" stroke="none" stroke-width="0.8"/>
<rect x="324.5" y="718.5" width="1.3" height="21.3" fill="#7aacd8" stroke="none" stroke-width="0.8" fill-opacity="0.78"/>
<rect x="325.9" y="718.5" width="1.5" height="21.3" fill="#e6a88f" stroke="none" stroke-width="0.8"/>
<rect x="327" y="725.2" width="1.3" height="14.6" fill="#7aacd8" stroke="none" stroke-width="0.8" fill-opacity="0.78"/>
<rect x="328.4" y="728.5" width="1.5" height="11.3" fill="#e6a88f" stroke="none" stroke-width="0.8"/>
<rect x="331.9" y="725.2" width="1.3" height="14.6" fill="#7aacd8" stroke="none" stroke-width="0.8" fill-opacity="0.78"/>
<rect x="334.4" y="725.2" width="1.3" height="14.6" fill="#7aacd8" stroke="none" stroke-width="0.8" fill-opacity="0.78"/>
<rect x="336.8" y="725.2" width="1.3" height="14.6" fill="#7aacd8" stroke="none" stroke-width="0.8" fill-opacity="0.78"/>
<rect x="340.7" y="725.2" width="1.5" height="14.6" fill="#e6a88f" stroke="none" stroke-width="0.8"/>
<rect x="341.8" y="721.8" width="1.3" height="18" fill="#7aacd8" stroke="none" stroke-width="0.8" fill-opacity="0.78"/>
<rect x="343.2" y="731.8" width="1.5" height="8" fill="#e6a88f" stroke="none" stroke-width="0.8"/>
<rect x="344.2" y="728.5" width="1.3" height="11.3" fill="#7aacd8" stroke="none" stroke-width="0.8" fill-opacity="0.78"/>
<rect x="348.1" y="731.8" width="1.5" height="8" fill="#e6a88f" stroke="none" stroke-width="0.8"/>
<rect x="358" y="731.8" width="1.5" height="8" fill="#e6a88f" stroke="none" stroke-width="0.8"/>
<rect x="360.5" y="731.8" width="1.5" height="8" fill="#e6a88f" stroke="none" stroke-width="0.8"/>
<rect x="222.2" y="648.6" width="146.2" height="91.2" fill="none" stroke="#333" stroke-width="0.8"/>
<line x1="244.9" y1="739.8" x2="244.9" y2="738.2" stroke="#333" stroke-width="0.6" stroke-linecap="butt"/>
<line x1="244.9" y1="648.6" x2="244.9" y2="650.2" stroke="#333" stroke-width="0.6" stroke-linecap="butt"/>
<text x="244.9" y="748.8" font-size="7.4" fill="#262626" stroke="#262626" stroke-width="0.14" text-anchor="middle">1</text>
<line x1="269.6" y1="739.8" x2="269.6" y2="738.2" stroke="#333" stroke-width="0.6" stroke-linecap="butt"/>
<line x1="269.6" y1="648.6" x2="269.6" y2="650.2" stroke="#333" stroke-width="0.6" stroke-linecap="butt"/>
<text x="269.6" y="748.8" font-size="7.4" fill="#262626" stroke="#262626" stroke-width="0.14" text-anchor="middle">2</text>
<line x1="294.3" y1="739.8" x2="294.3" y2="738.2" stroke="#333" stroke-width="0.6" stroke-linecap="butt"/>
<line x1="294.3" y1="648.6" x2="294.3" y2="650.2" stroke="#333" stroke-width="0.6" stroke-linecap="butt"/>
<text x="294.3" y="748.8" font-size="7.4" fill="#262626" stroke="#262626" stroke-width="0.14" text-anchor="middle">3</text>
<line x1="319" y1="739.8" x2="319" y2="738.2" stroke="#333" stroke-width="0.6" stroke-linecap="butt"/>
<line x1="319" y1="648.6" x2="319" y2="650.2" stroke="#333" stroke-width="0.6" stroke-linecap="butt"/>
<text x="319" y="748.8" font-size="7.4" fill="#262626" stroke="#262626" stroke-width="0.14" text-anchor="middle">4</text>
<line x1="343.7" y1="739.8" x2="343.7" y2="738.2" stroke="#333" stroke-width="0.6" stroke-linecap="butt"/>
<line x1="343.7" y1="648.6" x2="343.7" y2="650.2" stroke="#333" stroke-width="0.6" stroke-linecap="butt"/>
<text x="343.7" y="748.8" font-size="7.4" fill="#262626" stroke="#262626" stroke-width="0.14" text-anchor="middle">5</text>
<line x1="368.4" y1="739.8" x2="368.4" y2="738.2" stroke="#333" stroke-width="0.6" stroke-linecap="butt"/>
<line x1="368.4" y1="648.6" x2="368.4" y2="650.2" stroke="#333" stroke-width="0.6" stroke-linecap="butt"/>
<text x="368.4" y="748.8" font-size="7.4" fill="#262626" stroke="#262626" stroke-width="0.14" text-anchor="middle">6</text>
<line x1="222.2" y1="658.6" x2="224" y2="658.6" stroke="#333" stroke-width="0.6" stroke-linecap="butt"/>
<line x1="368.4" y1="658.6" x2="366.6" y2="658.6" stroke="#333" stroke-width="0.6" stroke-linecap="butt"/>
<text x="219" y="661.2" font-size="7.2" fill="#262626" stroke="#262626" stroke-width="0.14" text-anchor="end">10<tspan font-size="4.6" dy="-2.6">-1</tspan></text>
<line x1="222.2" y1="691.9" x2="224" y2="691.9" stroke="#333" stroke-width="0.6" stroke-linecap="butt"/>
<line x1="368.4" y1="691.9" x2="366.6" y2="691.9" stroke="#333" stroke-width="0.6" stroke-linecap="butt"/>
<text x="219" y="694.5" font-size="7.2" fill="#262626" stroke="#262626" stroke-width="0.14" text-anchor="end">10<tspan font-size="4.6" dy="-2.6">-2</tspan></text>
<line x1="222.2" y1="725.2" x2="224" y2="725.2" stroke="#333" stroke-width="0.6" stroke-linecap="butt"/>
<line x1="368.4" y1="725.2" x2="366.6" y2="725.2" stroke="#333" stroke-width="0.6" stroke-linecap="butt"/>
<text x="219" y="727.7" font-size="7.2" fill="#262626" stroke="#262626" stroke-width="0.14" text-anchor="end">10<tspan font-size="4.6" dy="-2.6">-3</tspan></text>
<text x="296" y="758.8" font-size="8.5" fill="#262626" stroke="#262626" stroke-width="0.14" text-anchor="middle">Transport segment length (seconds)</text>
<rect x="328.5" y="658.7" width="31.3" height="20.3" fill="#fff" stroke="#333" stroke-width="0.6"/>
<rect x="330.8" y="660.9" width="9.2" height="6" fill="#e6a88f" stroke="none" stroke-width="0.8"/>
<rect x="330.8" y="670.2" width="9.2" height="6" fill="#85b5de" stroke="none" stroke-width="0.8"/>
<text x="341.5" y="666.2" font-size="6.5" fill="#111" stroke="#111" stroke-width="0.14">Small</text>
<text x="341.5" y="675.5" font-size="6.5" fill="#111" stroke="#111" stroke-width="0.14">Large</text>
<text x="403.1" y="565.4" font-size="14" fill="#000" font-weight="bold">I</text>
<polygon points="467.8,583.3 467.8,605.5 467.8,636.2 467.7,660 467.6,669.6 467.5,672.3 467.2,674 466.7,676 466,677.1 465.2,679 464.4,682.8 463.6,687.5 462.8,691.7 462,694.9 461.2,697.5 460.6,700 460.1,702.4 459.8,704.6 459.7,706.6 460,708.2 460.5,709.5 461.1,711 461.8,712.8 462.7,714.6 463.5,716.5 464.2,718.3 464.7,720.1 465.3,722 465.9,724.3 466.4,726.8 466.9,729 467.2,730.5 467.4,731.6 467.6,733 467.7,735.1 467.8,737.4 467.8,739 468.4,739 468.4,737.4 468.5,735.1 468.6,733 468.8,731.6 469,730.5 469.3,729 469.8,726.8 470.3,724.3 470.9,722 471.5,720.1 472,718.3 472.7,716.5 473.5,714.6 474.4,712.8 475.1,711 475.7,709.5 476.2,708.2 476.5,706.6 476.4,704.6 476.1,702.4 475.6,700 475,697.5 474.2,694.9 473.4,691.7 472.6,687.5 471.8,682.8 471,679 470.2,677.1 469.5,676 469,674 468.7,672.3 468.6,669.6 468.5,660 468.4,636.2 468.4,605.5 468.4,583.3" fill="#d3d3d3" stroke="#b8b8b8" stroke-width="0.3"/>
<polygon points="488.9,583.3 488.9,608.5 488.9,643.3 488.8,670 488.7,680.3 488.5,682.5 488.2,684 487.8,687 487.4,689.4 486.7,691.7 485.6,694.2 484.4,696.8 483.2,699 482.2,700.8 481.3,702.4 480.9,704 481.2,705.8 482,707.5 483,709 484.2,710 485.6,710.8 486.7,711.5 487.5,712.3 488,713.1 488.4,714 488.7,715.4 488.8,716.9 488.9,718 489.5,718 489.6,716.9 489.7,715.4 490,714 490.4,713.1 490.9,712.3 491.7,711.5 492.8,710.8 494.2,710 495.4,709 496.4,707.5 497.2,705.8 497.5,704 497.1,702.4 496.2,700.8 495.2,699 494,696.8 492.8,694.2 491.7,691.7 491,689.4 490.6,687 490.2,684 489.9,682.5 489.7,680.3 489.6,670 489.5,643.3 489.5,608.5 489.5,583.3" fill="#d3d3d3" stroke="#b8b8b8" stroke-width="0.3"/>
<polygon points="532.1,583.3 532.1,599.6 532,622.1 531.9,640 531.8,648 531.6,651.4 531.4,654.5 531.2,658.8 530.9,662.8 530.4,666.9 529.7,671.1 528.8,675.4 527.9,679.3 527,682.9 526.2,686.2 525.4,689.2 524.6,691.8 523.8,694.1 523.6,696.7 524.2,699.9 525.3,703.4 526.4,706.6 527.4,709.3 528.5,711.7 529.4,714 530,716.2 530.5,718.2 530.9,720 531.2,721.4 531.4,722.6 531.6,724 531.8,725.9 532,727.9 532.1,729.3 532.7,729.3 532.8,727.9 533,725.9 533.2,724 533.4,722.6 533.6,721.4 533.9,720 534.3,718.2 534.8,716.2 535.4,714 536.3,711.7 537.4,709.3 538.4,706.6 539.5,703.4 540.6,699.9 541.2,696.7 541,694.1 540.2,691.8 539.4,689.2 538.6,686.2 537.8,682.9 536.9,679.3 536,675.4 535.1,671.1 534.4,666.9 533.9,662.8 533.6,658.8 533.4,654.5 533.2,651.4 533,648 532.9,640 532.8,622.1 532.7,599.6 532.7,583.3" fill="#d3d3d3" stroke="#b8b8b8" stroke-width="0.3"/>
<polygon points="596.6,583.3 596.5,586.4 596.3,590.8 596.1,595 595.9,598.3 595.6,601.4 595.2,604.8 594.8,608.7 594.3,612.8 593.7,617 593.1,621.2 592.4,625.4 591.7,629.6 591.1,633.7 590.5,637.9 589.9,642 589.3,646.3 588.8,650.6 588.4,654.5 588.1,657.9 587.8,660.9 587.7,664 587.6,667 587.6,670.1 587.8,674 588.3,679.3 589.1,685.5 589.9,691.7 590.7,697.6 591.6,703.4 592.4,709 593.3,714.4 594.2,719.5 594.9,724 595.4,727.6 595.7,730.4 596,733 596.3,735.4 596.5,737.6 596.6,739 597.2,739 597.3,737.6 597.5,735.4 597.8,733 598.1,730.4 598.4,727.6 598.9,724 599.6,719.5 600.5,714.4 601.4,709 602.2,703.4 603.1,697.6 603.9,691.7 604.7,685.5 605.5,679.3 606,674 606.2,670.1 606.2,667 606.1,664 606,660.9 605.7,657.9 605.4,654.5 605,650.6 604.5,646.3 603.9,642 603.3,637.9 602.7,633.7 602.1,629.6 601.4,625.4 600.7,621.2 600.1,617 599.5,612.8 599,608.7 598.6,604.8 598.2,601.4 597.9,598.3 597.7,595 597.5,590.8 597.3,586.4 597.2,583.3" fill="#d3d3d3" stroke="#b8b8b8" stroke-width="0.3"/>
<polyline points="468.3,583.3 468.3,571 596.9,571 596.9,583.3" fill="none" stroke="#9a9a9a" stroke-width="0.7" stroke-linejoin="miter" stroke-linecap="butt"/>
<polyline points="468.3,583.3 468.3,575.5 532.4,575.5 532.4,583.3" fill="none" stroke="#9a9a9a" stroke-width="0.7" stroke-linejoin="miter" stroke-linecap="butt"/>
<polyline points="468.3,583.3 468.3,579.6 489.2,579.6 489.2,583.3" fill="none" stroke="#9a9a9a" stroke-width="0.7" stroke-linejoin="miter" stroke-linecap="butt"/>
<text x="500" y="584.7" font-size="9.5" fill="#111" text-anchor="middle" font-weight="bold">****</text>
<text x="538.4" y="584.7" font-size="9.5" fill="#111" text-anchor="middle" font-weight="bold">**</text>
<text x="602.6" y="582.1" font-size="8.6" fill="#111" stroke="#111" stroke-width="0.14" text-anchor="middle">ns</text>
<rect x="461.2" y="693.6" width="13.1" height="2.2" fill="#000" stroke="none" stroke-width="0.8"/>
<rect x="487.2" y="685.1" width="4.5" height="2.2" fill="#000" stroke="none" stroke-width="0.8"/>
<rect x="528.2" y="680.7" width="9.2" height="2.2" fill="#000" stroke="none" stroke-width="0.8"/>
<rect x="592" y="672.7" width="13.1" height="2.2" fill="#000" stroke="none" stroke-width="0.8"/>
<rect x="460.4" y="704.2" width="15.7" height="2.2" fill="#ff0000" stroke="none" stroke-width="0.8"/>
<rect x="484.7" y="698.8" width="11.2" height="2.2" fill="#ff0000" stroke="none" stroke-width="0.8"/>
<rect x="524.5" y="692.1" width="16.1" height="2.2" fill="#ff0000" stroke="none" stroke-width="0.8"/>
<rect x="588.5" y="670.7" width="9.2" height="2.2" fill="#ff0000" stroke="none" stroke-width="0.8"/>
<polyline points="468.1,705.3 489.2,699.9 532.4,693.2 596.9,672.3" fill="none" stroke="#0072bd" stroke-width="2" stroke-linejoin="round" stroke-linecap="round"/>
<line x1="596.9" y1="672.3" x2="621.6" y2="672.3" stroke="#0072bd" stroke-width="0.9" stroke-linecap="butt"/>
<circle cx="621.6" cy="672.3" r="0.8" fill="#0072bd"/>
<line x1="468.1" y1="696.2" x2="468.1" y2="707" stroke="#0072bd" stroke-width="0.9" stroke-linecap="butt"/>
<line x1="466.9" y1="696.2" x2="469.3" y2="696.2" stroke="#0072bd" stroke-width="0.9" stroke-linecap="butt"/>
<line x1="466.9" y1="707" x2="469.3" y2="707" stroke="#0072bd" stroke-width="0.9" stroke-linecap="butt"/>
<line x1="489.2" y1="681.8" x2="489.2" y2="705.3" stroke="#0072bd" stroke-width="0.9" stroke-linecap="butt"/>
<line x1="488" y1="681.8" x2="490.4" y2="681.8" stroke="#0072bd" stroke-width="0.9" stroke-linecap="butt"/>
<line x1="488" y1="705.3" x2="490.4" y2="705.3" stroke="#0072bd" stroke-width="0.9" stroke-linecap="butt"/>
<line x1="532.4" y1="679.3" x2="532.4" y2="701.1" stroke="#0072bd" stroke-width="0.9" stroke-linecap="butt"/>
<line x1="531.2" y1="679.3" x2="533.6" y2="679.3" stroke="#0072bd" stroke-width="0.9" stroke-linecap="butt"/>
<line x1="531.2" y1="701.1" x2="533.6" y2="701.1" stroke="#0072bd" stroke-width="0.9" stroke-linecap="butt"/>
<line x1="596.9" y1="655.2" x2="596.9" y2="692.2" stroke="#0072bd" stroke-width="0.9" stroke-linecap="butt"/>
<line x1="595.7" y1="655.2" x2="598.1" y2="655.2" stroke="#0072bd" stroke-width="0.9" stroke-linecap="butt"/>
<line x1="595.7" y1="692.2" x2="598.1" y2="692.2" stroke="#0072bd" stroke-width="0.9" stroke-linecap="butt"/>
<circle cx="468.1" cy="705.3" r="1.7" fill="#0072bd"/>
<circle cx="489.2" cy="699.9" r="1.7" fill="#0072bd"/>
<circle cx="532.4" cy="693.2" r="1.7" fill="#0072bd"/>
<circle cx="596.9" cy="672.3" r="1.7" fill="#0072bd"/>
<rect x="449.7" y="583.3" width="186.6" height="156.2" fill="none" stroke="#4d4d4d" stroke-width="0.8"/>
<text x="466.7" y="748.2" font-size="7.4" fill="#262626" stroke="#262626" stroke-width="0.14" text-anchor="middle">0</text>
<text x="500.6" y="748.2" font-size="7.4" fill="#262626" stroke="#262626" stroke-width="0.14" text-anchor="middle">20</text>
<text x="534.5" y="748.2" font-size="7.4" fill="#262626" stroke="#262626" stroke-width="0.14" text-anchor="middle">40</text>
<text x="568.4" y="748.2" font-size="7.4" fill="#262626" stroke="#262626" stroke-width="0.14" text-anchor="middle">60</text>
<text x="602.4" y="748.2" font-size="7.4" fill="#262626" stroke="#262626" stroke-width="0.14" text-anchor="middle">80</text>
<text x="636.3" y="748.2" font-size="7.4" fill="#262626" stroke="#262626" stroke-width="0.14" text-anchor="middle">100</text>
<text x="447.5" y="742.2" font-size="7.4" fill="#262626" stroke="#262626" stroke-width="0.14" text-anchor="end">-0.02</text>
<text x="447.5" y="710.9" font-size="7.4" fill="#262626" stroke="#262626" stroke-width="0.14" text-anchor="end">0</text>
<text x="447.5" y="679.7" font-size="7.4" fill="#262626" stroke="#262626" stroke-width="0.14" text-anchor="end">0.02</text>
<text x="447.5" y="648.4" font-size="7.4" fill="#262626" stroke="#262626" stroke-width="0.14" text-anchor="end">0.04</text>
<text x="447.5" y="617.2" font-size="7.4" fill="#262626" stroke="#262626" stroke-width="0.14" text-anchor="end">0.06</text>
<text x="447.5" y="586" font-size="7.4" fill="#262626" stroke="#262626" stroke-width="0.14" text-anchor="end">0.08</text>
<text x="543" y="757.8" font-size="8.5" fill="#262626" stroke="#262626" stroke-width="0.14" text-anchor="middle">Pause length (seconds)</text>
<text transform="translate(426,661) rotate(-90)" font-size="8.3" fill="#262626" stroke="#262626" stroke-width="0.14" text-anchor="middle">Diffusion constant of single particle (µm<tspan font-size="5.2" dy="-3">2</tspan><tspan dy="3">/s)</tspan></text>
<text x="486.2" y="730.9" font-size="5.5" fill="#1f78c1" stroke="#1f78c1" stroke-width="0.3" text-anchor="middle" font-weight="bold">(1.1, 0.002)</text>
<text x="507.1" y="716" font-size="5.5" fill="#1f78c1" stroke="#1f78c1" stroke-width="0.3" text-anchor="middle" font-weight="bold">(13.6, 0.006)</text>
<text x="555.9" y="697.9" font-size="5.5" fill="#1f78c1" stroke="#1f78c1" stroke-width="0.3" text-anchor="middle" font-weight="bold">(39, 0.010)</text>
<text x="619.6" y="681" font-size="5.5" fill="#1f78c1" stroke="#1f78c1" stroke-width="0.3" text-anchor="middle" font-weight="bold">(77, 0.0232)</text>
<line x1="541.3" y1="594.4" x2="557.2" y2="594.4" stroke="#000" stroke-width="1.8" stroke-linecap="butt"/>
<text x="558.8" y="597.1" font-size="7.4" fill="#262626" stroke="#262626" stroke-width="0.14">Mean</text>
<rect x="541.3" y="602.9" width="15.9" height="2.5" fill="#ff0000" stroke="none" stroke-width="0.8"/>
<polyline points="542,607 548.5,604.9 551,603.4 557,601.6" fill="none" stroke="#0072bd" stroke-width="2" stroke-linejoin="round" stroke-linecap="butt"/>
<line x1="547.8" y1="600.8" x2="547.8" y2="607.6" stroke="#0072bd" stroke-width="1.3" stroke-linecap="butt"/>
<line x1="552.5" y1="600.6" x2="552.5" y2="606.8" stroke="#0072bd" stroke-width="1.3" stroke-linecap="butt"/>
<line x1="545" y1="607.4" x2="550" y2="606.6" stroke="#0072bd" stroke-width="1.2" stroke-linecap="butt"/>
<line x1="551" y1="600.9" x2="555.5" y2="600.5" stroke="#0072bd" stroke-width="1.2" stroke-linecap="butt"/>
<text x="558.8" y="606.8" font-size="7.4" fill="#262626" stroke="#262626" stroke-width="0.14">Median</text>
</svg></body></html>
